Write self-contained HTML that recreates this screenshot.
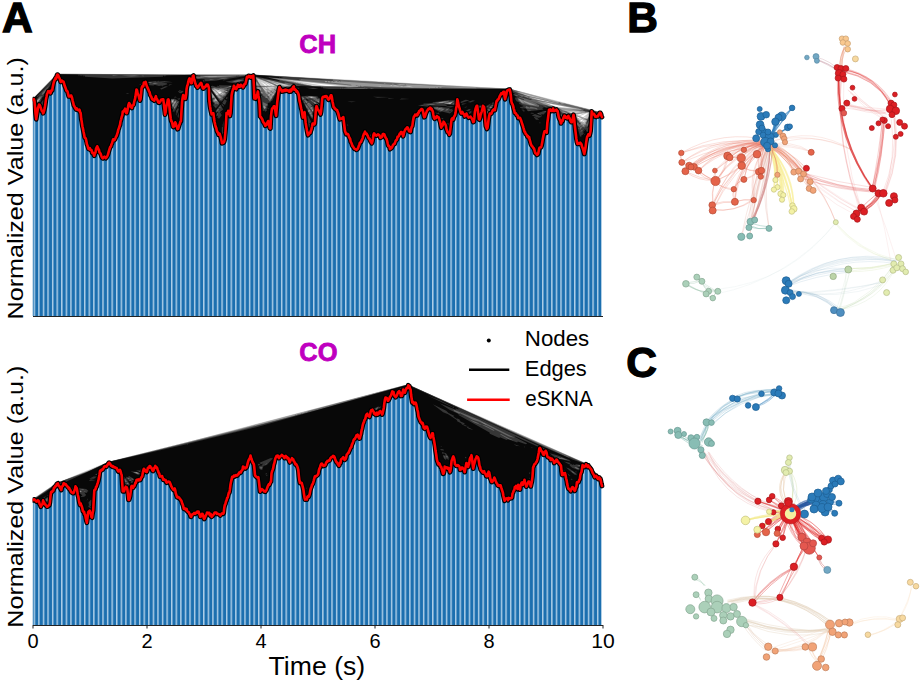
<!DOCTYPE html><html><head><meta charset="utf-8"><style>
html,body{margin:0;padding:0;background:#fff;overflow:hidden;}
svg{display:block;}
text{font-family:"Liberation Sans",sans-serif;}
</style></head><body>
<svg width="922" height="686" viewBox="0 0 922 686">
<defs>
<pattern id="bars" patternUnits="userSpaceOnUse" x="33.6" y="0" width="4.58" height="10">
<rect width="4.58" height="10" fill="#1c6faf"/>
<rect x="0" width="1.45" height="10" fill="#afcfe8"/>
</pattern>
</defs>
<rect width="922" height="686" fill="#fff"/>

<clipPath id="c1"><polygon points="32.5,316.0 32.8,99.7 33.4,99.2 33.9,99.1 34.5,101.2 35.1,108.2 35.6,114.3 36.2,119.3 36.8,115.3 37.4,111.8 37.9,107.8 38.5,106.7 39.1,104.5 39.6,105.0 40.2,106.0 40.8,108.0 41.3,109.4 41.9,111.2 42.5,111.3 43.1,113.3 43.6,112.5 44.2,110.4 44.8,107.6 45.3,104.6 45.9,99.8 46.5,96.9 47.0,94.0 47.6,92.8 48.2,91.2 48.8,91.9 49.3,91.7 49.9,91.1 50.5,93.3 51.0,91.3 51.6,90.2 52.2,90.4 52.7,87.3 53.3,84.2 53.9,81.7 54.5,80.2 55.0,79.7 55.6,77.9 56.2,78.7 56.7,76.2 57.3,74.6 57.9,74.8 58.4,75.7 59.0,77.3 59.6,78.4 60.1,79.9 60.7,81.9 61.3,81.4 61.9,80.7 62.4,81.0 63.0,81.6 63.6,81.8 64.1,83.5 64.7,85.8 65.3,87.2 65.8,88.6 66.4,90.7 67.0,90.7 67.6,91.9 68.1,94.0 68.7,96.3 69.3,96.0 69.8,96.4 70.4,95.9 71.0,95.3 71.5,96.1 72.1,97.9 72.7,100.8 73.3,103.0 73.8,105.5 74.4,106.2 75.0,107.6 75.5,108.3 76.1,109.4 76.7,108.4 77.2,109.5 77.8,109.9 78.4,109.7 79.0,110.4 79.5,109.7 80.1,112.1 80.7,113.2 81.2,118.8 81.8,122.1 82.4,126.2 82.9,128.3 83.5,131.5 84.1,134.3 84.6,137.2 85.2,138.1 85.8,138.4 86.4,141.2 86.9,144.2 87.5,145.5 88.1,147.7 88.6,149.0 89.2,149.1 89.8,148.2 90.3,149.8 90.9,149.8 91.5,150.0 92.1,152.6 92.6,152.4 93.2,153.1 93.8,154.9 94.3,155.7 94.9,153.0 95.5,152.6 96.0,148.9 96.6,147.6 97.2,146.3 97.8,147.4 98.3,149.4 98.9,149.5 99.5,152.4 100.0,152.8 100.6,153.7 101.2,155.5 101.7,156.8 102.3,157.9 102.9,158.3 103.5,157.4 104.0,157.0 104.6,156.7 105.2,157.5 105.7,158.2 106.3,157.6 106.9,156.8 107.4,155.8 108.0,154.4 108.6,152.2 109.1,150.4 109.7,148.5 110.3,146.8 110.9,146.5 111.4,144.4 112.0,143.5 112.6,141.0 113.1,139.3 113.7,139.3 114.3,140.1 114.8,139.6 115.4,138.2 116.0,136.6 116.6,135.9 117.1,134.2 117.7,132.4 118.3,129.5 118.8,128.5 119.4,126.4 120.0,124.8 120.5,121.5 121.1,119.5 121.7,116.9 122.3,115.3 122.8,111.5 123.4,111.9 124.0,110.4 124.5,110.5 125.1,108.7 125.7,109.8 126.2,113.1 126.8,113.1 127.4,110.9 128.0,107.4 128.5,104.6 129.1,103.0 129.7,103.8 130.2,105.6 130.8,107.0 131.4,107.3 131.9,107.9 132.5,105.3 133.1,105.3 133.6,104.9 134.2,101.7 134.8,99.9 135.4,97.1 135.9,93.4 136.5,89.5 137.1,90.4 137.6,93.3 138.2,94.6 138.8,96.2 139.3,98.4 139.9,100.6 140.5,99.1 141.1,93.6 141.6,88.2 142.2,86.3 142.8,86.0 143.3,86.3 143.9,82.5 144.5,83.3 145.0,83.1 145.6,81.9 146.2,84.1 146.8,86.2 147.3,87.2 147.9,88.4 148.5,89.7 149.0,91.2 149.6,92.1 150.2,95.0 150.7,95.8 151.3,96.7 151.9,98.7 152.5,99.5 153.0,99.8 153.6,99.6 154.2,100.7 154.7,99.3 155.3,97.8 155.9,96.2 156.4,98.5 157.0,99.2 157.6,100.4 158.1,102.1 158.7,102.7 159.3,102.8 159.9,101.7 160.4,101.4 161.0,99.8 161.6,99.7 162.1,99.4 162.7,99.4 163.3,99.4 163.8,103.3 164.4,108.7 165.0,114.6 165.6,112.4 166.1,107.7 166.7,104.9 167.3,102.7 167.8,99.8 168.4,99.3 169.0,101.1 169.5,107.8 170.1,113.5 170.7,118.2 171.3,121.3 171.8,121.5 172.4,123.9 173.0,126.8 173.5,127.0 174.1,126.2 174.7,123.5 175.2,122.3 175.8,123.4 176.4,126.0 177.0,127.0 177.5,129.2 178.1,128.9 178.7,126.8 179.2,125.2 179.8,123.7 180.4,121.7 180.9,121.3 181.5,110.5 182.1,101.4 182.6,98.0 183.2,95.0 183.8,95.7 184.4,97.3 184.9,98.9 185.5,98.9 186.1,94.8 186.6,88.9 187.2,85.8 187.8,84.5 188.3,81.5 188.9,79.5 189.5,78.3 190.1,78.8 190.6,80.9 191.2,83.2 191.8,83.0 192.3,79.2 192.9,76.0 193.5,75.5 194.0,79.1 194.6,80.3 195.2,83.1 195.8,84.3 196.3,86.1 196.9,86.4 197.5,87.6 198.0,87.1 198.6,86.0 199.2,85.4 199.7,84.4 200.3,83.7 200.9,82.9 201.5,83.5 202.0,85.7 202.6,87.7 203.2,88.6 203.7,88.4 204.3,87.1 204.9,87.1 205.4,86.8 206.0,85.6 206.6,84.7 207.1,85.6 207.7,84.7 208.3,85.8 208.9,88.0 209.4,101.2 210.0,106.2 210.6,109.7 211.1,112.0 211.7,114.3 212.3,113.6 212.8,113.2 213.4,113.3 214.0,118.3 214.6,122.0 215.1,124.3 215.7,126.7 216.3,128.1 216.8,130.5 217.4,132.0 218.0,132.6 218.5,134.8 219.1,133.6 219.7,133.8 220.3,135.8 220.8,137.4 221.4,140.0 222.0,143.3 222.5,142.7 223.1,142.9 223.7,142.5 224.2,141.5 224.8,138.9 225.4,132.2 226.0,123.0 226.5,113.1 227.1,113.3 227.7,113.9 228.2,110.9 228.8,111.0 229.4,114.1 229.9,116.0 230.5,113.3 231.1,103.4 231.6,95.2 232.2,92.1 232.8,90.0 233.4,88.0 233.9,85.8 234.5,86.6 235.1,88.7 235.6,88.9 236.2,89.2 236.8,87.9 237.3,86.8 237.9,84.8 238.5,85.1 239.1,86.8 239.6,86.7 240.2,86.5 240.8,84.8 241.3,85.5 241.9,85.6 242.5,86.4 243.0,87.3 243.6,86.3 244.2,84.6 244.8,83.8 245.3,84.0 245.9,81.9 246.5,78.9 247.0,76.9 247.6,77.5 248.2,76.7 248.7,75.9 249.3,76.9 249.9,77.1 250.5,76.2 251.0,77.6 251.6,77.3 252.2,76.2 252.7,75.9 253.3,75.5 253.9,86.3 254.4,98.4 255.0,98.4 255.6,98.7 256.1,98.1 256.7,95.2 257.3,93.7 257.9,91.4 258.4,95.5 259.0,98.7 259.6,104.4 260.1,116.4 260.7,116.9 261.3,117.6 261.8,118.6 262.4,119.3 263.0,121.6 263.6,122.6 264.1,122.7 264.7,124.3 265.3,125.8 265.8,125.3 266.4,125.1 267.0,123.4 267.5,122.1 268.1,121.0 268.7,122.9 269.3,126.1 269.8,128.2 270.4,128.5 271.0,115.8 271.5,111.8 272.1,108.5 272.7,108.4 273.2,107.8 273.8,106.2 274.4,106.3 275.0,107.8 275.5,112.1 276.1,115.8 276.7,108.6 277.2,102.4 277.8,97.7 278.4,92.7 278.9,89.5 279.5,87.1 280.1,88.8 280.6,89.1 281.2,89.9 281.8,91.4 282.4,90.7 282.9,91.3 283.5,90.3 284.1,91.0 284.6,90.2 285.2,89.6 285.8,90.8 286.3,89.8 286.9,90.3 287.5,90.4 288.1,90.4 288.6,91.3 289.2,91.6 289.8,91.5 290.3,89.8 290.9,91.4 291.5,90.4 292.0,88.7 292.6,88.4 293.2,87.0 293.8,86.4 294.3,89.7 294.9,89.2 295.5,89.6 296.0,90.2 296.6,91.7 297.2,91.4 297.7,92.4 298.3,93.6 298.9,95.7 299.5,100.6 300.0,102.6 300.6,105.5 301.2,108.5 301.7,110.4 302.3,114.5 302.9,117.6 303.4,116.1 304.0,113.6 304.6,112.1 305.1,117.1 305.7,123.0 306.3,126.6 306.9,130.2 307.4,132.7 308.0,135.2 308.6,134.5 309.1,132.9 309.7,132.6 310.3,132.8 310.8,131.0 311.4,129.4 312.0,126.7 312.6,123.6 313.1,124.6 313.7,123.6 314.3,124.4 314.8,123.6 315.4,116.3 316.0,108.0 316.5,106.0 317.1,107.3 317.7,109.5 318.3,110.0 318.8,110.9 319.4,111.8 320.0,113.1 320.5,114.4 321.1,111.7 321.7,105.0 322.2,98.4 322.8,97.0 323.4,96.8 324.0,97.0 324.5,96.3 325.1,96.8 325.7,96.1 326.2,96.1 326.8,96.6 327.4,97.7 327.9,99.0 328.5,99.8 329.1,98.9 329.7,98.5 330.2,97.0 330.8,95.4 331.4,95.3 331.9,97.4 332.5,101.5 333.1,104.1 333.6,107.1 334.2,107.4 334.8,108.6 335.3,108.6 335.9,109.5 336.5,109.8 337.1,110.2 337.6,111.8 338.2,113.1 338.8,115.6 339.3,117.7 339.9,119.3 340.5,118.5 341.0,118.5 341.6,118.7 342.2,118.3 342.8,117.8 343.3,117.0 343.9,122.0 344.5,127.0 345.0,130.9 345.6,132.4 346.2,134.2 346.7,133.7 347.3,134.0 347.9,134.0 348.5,135.2 349.0,136.8 349.6,138.0 350.2,139.0 350.7,141.7 351.3,142.6 351.9,144.2 352.4,145.9 353.0,146.3 353.6,147.4 354.2,148.4 354.7,148.8 355.3,149.1 355.9,149.4 356.4,149.8 357.0,149.4 357.6,149.0 358.1,147.9 358.7,146.1 359.3,144.7 359.8,142.9 360.4,142.3 361.0,142.1 361.6,140.3 362.1,139.6 362.7,137.8 363.3,135.4 363.8,134.2 364.4,133.0 365.0,131.7 365.5,133.8 366.1,133.3 366.7,133.8 367.3,135.2 367.8,135.8 368.4,137.6 369.0,138.5 369.5,138.5 370.1,140.3 370.7,141.7 371.2,142.2 371.8,143.3 372.4,141.6 373.0,138.2 373.5,134.5 374.1,133.3 374.7,134.2 375.2,135.1 375.8,135.2 376.4,135.6 376.9,135.0 377.5,134.8 378.1,134.3 378.7,134.9 379.2,135.0 379.8,136.2 380.4,137.8 380.9,137.5 381.5,137.3 382.1,136.7 382.6,134.5 383.2,133.9 383.8,134.5 384.3,134.3 384.9,135.9 385.5,137.4 386.1,138.5 386.6,139.0 387.2,141.2 387.8,144.0 388.3,145.8 388.9,145.8 389.5,147.0 390.0,149.2 390.6,147.4 391.2,148.3 391.8,147.7 392.3,146.7 392.9,145.2 393.5,144.6 394.0,143.7 394.6,143.9 395.2,142.1 395.7,140.8 396.3,139.9 396.9,139.7 397.5,136.9 398.0,136.9 398.6,136.3 399.2,135.1 399.7,133.6 400.3,133.8 400.9,132.1 401.4,132.0 402.0,132.3 402.6,134.2 403.2,136.3 403.7,134.2 404.3,131.7 404.9,130.5 405.4,129.3 406.0,128.9 406.6,128.2 407.1,127.4 407.7,127.5 408.3,129.0 408.8,130.7 409.4,131.5 410.0,130.9 410.6,131.9 411.1,128.8 411.7,126.8 412.3,126.1 412.8,122.3 413.4,118.7 414.0,116.4 414.5,116.0 415.1,114.7 415.7,115.4 416.3,115.5 416.8,114.3 417.4,115.2 418.0,113.0 418.5,113.2 419.1,111.2 419.7,110.6 420.2,110.7 420.8,109.7 421.4,109.0 422.0,109.0 422.5,109.6 423.1,111.5 423.7,115.3 424.2,117.2 424.8,116.9 425.4,115.1 425.9,113.5 426.5,112.1 427.1,110.6 427.7,110.0 428.2,109.1 428.8,108.7 429.4,108.9 429.9,107.9 430.5,107.8 431.1,109.4 431.6,108.8 432.2,110.5 432.8,111.3 433.3,114.4 433.9,117.5 434.5,118.8 435.1,117.4 435.6,117.6 436.2,118.0 436.8,116.0 437.3,116.9 437.9,116.8 438.5,117.1 439.0,118.2 439.6,120.5 440.2,122.2 440.8,125.4 441.3,127.7 441.9,125.5 442.5,125.6 443.0,124.0 443.6,121.7 444.2,122.3 444.7,123.5 445.3,124.3 445.9,125.8 446.5,129.4 447.0,130.4 447.6,132.3 448.2,132.5 448.7,133.0 449.3,134.7 449.9,133.5 450.4,129.1 451.0,123.8 451.6,119.2 452.2,118.4 452.7,118.7 453.3,119.5 453.9,116.9 454.4,116.1 455.0,115.2 455.6,112.6 456.1,108.5 456.7,105.7 457.3,99.3 457.8,100.9 458.4,104.0 459.0,106.8 459.6,108.4 460.1,110.5 460.7,112.5 461.3,113.5 461.8,113.4 462.4,111.9 463.0,113.5 463.5,113.7 464.1,114.2 464.7,116.5 465.3,114.5 465.8,114.6 466.4,113.5 467.0,114.6 467.5,116.3 468.1,116.9 468.7,117.6 469.2,117.2 469.8,117.3 470.4,116.5 471.0,117.4 471.5,117.9 472.1,119.0 472.7,120.3 473.2,122.1 473.8,121.7 474.4,117.4 474.9,111.8 475.5,109.0 476.1,107.2 476.7,105.7 477.2,105.7 477.8,110.3 478.4,115.0 478.9,119.0 479.5,119.6 480.1,117.7 480.6,114.8 481.2,113.1 481.8,111.3 482.3,109.4 482.9,105.9 483.5,106.3 484.1,107.0 484.6,111.1 485.2,119.3 485.8,126.1 486.3,127.4 486.9,128.9 487.5,127.8 488.0,124.3 488.6,119.4 489.2,116.1 489.8,113.5 490.3,114.1 490.9,113.8 491.5,113.4 492.0,111.8 492.6,110.7 493.2,109.8 493.7,110.3 494.3,109.2 494.9,110.2 495.5,106.6 496.0,104.0 496.6,101.1 497.2,100.8 497.7,99.5 498.3,99.4 498.9,98.3 499.4,97.0 500.0,95.6 500.6,94.8 501.2,93.3 501.7,94.1 502.3,93.8 502.9,92.6 503.4,91.7 504.0,91.7 504.6,96.8 505.1,99.3 505.7,96.8 506.3,94.5 506.8,91.3 507.4,90.3 508.0,90.4 508.6,89.8 509.1,89.6 509.7,89.5 510.3,92.1 510.8,95.2 511.4,101.5 512.0,103.6 512.5,104.1 513.1,105.9 513.7,108.6 514.3,110.4 514.8,112.9 515.4,113.2 516.0,113.5 516.5,114.8 517.1,115.3 517.7,115.7 518.2,118.0 518.8,117.6 519.4,118.0 520.0,117.9 520.5,118.9 521.1,120.3 521.7,122.3 522.2,124.0 522.8,125.5 523.4,127.6 523.9,129.2 524.5,131.6 525.1,132.1 525.7,133.9 526.2,134.2 526.8,135.0 527.4,136.5 527.9,136.0 528.5,137.6 529.1,137.1 529.6,139.5 530.2,141.4 530.8,143.8 531.3,145.1 531.9,145.9 532.5,146.5 533.1,147.6 533.6,148.0 534.2,149.0 534.8,151.4 535.3,153.2 535.9,153.5 536.5,154.0 537.0,154.9 537.6,154.4 538.2,153.8 538.8,150.7 539.3,148.2 539.9,147.4 540.5,147.2 541.0,147.3 541.6,145.6 542.2,142.6 542.7,139.4 543.3,136.3 543.9,133.4 544.5,131.3 545.0,131.2 545.6,131.1 546.2,132.1 546.7,132.7 547.3,123.3 547.9,118.9 548.4,114.8 549.0,109.7 549.6,109.8 550.2,109.4 550.7,110.7 551.3,110.3 551.9,111.0 552.4,110.6 553.0,108.6 553.6,110.1 554.1,111.0 554.7,110.8 555.3,110.4 555.8,110.4 556.4,109.5 557.0,111.0 557.6,111.1 558.1,113.7 558.7,117.1 559.3,118.6 559.8,119.5 560.4,120.8 561.0,123.4 561.5,122.2 562.1,120.4 562.7,120.8 563.3,118.1 563.8,117.2 564.4,115.7 565.0,115.9 565.5,117.7 566.1,117.7 566.7,118.1 567.2,118.3 567.8,116.5 568.4,115.8 569.0,118.0 569.5,117.9 570.1,119.7 570.7,121.3 571.2,122.2 571.8,122.2 572.4,120.5 572.9,117.7 573.5,114.8 574.1,117.7 574.7,124.4 575.2,129.2 575.8,134.0 576.4,138.9 576.9,142.0 577.5,143.9 578.1,143.3 578.6,143.0 579.2,143.8 579.8,143.3 580.3,142.7 580.9,143.6 581.5,144.4 582.1,146.9 582.6,147.9 583.2,149.9 583.8,152.2 584.3,154.0 584.9,150.7 585.5,147.8 586.0,143.6 586.6,139.6 587.2,136.6 587.8,135.9 588.3,134.3 588.9,134.6 589.5,135.5 590.0,133.7 590.6,130.8 591.2,121.2 591.7,111.4 592.3,112.8 592.9,114.1 593.5,114.4 594.0,113.8 594.6,114.8 595.2,116.6 595.7,116.4 596.3,116.9 596.9,116.3 597.4,115.9 598.0,116.3 598.6,114.7 599.2,114.3 599.7,112.9 600.3,112.8 600.9,113.9 601.4,115.7 601.7,117.1 601.7,316.0"/></clipPath>
<rect x="32.5" y="60" width="569.2" height="556.0" fill="url(#bars)" clip-path="url(#c1)"/>
<path fill="#c9c9c9" fill-rule="evenodd" d="M584.2 120.2 584.2 121.2 582.5 122.2ZM582.5 119.5 582.5 120.8 581.2 121.5 580.5 120.2ZM576.8 117.2 578.2 116.8 581.2 118.2 579.5 118.5ZM586.5 116.2 584.8 118.0 584.0 117.8ZM588.0 113.5 583.2 117.2 579.8 116.0 586.8 113.2ZM583.8 113.5 579.0 115.5 576.2 114.8ZM568.8 111.8 575.5 111.8 571.8 112.5ZM479.2 106.5 481.2 106.5 480.5 107.2ZM545.8 103.0 573.2 108.2 555.2 106.5ZM215.5 93.5 217.8 95.0 217.0 95.2ZM216.8 91.2 221.5 92.5 219.8 93.8ZM269.0 83.5 274.5 85.5 272.8 85.8ZM264.5 82.5 270.8 85.5 269.0 85.8ZM260.2 81.2 267.2 85.5 265.2 85.8ZM294.5 81.0 339.5 86.0 326.2 86.0ZM32.2 99.2 33.8 100.2 35.5 119.2 36.8 118.8 38.0 109.2 39.2 106.0 42.5 113.5 43.5 113.5 44.8 110.8 47.8 93.5 48.5 92.2 50.8 93.2 52.5 90.2 54.5 81.2 57.5 76.0 60.2 82.0 62.0 81.8 63.0 82.8 68.2 96.2 71.0 97.0 74.2 108.0 75.8 109.8 79.2 111.2 83.0 134.2 87.8 149.0 91.0 150.8 93.2 155.5 94.5 156.0 97.2 148.2 102.5 158.8 104.0 157.8 106.0 158.8 107.5 157.0 113.2 140.5 115.2 140.0 117.0 136.5 120.8 124.8 123.5 112.0 125.0 110.8 125.5 112.8 127.2 113.0 129.2 105.0 130.0 107.0 132.2 108.0 134.0 105.0 136.8 93.5 139.2 100.5 140.5 100.2 142.2 87.5 144.2 83.5 145.2 83.8 151.8 99.8 154.2 101.0 155.8 98.8 158.8 103.2 161.5 100.2 163.0 100.8 164.5 114.5 165.5 114.2 166.5 106.5 168.2 102.2 169.8 118.0 172.2 126.8 173.8 127.2 175.2 124.5 177.0 129.5 178.0 129.5 181.2 121.8 183.2 97.5 184.5 99.0 185.8 99.0 189.5 80.0 190.5 83.0 191.5 83.5 193.0 78.2 195.5 86.0 197.0 87.8 200.5 84.2 203.0 89.0 206.5 85.8 207.8 86.5 209.8 110.0 211.0 114.2 212.8 114.5 215.8 130.0 217.8 134.8 219.5 135.8 221.5 143.5 223.5 143.2 225.0 141.0 227.0 114.5 228.2 113.2 229.2 116.0 230.5 115.8 231.8 97.5 234.2 88.2 236.2 89.5 238.0 86.2 239.2 87.2 241.2 86.0 243.2 87.5 246.5 82.0 247.0 78.5 248.5 77.0 250.8 77.8 252.2 76.8 252.8 77.2 253.8 98.0 255.8 99.0 257.0 95.8 257.8 96.0 259.5 116.8 264.5 126.0 266.2 125.8 267.8 123.2 269.2 128.2 270.8 128.5 271.5 113.8 272.2 109.8 274.0 107.8 275.2 115.0 276.0 116.0 276.5 115.5 278.2 96.0 279.8 89.5 281.2 91.2 285.0 90.5 289.2 92.0 291.2 91.5 293.2 88.0 297.0 92.5 302.0 116.8 303.0 117.8 304.2 116.2 306.0 130.5 307.5 135.5 310.8 132.8 312.8 125.2 315.2 123.8 316.5 109.2 319.8 114.2 321.0 114.2 323.0 97.8 326.0 96.8 327.5 99.5 328.8 100.0 330.8 97.2 333.0 107.5 336.5 111.0 339.0 119.0 342.8 119.0 344.8 132.8 345.8 134.5 347.5 135.0 353.0 148.2 356.0 150.2 358.5 148.5 364.8 133.8 366.5 134.8 371.2 143.5 372.5 142.8 374.2 135.0 375.0 135.8 378.0 135.2 380.2 138.0 382.0 137.5 383.5 135.0 386.2 140.2 387.8 146.2 389.8 149.2 392.0 148.2 401.2 132.8 403.0 136.5 405.5 130.2 407.2 128.5 408.8 131.8 410.8 131.8 412.8 126.5 414.0 117.8 415.5 115.8 417.8 114.8 421.5 110.0 423.5 117.0 424.5 117.5 427.5 110.8 430.2 108.8 432.2 112.0 433.8 118.8 437.0 117.2 438.2 118.0 441.0 127.8 443.5 123.8 444.5 124.2 446.8 132.0 449.5 135.0 451.0 129.5 451.8 120.5 452.5 119.2 453.8 119.2 455.5 115.5 457.5 104.5 460.2 113.2 463.5 114.5 464.2 116.5 466.0 114.8 468.0 117.8 470.2 117.8 473.0 122.2 474.2 121.5 476.2 108.2 477.0 108.2 478.0 118.8 479.8 119.8 483.2 107.8 485.0 126.0 486.2 129.0 487.2 129.0 489.8 115.0 491.8 113.8 493.5 110.5 495.2 109.8 497.0 101.8 501.2 94.5 503.0 93.2 503.8 93.8 504.5 99.2 505.2 99.5 507.2 91.5 508.5 90.5 510.0 94.5 510.5 101.8 514.0 112.8 517.8 118.0 519.8 119.2 523.8 131.8 528.5 138.2 530.2 144.8 533.0 148.5 534.5 153.2 536.5 155.2 538.5 154.2 539.5 149.2 542.2 145.8 544.8 132.2 547.0 132.8 550.0 110.2 551.8 111.2 552.8 110.5 553.8 111.2 556.5 111.0 558.2 118.2 560.8 123.5 564.5 117.0 566.5 118.5 568.0 117.2 570.8 122.5 572.0 122.5 573.5 119.8 577.0 144.2 580.5 144.2 584.0 154.2 585.5 151.0 587.2 138.0 588.5 135.5 590.0 135.5 591.2 131.0 592.0 114.8 593.2 114.5 595.0 117.0 596.5 117.2 600.0 113.8 601.0 116.5 602.2 116.8 599.8 111.8 509.0 88.5 254.5 74.5 57.0 73.8Z"/>
<path fill="#999999" fill-rule="evenodd" d="M575.2 115.8 582.0 118.2 581.0 119.5 583.5 118.5 583.5 120.0 586.0 120.2 586.5 121.0 584.8 122.2 585.0 123.5 583.2 123.8 584.2 122.0 583.0 122.8 581.8 121.8 580.5 122.2 579.5 121.2 580.0 120.2 578.8 120.2 578.5 118.5ZM589.2 112.8 588.2 113.8 588.2 117.0 587.0 119.0 575.5 114.8 584.5 112.8ZM567.2 111.5 578.2 111.2 581.2 112.2 572.2 113.8ZM564.0 110.0 569.8 110.5 565.0 110.8ZM480.0 109.0 480.2 108.2 481.0 108.8ZM478.5 106.5 481.2 106.0 481.8 107.8 479.8 107.5 479.5 108.2ZM451.0 103.0 450.0 104.0 448.5 103.8ZM543.8 102.2 578.0 109.0 558.2 107.8ZM173.2 100.2 172.2 102.5 170.5 102.0ZM215.5 98.8 216.8 100.0 216.2 100.8 215.2 100.2ZM532.2 98.0 538.5 98.8 558.2 103.8 540.5 100.8ZM310.5 97.0 313.0 97.5 311.2 98.0ZM213.2 95.2 214.8 97.0 214.2 97.5ZM273.0 94.2 273.8 94.5 273.2 95.2 272.5 95.0ZM269.8 94.5 268.8 95.5 267.5 95.0ZM224.0 93.2 221.2 94.8 222.2 93.2ZM519.2 92.8 546.8 99.8 526.5 95.5ZM505.0 92.0 506.0 92.2 505.2 93.2ZM267.5 90.5 270.2 91.2 268.8 91.8ZM212.2 89.8 214.5 90.5 218.5 94.0 216.8 95.5ZM214.5 89.2 219.8 90.2 222.2 92.2 219.8 94.0ZM262.8 87.0 267.0 91.0 266.5 91.8 262.2 87.8ZM266.8 87.0 272.8 86.8 274.8 87.8 274.0 88.5 269.8 88.2 272.8 89.2 269.8 90.0ZM264.2 87.0 265.8 87.0 267.8 89.0 265.5 89.0ZM402.8 86.8 409.5 86.2 413.8 87.2ZM399.8 86.5 402.2 86.0 402.8 86.8ZM380.0 85.8 380.8 86.2 380.2 86.8 379.5 86.2ZM392.5 86.0 395.0 85.5 399.8 86.5ZM389.5 85.8 391.8 85.2 392.2 86.0ZM276.0 82.5 287.2 84.8 288.0 85.8 284.5 85.8ZM271.5 82.2 283.0 85.8 278.2 85.8ZM281.2 79.2 354.8 86.5 312.2 86.0 302.8 84.2 302.2 82.8 302.0 83.8 301.0 83.8 300.5 82.5 300.2 83.5 299.2 83.5 299.0 82.2 298.2 83.2 297.5 82.0 296.5 82.8 295.2 81.8 294.8 82.5 294.2 81.5ZM257.2 78.8 264.5 80.8 275.5 85.8 261.2 86.0 258.2 82.2ZM207.5 76.8 216.8 76.5 216.2 77.2 212.2 77.5ZM32.5 99.0 34.0 100.2 35.8 119.0 36.5 118.8 37.8 109.2 39.2 105.5 42.5 113.2 43.5 113.2 47.8 93.0 49.0 92.0 50.5 93.0 50.2 92.0 52.2 90.2 54.2 81.5 57.5 75.8 60.5 81.8 62.0 81.5 63.2 82.8 68.2 95.8 71.0 96.8 74.2 107.8 75.8 109.5 79.2 111.0 83.2 134.5 87.8 148.8 91.0 150.5 94.2 156.0 97.2 148.0 102.2 158.5 104.2 157.5 106.0 158.5 107.5 156.8 113.0 140.8 115.2 139.8 117.0 136.2 123.5 111.8 125.2 110.0 125.8 112.8 127.0 113.0 129.2 104.5 130.2 107.0 132.0 107.8 134.8 102.0 136.8 91.8 139.2 100.2 140.2 100.2 142.0 87.5 144.2 83.2 145.5 83.5 152.0 99.8 154.2 100.8 155.8 98.5 158.5 103.0 161.8 100.0 163.2 100.8 165.0 114.5 166.2 106.0 168.2 101.2 170.0 118.5 172.2 126.5 173.5 127.2 175.2 124.0 177.0 129.2 178.2 129.2 181.2 121.2 183.0 97.2 183.5 96.8 184.8 99.0 185.8 98.5 187.0 87.5 188.8 81.0 189.8 79.5 191.5 83.2 193.0 77.2 194.8 83.8 197.0 87.5 200.5 84.0 203.0 88.8 206.8 85.2 208.0 86.8 210.0 110.2 211.0 114.0 213.0 114.8 213.8 122.0 216.0 130.2 218.0 134.8 219.5 135.2 221.5 143.2 223.2 143.2 224.8 141.2 226.8 114.5 228.5 111.8 229.2 115.5 230.2 115.8 232.0 94.5 234.2 87.5 235.0 89.0 236.2 89.2 238.0 85.8 239.0 87.0 241.5 85.8 243.2 87.2 246.0 82.8 247.0 78.0 248.5 76.8 251.2 77.5 252.5 76.5 253.0 77.5 254.0 98.2 255.8 98.8 257.8 94.8 259.8 116.8 264.8 126.0 266.2 125.5 268.0 122.8 269.2 127.8 270.5 128.2 271.2 114.0 272.2 109.2 274.0 107.0 276.2 115.5 278.0 96.2 279.8 89.2 281.5 91.0 285.2 90.2 289.2 91.8 291.0 91.2 293.5 87.8 297.0 92.2 298.2 95.2 302.2 117.0 303.2 117.2 304.0 115.0 305.5 126.5 307.8 135.5 310.8 132.5 312.5 125.2 315.2 123.5 316.2 108.8 317.0 108.5 320.0 114.2 321.0 113.8 322.8 97.8 326.2 96.8 327.5 99.2 328.8 99.8 330.8 96.8 333.0 107.2 336.8 111.2 339.2 119.0 343.0 118.8 344.2 131.0 345.8 134.2 347.5 134.8 353.0 148.0 355.8 150.0 357.0 150.0 358.5 148.2 365.0 133.2 371.5 143.2 372.8 141.5 374.2 134.5 375.5 135.8 378.5 135.2 380.2 137.8 382.0 137.2 382.5 135.2 383.5 134.8 386.5 140.2 387.8 146.0 390.0 148.8 391.8 148.2 401.2 132.5 403.0 136.2 405.2 130.2 407.2 128.2 408.8 131.5 410.5 131.5 412.8 126.0 414.2 117.0 421.5 109.8 422.5 110.8 423.8 117.0 424.5 117.2 427.2 110.8 430.2 108.5 432.8 112.8 433.8 118.2 434.5 118.8 436.8 117.0 438.2 117.8 441.2 127.5 444.0 123.0 446.8 131.5 449.5 134.8 451.8 120.0 452.5 119.0 453.5 119.2 455.2 115.8 457.5 103.0 460.5 113.2 462.2 113.2 464.5 116.2 466.2 114.5 468.0 117.5 470.8 117.8 473.0 122.0 474.0 121.8 476.2 107.8 477.2 108.8 478.2 118.8 479.8 119.5 483.2 107.2 485.2 126.0 486.8 129.0 488.5 124.0 489.5 115.0 495.0 109.5 497.5 100.5 501.0 94.5 503.2 92.8 505.2 99.2 507.0 91.8 509.0 90.5 511.0 99.5 510.8 102.0 514.2 112.8 519.8 119.0 524.0 131.8 528.8 138.2 530.8 145.5 536.5 155.0 538.5 154.0 539.5 148.8 542.0 146.0 545.0 131.8 546.8 132.5 549.8 110.0 551.8 111.0 552.8 110.0 553.8 111.0 556.8 111.0 558.5 118.2 561.0 123.2 564.5 116.5 566.5 118.2 568.2 117.0 571.2 122.5 573.5 119.0 576.8 143.8 580.8 144.2 583.2 152.5 584.5 154.0 587.2 137.5 588.5 135.2 589.8 135.2 591.0 131.0 592.0 114.0 593.8 114.5 595.0 116.8 596.5 117.0 600.5 113.0 600.0 112.0 556.8 101.5 510.0 88.8 330.5 79.5 256.0 74.8 57.8 73.8Z"/>
<path fill="#666666" fill-rule="evenodd" d="M582.5 125.5 583.5 125.0 584.5 126.0 583.5 126.5ZM487.5 117.5 487.8 119.0 486.5 120.5 486.5 118.2ZM569.8 115.8 571.8 115.2 572.5 116.2 571.8 116.8ZM310.8 115.2 312.5 115.8 311.8 116.2ZM311.2 112.5 310.2 114.2 309.8 113.0ZM486.5 112.0 488.5 113.2 486.2 116.2 485.8 112.5ZM562.0 111.8 563.2 111.5 569.8 114.2 567.5 114.8ZM424.8 111.2 425.5 112.0 424.2 113.2ZM310.0 110.0 310.2 110.8 308.8 112.0 308.2 110.8ZM313.8 108.8 313.8 111.0 312.8 111.8 311.5 110.2ZM442.0 109.5 443.0 108.5 444.0 109.0ZM438.8 108.8 440.0 108.2 440.5 109.0ZM312.2 107.2 311.0 109.5 310.5 107.8ZM37.0 107.0 37.5 108.2 36.2 110.5 35.8 108.5ZM489.5 107.2 492.2 107.0 491.5 108.0ZM175.2 106.2 175.2 107.8 174.2 108.5ZM306.0 106.2 307.0 106.5 306.5 107.0ZM481.8 106.0 482.0 107.8 480.2 109.8 480.8 110.8 479.0 112.0 479.2 109.8 478.0 108.8 478.0 106.2ZM263.5 105.8 265.8 106.8 264.8 109.0 263.8 108.2ZM35.5 103.8 36.2 104.5 35.8 106.0ZM307.5 103.8 308.2 103.2 308.8 104.0ZM36.2 103.0 37.2 103.8 36.5 104.0ZM313.8 102.8 314.8 102.2 317.0 103.5 315.5 104.2ZM166.0 102.0 166.2 103.8 164.8 106.2 164.8 103.2ZM453.2 101.5 450.5 104.2 445.2 103.5ZM446.2 101.5 442.2 103.0 438.0 102.8 440.0 101.8ZM305.5 102.0 306.8 101.2 307.8 101.8 306.2 102.8ZM175.8 101.0 176.0 102.2 174.0 104.2 173.0 107.0 172.2 105.2 173.8 103.8 173.5 102.8ZM536.8 101.0 547.2 102.2 580.5 109.0 581.8 110.0 570.0 109.5 585.0 111.5 584.5 112.5 582.0 113.0 588.0 112.0 590.2 112.5 588.0 118.8 584.5 118.8 587.0 120.5 585.5 124.8 581.5 124.8 580.8 123.8 581.2 122.8 579.8 122.2 574.8 115.8 574.8 114.0 567.2 112.2 566.2 111.0 562.8 110.5 559.5 108.2 554.8 106.8 548.0 105.8ZM317.2 101.2 319.0 101.0 318.5 102.0ZM164.5 100.5 165.0 101.2 164.2 102.0 163.8 101.2ZM174.0 100.5 171.5 104.0 170.0 101.2 171.2 99.8ZM164.8 100.0 166.2 100.2 165.2 100.8ZM521.2 99.8 537.0 105.5 530.0 104.8 524.8 102.5ZM268.0 99.2 269.8 100.0 269.0 100.5ZM518.2 98.8 520.0 99.0 524.2 102.8 521.8 102.8ZM215.0 98.0 216.8 99.5 217.5 101.8 216.0 101.0 214.5 101.8 213.5 100.8 214.0 99.5 214.8 99.8ZM302.8 98.0 304.2 99.0 303.5 99.2ZM40.8 97.8 39.0 101.5 37.2 102.0 36.5 101.2 37.0 100.0ZM529.8 96.8 567.0 105.8 532.2 99.0 530.8 97.8 529.5 98.2ZM265.8 97.0 266.8 96.5 267.5 97.2 266.8 97.8ZM309.0 96.8 311.5 96.2 315.2 97.2 311.0 98.2ZM524.0 96.2 527.2 96.5 528.2 97.8ZM211.5 92.8 214.8 96.5 214.5 97.8 212.2 97.8ZM260.8 92.0 262.0 91.8 263.0 93.2 261.8 93.5ZM224.8 91.5 226.5 90.8 227.8 91.8 226.5 92.2ZM256.0 89.8 257.0 91.8 256.0 92.2 255.8 94.2 255.2 91.5ZM139.5 89.2 139.5 90.2 138.0 91.0 137.8 90.0ZM211.8 89.2 214.0 89.8 213.2 88.8 214.0 88.2 219.2 90.0 219.0 88.8 223.5 89.5 225.0 90.8 222.5 92.5 224.2 92.2 225.5 93.8 222.8 95.8 219.2 94.2 218.5 95.0 221.5 97.5 219.0 98.2ZM257.2 87.2 259.2 87.2 261.0 88.8 261.2 90.2 258.8 90.8ZM229.0 86.2 232.0 86.5 230.0 87.0ZM355.2 85.2 357.8 86.2 357.2 85.2ZM396.2 84.0 404.5 84.0 405.2 84.8 400.0 85.0ZM392.0 83.8 394.8 84.0 392.5 84.5ZM254.8 83.2 255.5 83.5 255.8 85.8 254.2 84.8ZM384.8 83.0 385.5 83.5 385.0 84.0 384.2 83.5ZM255.5 81.0 258.8 85.0 258.5 85.8 256.2 85.2ZM327.5 81.0 329.8 81.2 330.5 82.5 328.5 82.5ZM324.5 80.8 326.8 81.0 327.2 82.0 325.5 82.2ZM265.0 79.8 269.5 80.0 291.5 85.8 288.5 86.5 279.0 86.2ZM273.2 78.2 351.5 85.5 351.2 84.8 330.8 82.5 330.8 81.0 331.8 81.8 332.8 81.0 333.2 82.0 336.8 81.0 337.8 82.0 340.0 81.2 340.8 82.2 341.2 81.5 403.8 85.5 407.2 85.5 405.5 85.0 405.5 84.2 475.5 87.8 477.0 88.5 441.5 87.2 441.2 88.0 438.2 87.2 437.8 88.2 435.8 88.0 435.8 87.0 435.2 88.0 385.5 87.5 364.8 86.0 362.0 86.5 360.0 85.5 359.8 86.8 358.2 85.5 358.5 87.0 313.8 86.2ZM255.8 77.5 273.2 84.2 277.5 87.0 275.5 90.0 274.8 89.0 273.8 89.5 275.0 90.2 274.5 91.2 272.0 92.2 272.0 91.0 269.5 92.2 271.2 92.0 273.5 94.0 273.0 92.8 275.0 91.0 276.0 91.2 274.8 92.2 274.0 95.0 271.8 96.8 272.2 97.5 271.0 99.5 269.5 99.0 270.8 98.0 269.5 97.8 269.5 96.5 267.2 94.8 269.2 93.8 270.2 94.2 269.8 95.5 271.5 95.5 272.0 94.5 270.5 94.2 268.0 91.8 267.0 92.0 268.5 93.8 266.2 93.8 261.8 86.8 271.2 86.5 260.5 85.8ZM202.8 76.2 228.8 76.5 209.2 77.8ZM32.8 99.0 34.0 100.0 35.8 118.8 39.0 105.2 43.2 113.2 44.5 110.5 47.5 93.2 52.2 89.8 53.5 83.2 57.5 75.5 60.5 81.2 61.8 81.2 63.5 83.0 64.0 86.0 68.5 95.8 71.0 96.5 74.5 108.0 79.5 111.2 83.2 134.2 85.5 139.2 88.0 149.0 91.2 150.8 94.2 155.8 94.5 153.8 95.8 152.5 95.5 150.5 97.2 147.8 102.5 158.5 104.0 157.5 105.8 158.5 107.2 157.0 113.0 140.5 114.5 140.2 116.0 138.0 120.5 124.8 123.5 111.5 125.2 109.8 126.0 112.8 127.0 112.5 128.0 106.0 129.2 104.0 131.5 107.8 133.8 104.8 136.8 91.2 140.0 100.2 141.2 93.8 140.8 92.0 142.0 87.2 144.5 83.0 145.5 83.2 152.2 99.8 154.2 100.5 155.8 97.8 158.5 102.8 161.5 100.0 163.5 100.8 164.5 106.5 164.0 108.5 165.2 112.8 165.0 108.2 166.0 108.0 167.2 101.2 168.2 100.5 170.2 118.8 172.5 126.8 173.8 127.0 175.2 123.8 177.0 128.8 178.0 129.2 181.0 121.5 181.5 108.0 183.5 96.2 184.5 98.5 185.5 98.5 186.8 87.8 188.8 80.5 190.8 78.8 191.5 80.8 190.2 80.2 191.5 83.0 192.2 78.5 190.8 78.8 190.5 78.0 191.5 77.2 192.2 78.0 193.0 76.8 195.0 84.0 197.0 87.2 200.5 83.8 203.0 88.5 206.5 85.2 207.8 85.8 209.2 97.0 208.8 101.5 210.5 112.0 211.5 114.2 213.0 114.2 214.0 122.5 218.0 134.5 219.5 134.8 222.0 143.2 224.0 142.5 225.0 139.2 226.8 114.2 228.8 111.5 229.5 115.8 230.2 114.8 231.5 103.8 231.0 100.5 234.2 87.0 235.0 88.8 236.2 89.0 238.0 85.5 239.0 86.8 241.2 85.5 243.0 87.2 246.0 82.2 247.0 77.8 248.5 76.5 253.0 76.8 254.2 98.2 256.0 98.2 257.8 94.2 260.2 112.8 259.8 116.5 264.8 125.8 266.8 124.8 268.0 122.2 270.2 128.2 269.8 123.8 268.8 122.5 269.5 120.5 270.2 122.8 272.2 109.0 274.2 106.8 275.8 108.8 275.0 111.5 275.5 112.2 279.5 89.0 281.5 90.8 285.5 90.0 289.5 91.5 293.8 87.5 294.5 89.8 297.0 92.0 302.5 117.0 303.8 115.5 303.5 114.5 304.5 114.8 305.8 127.2 307.8 135.2 310.8 132.0 312.5 125.0 315.0 123.8 316.2 108.2 317.0 108.0 320.5 114.0 322.8 97.5 326.2 96.5 328.5 99.5 330.8 96.2 333.0 107.0 336.8 111.0 339.5 118.8 343.0 118.5 345.0 132.5 345.8 134.0 347.8 135.0 353.0 147.8 356.0 150.0 358.5 148.0 365.2 132.8 371.5 143.0 374.0 134.2 375.2 135.5 378.8 135.2 380.2 137.5 381.8 137.2 382.5 135.0 383.8 134.8 386.8 140.5 388.0 146.0 390.2 148.0 391.8 148.0 401.0 132.5 402.8 132.5 402.5 134.2 403.5 134.2 405.2 130.0 407.2 128.0 409.0 131.5 410.5 131.0 412.5 126.2 414.0 117.2 421.5 109.5 422.8 110.8 424.5 117.0 427.0 110.8 430.5 108.5 433.0 113.0 434.0 118.2 436.0 117.8 436.5 116.8 438.5 117.8 440.8 125.8 442.5 125.5 443.2 122.8 444.2 123.0 447.0 131.8 449.5 134.5 451.2 121.2 455.2 115.5 457.2 102.2 460.5 113.0 462.2 113.0 464.5 114.8 466.2 114.2 468.2 117.5 470.8 117.5 473.0 121.8 473.8 121.8 475.2 110.2 476.5 107.0 477.5 109.0 478.5 119.0 479.2 119.5 483.2 107.0 484.2 109.0 485.2 125.5 487.0 128.8 489.2 115.0 494.8 109.2 497.5 100.2 501.0 94.2 503.5 92.2 504.2 93.5 505.5 91.8 506.2 92.5 504.2 96.0 505.0 99.0 507.0 91.2 509.0 90.2 511.2 100.2 510.8 101.8 514.2 112.5 519.8 118.8 524.0 131.5 529.0 138.5 530.8 145.2 533.5 148.8 534.8 153.0 536.8 155.0 538.5 153.8 539.2 149.0 542.0 145.8 544.5 132.2 545.2 131.5 546.5 132.2 549.2 110.5 550.5 110.0 552.0 110.8 552.8 109.5 554.2 111.0 556.8 110.5 558.5 118.0 560.8 122.8 562.8 120.5 562.5 119.5 564.5 116.2 566.2 118.0 568.8 116.8 571.0 122.2 571.8 122.2 573.5 118.5 576.2 141.8 577.2 144.0 580.8 144.0 584.5 153.8 587.0 137.8 588.0 135.5 589.8 135.0 590.8 131.2 591.8 114.0 593.8 114.2 595.0 116.5 596.5 116.8 600.2 113.0 600.0 112.2 564.5 103.5 561.8 103.8 559.5 102.2 557.8 103.0 527.8 96.0 517.8 92.5 517.5 91.8 520.5 92.0 509.8 88.8 484.8 88.2 254.8 74.8 161.0 75.0 57.0 74.0Z"/>
<path fill="#363636" fill-rule="evenodd" d="M370.2 137.8 372.0 139.2 371.2 139.5ZM369.0 135.8 369.2 136.8 368.5 136.2ZM370.5 135.0 371.5 134.8 371.8 135.5ZM582.0 129.8 582.8 130.8 581.8 130.8 581.0 132.2 580.5 131.2ZM578.0 128.2 578.8 128.0 579.2 129.0ZM582.0 125.5 580.0 126.5 581.0 127.0ZM448.0 123.5 447.5 125.8 447.0 124.2ZM488.5 115.2 487.8 120.0 486.5 122.0 486.0 118.8ZM559.5 114.8 562.2 114.5 563.5 115.8 561.5 116.0 561.2 117.5 559.5 116.0ZM479.8 113.2 479.2 116.0 478.8 115.2ZM218.2 113.2 217.5 115.2 217.2 113.5ZM537.5 113.5 538.8 113.0 539.5 113.8ZM544.2 111.5 545.5 111.2 545.8 112.0ZM216.8 111.2 217.5 111.8 217.0 112.2 216.2 111.8ZM487.2 111.0 488.8 113.8 485.8 117.0 485.2 112.2ZM219.5 110.8 219.0 112.5 218.5 111.8ZM528.0 110.5 528.8 109.8 531.5 110.2ZM490.5 108.8 489.2 110.0 490.0 110.5 489.5 111.5 487.2 109.5ZM449.0 108.8 447.2 110.5 445.0 110.5 446.8 109.0ZM219.2 109.0 218.0 111.0 216.5 110.5 218.0 108.5ZM220.5 107.8 221.5 108.0 221.0 108.5ZM577.0 107.5 584.2 109.8 582.8 110.8 590.5 112.2 586.2 123.5 587.2 123.8 588.2 121.2 589.0 121.5 587.5 126.5 586.5 126.8 586.2 124.5 585.0 127.5 582.5 127.0 580.2 129.8 579.5 129.0 580.0 127.8 576.8 124.8 576.5 123.0 577.8 122.5 579.8 124.5 580.5 123.2 578.5 122.5 578.8 121.2 576.8 119.5 574.2 114.5 567.2 112.8 570.2 113.8 570.0 115.0 572.8 115.8 572.5 117.0 570.5 116.5 572.0 117.8 571.0 120.0 569.8 117.5 569.2 118.0 571.0 122.0 571.8 122.0 573.2 117.8 576.5 142.0 577.2 143.8 580.0 143.2 581.0 144.2 584.2 153.5 586.8 138.0 588.0 135.2 590.0 134.0 591.5 121.8 590.8 120.0 591.8 113.5 593.8 114.0 596.0 116.8 599.0 114.5 600.0 112.5ZM433.0 107.8 438.0 107.0 438.5 107.5 437.5 108.0 442.5 107.5 442.2 108.5 445.0 108.8 442.0 111.0 440.2 111.0 440.5 109.8 439.0 110.2ZM220.2 106.5 220.8 107.5 219.2 108.0 219.0 107.2ZM489.0 107.5 490.5 106.2 492.5 106.8 491.2 108.2ZM525.2 107.2 526.0 107.0 525.8 106.0 530.0 107.8 529.8 107.0 531.0 106.8 537.2 108.2 537.5 109.8 534.5 108.8 526.5 108.5ZM486.5 106.5 488.2 106.2 487.8 107.0ZM214.8 106.8 215.0 106.0 215.8 106.5ZM220.0 106.0 220.8 105.5 221.2 106.2ZM541.8 105.5 545.2 105.8 547.2 107.0ZM419.5 105.2 424.0 105.5 421.8 106.0ZM493.8 104.8 493.2 105.8 491.2 105.8 492.0 104.8ZM304.8 104.0 306.5 104.8 312.0 112.2 312.0 115.0 313.0 115.8 312.2 118.0 308.0 111.5 308.0 109.0 306.5 108.0ZM425.8 104.2 431.8 103.5 435.8 104.5 430.8 105.0ZM223.5 103.8 223.8 103.0 224.8 103.2ZM307.8 102.8 309.2 102.8 312.0 105.5 310.2 107.2 313.0 106.8 312.8 108.2 313.8 107.5 314.8 108.8 313.5 112.8 306.8 104.2ZM495.2 102.5 494.5 103.5 493.2 103.2ZM455.0 102.5 454.0 104.5 451.8 104.2ZM303.5 102.2 304.5 102.0 304.8 103.0 304.0 103.2ZM262.8 102.0 267.5 104.2 266.8 105.8 265.2 106.0 266.2 107.2 265.0 109.5 263.0 107.2ZM178.0 101.5 178.5 102.0 177.0 103.8 177.5 105.0 174.2 109.2 173.8 107.5 176.2 102.8ZM454.2 101.0 450.2 104.5 444.8 104.0 444.2 103.0 437.5 103.5 435.0 102.8 448.8 100.5 448.8 101.5 445.5 102.8ZM303.8 100.5 305.5 99.8 306.5 100.2 306.0 101.0 308.2 102.0 306.2 103.0ZM174.2 99.0 174.0 101.5 175.5 100.2 176.8 100.8 174.0 106.5 172.8 107.2 172.0 104.8 173.2 102.5 171.2 104.2 169.8 101.0 171.0 99.5ZM301.2 96.5 302.8 96.8 305.0 99.2 302.2 99.8ZM328.2 96.0 329.5 96.2 328.8 97.5 327.8 96.8ZM267.0 95.8 269.0 98.2 268.5 96.5ZM260.5 95.2 261.5 97.0 260.2 96.2ZM514.5 94.5 518.8 96.0 516.0 96.0ZM137.5 92.2 139.2 98.2 140.2 99.0 138.8 93.0ZM211.0 91.5 218.8 102.5 218.5 104.8 216.5 103.5 215.8 104.5 214.5 102.5 213.0 102.0 212.8 100.0 214.2 98.2 212.0 98.2 210.5 92.2ZM138.8 91.2 140.5 94.5 141.0 93.5ZM227.2 89.8 228.8 89.2 229.5 90.0 228.2 90.5ZM370.2 88.2 374.5 88.5 371.0 89.0ZM365.5 88.0 368.5 88.2 366.2 88.8ZM342.2 87.5 343.0 88.0 342.5 88.8ZM340.8 87.5 341.0 88.5 340.2 88.2ZM343.0 88.2 348.2 87.2 364.2 88.2 364.8 87.5 365.8 88.2 363.8 89.0ZM211.8 88.2 214.5 87.5 220.8 88.2 219.8 87.5 227.0 88.5 227.5 89.5 225.8 90.5 228.2 91.8 225.5 92.5 226.5 93.8 225.5 95.8 222.5 97.0 223.0 99.0 220.5 100.2 214.5 93.8 211.8 89.8ZM222.8 87.2 227.5 87.0 231.0 88.5ZM227.5 86.2 232.0 85.8 232.5 86.5 230.0 87.2ZM49.2 85.8 43.8 94.0 41.5 95.2 42.5 92.5ZM152.2 83.8 154.8 82.8 158.2 83.0 154.5 84.2ZM148.0 82.8 149.8 82.0 152.2 82.5 150.2 83.2ZM338.8 81.0 341.0 80.5 338.8 80.2ZM243.2 80.2 236.8 82.2 232.0 81.8 238.0 79.8ZM209.0 80.0 210.8 79.2 214.8 80.0ZM298.8 79.0 300.0 79.5 299.5 80.0ZM229.2 78.2 216.0 79.5 223.0 78.0ZM141.2 76.0 143.2 75.5 144.0 76.2ZM121.5 75.8 134.2 75.2 139.8 76.0 131.2 76.5ZM112.5 76.0 112.8 75.2 118.5 75.8ZM33.0 98.8 34.2 100.0 34.8 103.2 39.5 96.8 42.5 96.0 35.0 106.8 34.8 108.8 35.8 114.2 35.5 108.2 37.5 105.8 38.2 106.0 37.8 107.8 38.0 105.0 39.2 105.0 43.2 113.0 45.0 107.5 47.2 93.5 48.2 91.8 51.8 90.0 54.0 81.5 57.5 75.2 59.8 80.0 63.5 82.8 64.8 87.8 68.5 95.5 71.2 96.8 74.5 107.8 79.5 111.0 83.5 134.5 88.0 148.8 91.5 150.8 94.2 155.5 94.0 153.5 95.5 152.5 95.2 150.2 97.0 147.5 102.2 158.2 104.2 157.2 106.0 158.2 107.2 156.8 113.0 140.2 115.0 139.8 116.8 136.2 123.5 111.2 126.0 108.5 128.2 107.5 127.8 106.2 129.2 103.8 131.0 107.2 133.5 104.8 136.2 91.2 137.2 91.2 137.2 89.5 140.0 89.0 140.5 90.8 141.8 87.2 143.0 86.2 141.5 84.8 144.5 82.8 145.8 83.2 146.2 86.2 152.5 99.8 154.0 100.2 155.8 97.2 158.8 102.8 161.0 100.0 166.0 99.5 166.8 100.2 163.8 102.5 164.0 103.8 166.5 100.8 168.5 100.5 170.8 121.0 172.8 126.8 173.8 126.8 175.2 123.2 177.2 129.0 178.0 129.0 181.0 121.0 180.5 118.0 182.8 97.2 184.2 95.2 186.0 95.2 184.5 93.2 186.8 89.5 188.5 80.8 190.8 77.5 193.0 76.5 195.2 84.2 197.0 87.0 200.5 83.5 203.2 88.2 206.5 85.0 207.8 85.5 209.5 98.5 210.2 99.0 209.0 101.0 211.2 113.8 213.0 114.0 216.2 130.2 218.2 134.5 219.8 135.0 222.0 143.0 224.0 142.2 225.0 139.0 226.5 114.5 227.5 112.0 228.8 111.2 229.5 107.5 230.5 107.2 231.2 103.2 230.2 101.8 233.8 87.0 236.2 85.2 237.2 85.8 235.0 88.2 235.5 88.8 238.0 85.2 239.8 85.2 239.2 86.5 240.5 85.2 241.8 85.5 243.0 87.0 246.0 82.0 247.0 77.5 248.8 76.2 252.5 76.0 253.5 80.0 255.0 79.2 257.8 82.8 255.0 77.8 256.0 77.0 261.8 79.0 261.5 78.2 284.5 83.5 284.8 82.5 301.0 85.5 293.0 85.5 290.0 86.8 286.0 86.5 286.8 87.5 276.8 85.8 278.2 86.8 278.2 88.2 270.0 101.5 267.0 98.0 265.2 97.8 264.2 96.0 262.8 95.5 262.5 94.0 260.8 93.2 255.5 87.2 258.0 86.2 261.0 87.0 260.8 86.0 253.5 86.0 254.2 91.8 255.0 88.5 257.2 90.5 254.5 98.2 256.0 98.0 257.2 93.8 258.0 94.2 260.8 113.5 260.0 116.5 265.0 125.8 266.5 125.0 269.0 119.2 270.2 118.5 272.0 109.2 274.0 106.5 275.2 107.5 275.5 104.8 277.0 103.5 279.5 88.5 281.8 90.5 286.2 90.0 289.2 91.2 293.8 87.2 294.5 89.5 297.0 91.8 298.5 95.2 303.0 115.8 303.5 113.5 304.8 115.0 305.2 123.2 307.8 135.0 310.5 132.2 312.2 125.0 314.8 123.8 314.2 121.0 315.5 117.0 315.0 114.0 316.2 107.2 319.8 112.5 321.0 112.0 320.8 110.5 317.5 107.5 317.0 105.5 310.2 100.2 312.0 100.0 312.5 101.0 318.2 103.8 318.8 105.2 320.5 106.0 320.8 108.0 321.8 104.5 314.8 100.2 316.0 99.2 314.2 100.0 313.2 99.5 313.8 99.0 309.8 98.0 307.5 98.8 305.0 96.8 308.2 97.0 307.8 96.5 308.8 96.0 316.0 96.8 317.0 99.2 319.5 99.0 321.5 102.0 323.5 96.8 326.5 96.5 328.5 99.2 330.8 96.0 333.2 107.2 337.0 111.2 339.0 117.8 340.5 118.8 343.2 118.8 345.0 132.2 347.8 134.8 353.0 147.5 355.8 149.8 357.8 149.0 365.0 132.5 371.8 142.8 374.0 134.0 375.5 135.5 379.0 135.2 380.8 137.5 382.0 136.8 381.2 134.8 384.0 134.8 386.8 140.2 388.0 145.8 391.5 148.0 401.0 132.5 404.0 132.2 407.2 128.0 409.0 131.2 410.2 130.8 412.5 126.0 413.8 117.5 421.5 109.5 423.0 110.5 423.5 113.0 424.5 111.0 426.5 110.8 425.2 113.5 423.5 114.5 424.5 116.8 426.8 110.8 430.5 108.2 433.2 113.0 433.0 114.5 434.2 116.0 433.8 117.2 435.8 117.5 436.8 116.5 438.8 118.0 440.8 125.2 442.0 125.5 443.0 123.8 442.8 122.8 441.2 123.0 442.0 121.8 444.2 122.8 447.2 132.0 449.5 133.8 451.2 123.8 450.8 122.5 452.0 119.0 455.2 115.2 457.2 101.8 460.5 112.8 461.5 113.2 462.2 112.5 464.5 114.5 466.2 114.0 468.5 117.5 470.5 117.0 473.2 121.5 472.2 118.0 473.8 118.8 474.5 117.2 473.2 115.2 474.5 114.2 476.8 106.2 477.5 107.8 478.2 105.8 482.2 106.2 480.0 113.2 478.5 113.0 478.5 110.2 477.5 110.0 478.5 118.8 479.2 119.2 483.0 106.5 485.5 109.0 484.2 112.0 485.5 125.8 487.0 128.5 488.8 119.8 488.5 114.0 490.8 114.0 494.5 109.2 496.5 101.8 500.8 94.2 503.2 92.2 506.5 92.0 508.2 90.2 509.8 91.5 511.0 102.0 514.5 112.8 520.0 119.0 524.2 131.8 529.0 138.2 530.2 143.8 536.5 154.8 538.2 154.0 539.2 148.8 541.2 147.2 544.2 132.5 546.0 131.5 549.2 110.2 553.2 109.2 554.2 110.8 555.8 110.0 557.0 110.5 558.8 118.2 561.0 122.2 564.5 116.0 566.8 117.8 569.5 115.0 565.8 114.2 565.0 115.0 564.8 113.8 562.2 113.0 560.2 110.8 547.0 105.5 540.2 104.5 529.5 100.5 536.5 103.5 538.0 105.0 539.0 104.8 538.8 107.0 522.8 104.0 518.5 100.8 517.5 98.0 524.0 100.2 524.0 99.2 519.2 97.5 519.2 96.8 530.2 100.0 532.5 99.5 538.8 100.8 529.5 98.8 523.0 96.2 522.2 97.0 517.0 93.8 527.2 96.0 518.2 93.2 508.5 88.8 430.2 88.2 429.2 89.0 429.0 88.2 315.0 86.5 299.2 84.2 269.8 78.2 268.8 77.2 300.2 80.2 300.5 79.0 331.5 80.8 333.2 80.5 333.0 79.8 253.5 74.8 240.2 76.0 237.8 75.5 237.2 76.2 236.2 75.5 236.0 76.2 225.5 77.5 204.8 77.5 198.2 78.5 195.0 78.2 194.8 77.5 196.0 77.5 196.5 76.5 200.5 76.8 200.2 75.8 229.2 75.2 57.5 74.0Z"/>
<path fill="#080808" fill-rule="evenodd" d="M370.2 135.8 372.5 138.8 372.8 137.5ZM585.0 134.0 584.8 135.2 584.2 134.5ZM446.8 127.8 447.5 131.8 449.5 133.2 448.8 131.0 447.2 130.2ZM447.8 126.2 450.0 129.8 450.2 128.5ZM486.2 124.2 485.8 125.5 487.0 127.8 487.5 124.5ZM410.0 124.5 411.2 124.2 411.0 125.0ZM346.8 124.2 348.5 125.2 347.2 125.5ZM539.8 122.2 540.5 122.5 540.2 123.5 539.2 123.0ZM173.8 122.0 173.5 123.8 173.0 122.8ZM591.0 120.8 589.5 120.5 589.5 122.8 587.0 128.5 588.2 127.0 589.2 127.8 590.2 126.0ZM440.8 120.2 442.0 120.8 441.0 121.0ZM440.5 117.8 442.5 118.0 444.2 119.5 441.5 119.2ZM533.5 116.8 536.8 117.5 539.2 119.8 536.0 119.8ZM307.0 115.5 308.2 115.8 311.2 122.0 311.0 123.2 309.0 123.2 310.8 125.0 309.5 128.0 308.2 127.2 308.2 126.0 307.2 126.0 307.2 123.5 308.0 123.0 306.5 122.2 305.8 117.2ZM564.0 115.2 567.2 116.5 568.5 115.8ZM571.8 114.2 573.8 116.8 576.5 141.5 577.2 143.2 581.0 144.0 583.0 149.5 584.8 150.8 586.5 138.0 587.8 135.2 589.8 133.8 590.5 130.2 589.2 130.8 588.5 128.2 587.8 131.8 587.0 132.0 586.0 130.5 587.0 129.0 586.0 130.0 584.2 129.0 585.0 131.0 583.2 130.0 583.8 131.5 582.5 132.0 584.0 133.0 582.5 135.0 581.5 135.0 581.5 136.5 580.0 136.5 574.5 116.0 573.5 114.2ZM531.8 115.5 535.0 114.0 542.0 116.8 538.5 117.8ZM175.8 113.2 176.8 114.5 176.0 115.8ZM558.2 113.2 559.5 119.2 560.5 120.8 561.2 119.8 562.0 120.2 561.5 118.8 559.5 117.5 559.2 113.8ZM534.2 113.0 533.2 113.8 530.5 113.5 531.0 112.8ZM171.8 112.2 171.8 114.5 171.0 113.8ZM434.8 112.2 437.5 113.0 438.2 112.2 439.8 114.2 436.8 114.5ZM222.0 112.0 221.5 113.0 221.0 112.5ZM547.0 111.0 543.5 114.5 541.0 114.2 542.2 116.0 536.5 113.5 544.0 111.0ZM471.5 110.8 471.2 113.0 470.2 113.2 470.0 114.5 468.8 114.2 468.0 112.2ZM450.8 112.0 450.2 111.0 448.8 111.5ZM587.2 110.8 590.8 112.0 589.5 116.5 590.5 118.0 592.0 112.8 595.5 116.2 597.2 116.0 599.8 113.0 597.8 112.2 598.8 113.5 596.0 115.0 592.5 112.2 593.2 111.2ZM522.2 110.5 523.0 110.0 525.5 111.0 523.5 111.5ZM179.8 110.0 179.2 113.0 180.2 114.0 180.0 118.0 179.2 118.5 177.5 116.2ZM555.8 109.5 557.2 110.2 557.8 112.2 559.5 112.0 556.8 109.2ZM524.0 109.5 521.0 109.2 523.0 108.8ZM470.8 109.0 469.2 111.0 467.0 111.5 466.0 110.8 468.8 109.0ZM178.0 108.0 178.8 109.0 177.5 113.2 176.5 114.0 176.0 111.0ZM269.0 107.8 268.2 109.5 268.0 108.5ZM467.0 107.0 464.0 108.0 466.2 106.5ZM430.2 106.8 437.0 106.5 448.5 107.8 450.5 109.2 453.0 108.8 451.5 110.5 452.8 110.0 453.2 110.8 449.8 113.5 442.0 111.5 440.2 112.2ZM445.2 106.5 451.5 106.0 454.0 106.8 449.8 107.5ZM220.8 105.0 223.2 109.5 220.0 112.0 221.8 115.2 218.8 119.0 218.2 117.5 217.0 118.2 218.0 116.0 216.0 116.2 216.8 113.5 218.2 112.2 217.8 111.8 216.8 113.0 215.5 111.2 219.5 105.5ZM179.0 105.0 178.5 107.5 178.0 106.2ZM221.5 103.5 223.5 105.0 223.8 107.0 221.8 105.2ZM467.0 103.5 461.5 105.0 462.5 103.5ZM310.5 103.2 315.0 108.0 314.2 113.0 312.8 113.0 313.5 116.2 314.5 116.5 314.5 118.5 315.5 116.5 314.5 113.5 316.0 107.2ZM312.5 102.8 316.0 106.5 316.8 106.2ZM130.0 103.0 132.0 102.5 132.2 103.5 131.2 104.0ZM210.5 102.0 212.0 103.5 211.2 104.8ZM315.5 101.5 321.2 106.0 321.2 104.2ZM347.2 101.5 356.0 101.5 351.5 102.2ZM475.0 100.8 470.5 102.5 467.5 102.0 472.8 100.2ZM455.2 105.0 444.2 104.2 447.5 105.2 445.8 106.0 430.2 105.5 427.8 106.8 417.8 105.2 423.5 104.5 423.5 103.5 432.5 103.2 432.8 102.2 448.5 100.2 455.0 100.2 454.8 101.2 455.8 101.5ZM469.5 100.2 461.2 103.0 459.5 102.2 465.5 99.8ZM224.5 99.2 226.8 100.8 225.0 105.0 222.2 103.0ZM305.8 99.2 307.8 101.0 309.2 100.2 307.5 100.2 307.5 99.0ZM399.5 99.5 401.5 98.5 410.0 99.0ZM169.2 99.0 175.0 98.8 179.5 101.5 174.2 112.8 174.5 110.2 173.2 112.0 172.5 111.8 173.5 108.0 171.8 109.2 170.5 108.8 171.8 105.2 170.5 104.2 169.8 100.2 168.8 100.0ZM177.0 98.8 179.8 98.2 180.5 99.0 178.8 99.8ZM388.0 98.8 388.8 98.0 394.8 98.5ZM44.8 97.8 45.2 99.0 44.5 99.5 44.0 98.5ZM167.0 97.8 169.2 97.2 168.2 98.2ZM227.2 96.8 227.5 98.2 226.2 99.2 225.8 98.0ZM174.0 97.8 175.0 96.5 177.0 97.2ZM373.0 96.8 390.2 97.0 377.5 97.8ZM260.5 94.2 263.0 97.2 261.5 94.5ZM126.0 94.0 127.2 93.2 129.5 94.0ZM183.5 91.0 182.0 93.5 178.5 92.8 181.5 90.8ZM210.2 90.0 219.5 103.0 219.5 104.2 215.8 108.5 213.2 105.2 214.0 103.2 212.5 101.8ZM181.0 90.2 179.0 92.0 177.8 91.8 180.0 90.0ZM305.8 87.8 313.8 87.8 318.8 88.8 312.8 89.0ZM168.0 86.5 161.5 89.5 160.0 88.8 165.5 86.2ZM253.8 86.0 253.8 87.2 255.5 88.0 255.0 86.5ZM257.2 91.5 261.0 113.0 260.2 116.5 265.5 125.5 269.0 118.2 271.0 116.0 272.0 109.0 277.2 102.2 276.2 101.0 277.8 98.2 277.2 96.2 279.2 88.2 280.0 87.8 281.2 90.0 286.2 89.8 288.2 90.5 290.2 90.0 293.5 87.0 299.0 88.0 299.2 88.8 295.0 88.5 294.8 89.5 296.8 91.2 298.5 94.8 301.5 110.2 304.0 111.5 303.5 113.0 304.8 113.8 305.5 123.8 307.8 134.8 311.0 130.8 312.2 124.8 314.8 123.2 313.0 119.2 311.0 117.8 300.5 96.5 307.2 95.8 317.5 96.2 317.8 97.5 320.2 98.2 321.5 100.0 323.5 96.5 330.8 95.8 332.5 100.2 332.0 101.8 333.2 107.0 337.2 111.2 339.5 117.8 343.2 118.5 345.2 132.5 347.8 134.5 353.2 147.8 356.0 149.8 357.8 148.8 365.0 132.2 366.0 132.5 367.8 136.0 370.8 134.5 373.0 135.2 374.0 133.8 375.2 135.2 378.2 134.8 381.2 137.0 381.8 136.2 380.2 135.0 383.8 134.5 387.0 140.2 388.2 145.8 391.5 147.8 400.8 132.5 404.0 132.0 407.2 127.8 409.2 127.2 410.0 129.0 409.0 130.8 410.0 130.8 412.2 126.2 413.5 117.5 421.5 109.2 426.8 110.0 429.2 108.2 431.0 108.2 434.2 113.2 433.2 114.5 435.5 114.8 439.0 118.5 440.5 118.5 440.8 119.2 439.5 120.0 440.5 122.8 442.2 121.2 444.2 122.2 446.0 124.5 446.0 126.0 446.0 123.8 448.0 122.8 450.5 125.2 451.0 123.5 449.0 121.2 450.8 121.0 455.0 115.5 457.2 101.2 460.5 112.2 461.2 113.0 462.2 112.2 465.0 114.5 466.2 113.8 468.5 117.2 471.2 117.2 471.2 116.0 473.5 117.5 474.2 117.0 472.2 114.5 474.5 113.0 476.5 106.2 485.0 103.5 482.5 105.8 485.8 108.8 484.2 110.8 484.8 112.2 486.0 110.0 488.0 111.0 487.0 109.0 488.5 107.2 486.0 108.8 485.8 106.2 491.2 103.2 489.0 106.8 491.0 104.8 493.0 104.2 491.5 103.5 492.0 102.8 495.2 101.8 495.5 102.8 493.8 104.0 494.2 105.8 492.8 106.2 493.2 108.0 490.8 109.8 491.5 110.5 490.8 112.0 488.8 112.5 489.5 113.8 490.8 113.8 494.2 109.0 496.0 104.5 495.8 103.0 500.8 94.0 509.0 90.0 511.5 99.5 511.0 101.8 514.8 112.8 520.0 118.8 524.2 131.5 529.0 138.0 530.5 144.0 533.8 148.8 535.0 153.0 537.2 154.8 538.2 153.8 539.0 149.0 541.8 145.8 544.5 131.8 545.8 131.0 545.2 129.8 547.5 123.8 549.0 110.5 550.5 109.2 553.5 108.8 550.5 107.2 550.5 108.2 548.5 108.5 541.8 106.5 544.2 108.0 541.8 108.2 543.5 109.0 542.5 109.8 528.2 111.2 526.8 110.5 527.2 110.0 525.8 108.5 521.0 108.2 519.8 107.5 520.8 106.8 524.2 107.2 521.0 105.8 523.8 105.5 519.2 104.0 519.2 103.0 521.0 103.2 516.5 101.2 515.0 98.8 515.5 97.2 516.8 97.5 516.5 96.8 513.0 94.8 514.8 93.5 512.2 92.2 511.2 90.8 513.0 91.0 509.8 89.0 329.0 89.0 323.0 88.2 322.2 86.8 321.2 87.8 320.8 86.8 293.2 85.8 286.5 88.2 282.0 88.0 279.0 86.5 272.2 100.8 270.8 101.0 270.8 102.2 267.8 103.0 268.2 106.2 266.8 106.5 267.8 108.2 266.5 109.0 267.0 110.5 265.2 111.8 264.5 110.5 262.8 111.2 262.2 105.0 260.5 101.5 261.0 97.5 258.8 94.5 258.8 93.5 259.8 93.5 258.8 91.2 257.8 90.8ZM232.2 85.5 232.8 86.8 230.5 87.5 231.5 88.5 229.8 89.2 230.2 90.2 228.8 90.8 229.0 92.0 222.2 101.0 221.2 101.5 220.0 100.5 220.5 102.5 210.8 88.8 211.5 87.2 209.2 86.5 212.8 85.8 217.0 87.2 217.8 86.8 216.0 86.2 217.5 85.8 220.5 86.8 218.8 85.8 219.2 85.2ZM172.5 84.2 168.5 85.8 169.2 84.5ZM48.8 84.2 33.2 98.8 34.2 99.5 37.0 97.8 34.2 100.8 34.5 101.8 40.0 95.0 37.0 97.5 37.0 96.2ZM195.8 81.5 199.0 82.0 197.8 82.8ZM147.0 83.0 148.8 81.8 155.8 81.0 156.8 81.8 157.0 80.8 158.0 81.8 158.5 80.5 159.0 81.5 164.5 81.0 173.0 82.2 161.5 82.5 166.8 83.2 167.5 84.2 162.5 85.8 162.2 86.8 161.5 85.5 159.0 86.0 154.5 84.8 153.5 85.5 149.8 85.2 148.8 84.5 149.8 83.5ZM203.0 80.2 203.8 80.0 204.5 81.5 203.2 81.8ZM230.0 79.5 222.5 80.5 224.0 79.5ZM245.5 77.8 242.8 79.2 244.2 79.5 244.8 81.2 240.5 81.5 239.5 83.0 238.8 82.2 234.8 83.5 225.5 81.8ZM283.5 77.2 253.0 75.0 214.8 80.8 204.8 81.2 204.5 79.2 193.8 78.8 196.8 86.5 197.8 86.8 200.5 83.0 201.8 84.2 205.8 84.8 204.0 86.8 206.2 84.8 207.5 85.0 208.5 86.8 209.0 92.5 210.8 98.0 210.8 100.0 209.2 101.0 210.2 109.8 211.8 113.8 213.2 114.0 215.2 126.5 218.5 134.2 219.8 134.5 222.0 142.8 223.8 142.2 224.8 139.2 226.0 122.5 225.5 121.5 224.8 121.8 225.0 128.5 223.8 129.0 224.2 134.8 222.8 134.8 221.8 133.5 221.8 127.5 223.0 126.2 222.5 125.2 224.8 118.0 225.5 117.5 226.0 118.5 226.2 114.8 228.5 111.0 228.2 108.8 231.0 104.2 230.0 101.0 234.2 85.8 235.0 85.0 241.2 85.0 242.8 86.2 245.8 82.2 246.5 78.0 248.8 76.0 252.5 75.8 253.8 77.8 255.2 76.5 279.5 81.0 279.2 80.2 265.2 77.0 279.0 78.0 279.5 77.2 280.2 78.0ZM34.8 108.0 35.2 108.5 38.0 104.2 40.0 105.0 40.5 106.2 40.5 104.0 42.5 100.8 44.5 99.5 44.5 103.5 43.5 104.5 43.8 105.8 42.5 106.2 43.0 108.2 42.0 109.2 40.8 107.2 41.8 110.8 43.5 112.5 47.5 92.2 52.0 88.8 52.0 86.5 54.5 79.8 57.5 75.2 60.0 80.0 63.2 82.2 68.0 94.2 69.2 96.0 71.2 96.5 73.5 105.8 75.0 108.2 79.8 111.2 83.5 134.2 88.2 148.8 91.5 150.5 94.0 155.0 93.5 153.0 95.2 152.8 94.8 150.2 97.0 147.2 101.8 157.5 102.8 158.2 104.5 157.2 105.8 158.2 108.2 154.2 112.8 140.5 115.0 139.5 117.5 134.0 123.2 111.5 125.8 108.2 128.0 107.8 127.5 106.0 129.2 103.5 131.2 104.8 131.0 105.8 130.2 105.0 131.0 107.0 133.2 104.8 137.0 89.2 141.5 88.8 141.5 87.2 142.8 86.2 142.8 85.5 139.2 84.5 144.5 82.5 145.8 83.0 146.5 86.5 152.5 99.5 154.5 99.2 155.2 97.2 156.2 97.0 158.5 102.2 158.5 100.8 160.0 101.2 159.8 99.8 165.5 99.2 168.8 100.2 169.8 114.0 172.8 126.5 173.5 126.8 174.0 124.2 175.2 123.0 178.0 128.8 180.8 121.0 180.0 118.2 181.5 110.2 180.0 108.5 181.0 108.2 183.0 96.0 186.0 94.8 184.0 93.2 186.8 89.0 188.5 80.5 190.8 77.2 193.2 76.2 194.0 77.5 194.8 76.2 198.2 75.5 193.5 74.8 166.2 75.5 165.8 76.5 165.2 75.5 164.5 76.5 163.2 75.5 162.8 76.8 112.2 78.5 85.0 76.8 83.8 74.8 83.5 76.8 82.2 74.8 82.0 76.5 81.0 74.8 80.2 76.0 79.0 74.8 78.8 76.0 78.2 74.8 57.2 74.2 51.5 81.2 52.2 80.8 52.5 81.5 50.2 85.8 43.8 94.8 44.0 96.0 42.0 97.8 40.8 101.2 37.8 103.5Z"/>
<clipPath id="c1A"><rect x="32.6" y="0" width="580" height="686"/></clipPath>
<g clip-path="url(#c1A)" fill="none" stroke-linejoin="round" stroke-linecap="round">
<path d="M32.8 99.7 33.4 99.2 33.9 99.1 34.5 101.2 35.1 108.2 35.6 114.3 36.2 119.3 36.8 115.3 37.4 111.8 37.9 107.8 38.5 106.7 39.1 104.5 39.6 105.0 40.2 106.0 40.8 108.0 41.3 109.4 41.9 111.2 42.5 111.3 43.1 113.3 43.6 112.5 44.2 110.4 44.8 107.6 45.3 104.6 45.9 99.8 46.5 96.9 47.0 94.0 47.6 92.8 48.2 91.2 48.8 91.9 49.3 91.7 49.9 91.1 50.5 93.3 51.0 91.3 51.6 90.2 52.2 90.4 52.7 87.3 53.3 84.2 53.9 81.7 54.5 80.2 55.0 79.7 55.6 77.9 56.2 78.7 56.7 76.2 57.3 74.6 57.9 74.8 58.4 75.7 59.0 77.3 59.6 78.4 60.1 79.9 60.7 81.9 61.3 81.4 61.9 80.7 62.4 81.0 63.0 81.6 63.6 81.8 64.1 83.5 64.7 85.8 65.3 87.2 65.8 88.6 66.4 90.7 67.0 90.7 67.6 91.9 68.1 94.0 68.7 96.3 69.3 96.0 69.8 96.4 70.4 95.9 71.0 95.3 71.5 96.1 72.1 97.9 72.7 100.8 73.3 103.0 73.8 105.5 74.4 106.2 75.0 107.6 75.5 108.3 76.1 109.4 76.7 108.4 77.2 109.5 77.8 109.9 78.4 109.7 79.0 110.4 79.5 109.7 80.1 112.1 80.7 113.2 81.2 118.8 81.8 122.1 82.4 126.2 82.9 128.3 83.5 131.5 84.1 134.3 84.6 137.2 85.2 138.1 85.8 138.4 86.4 141.2 86.9 144.2 87.5 145.5 88.1 147.7 88.6 149.0 89.2 149.1 89.8 148.2 90.3 149.8 90.9 149.8 91.5 150.0 92.1 152.6 92.6 152.4 93.2 153.1 93.8 154.9 94.3 155.7 94.9 153.0 95.5 152.6 96.0 148.9 96.6 147.6 97.2 146.3 97.8 147.4 98.3 149.4 98.9 149.5 99.5 152.4 100.0 152.8 100.6 153.7 101.2 155.5 101.7 156.8 102.3 157.9 102.9 158.3 103.5 157.4 104.0 157.0 104.6 156.7 105.2 157.5 105.7 158.2 106.3 157.6 106.9 156.8 107.4 155.8 108.0 154.4 108.6 152.2 109.1 150.4 109.7 148.5 110.3 146.8 110.9 146.5 111.4 144.4 112.0 143.5 112.6 141.0 113.1 139.3 113.7 139.3 114.3 140.1 114.8 139.6 115.4 138.2 116.0 136.6 116.6 135.9 117.1 134.2 117.7 132.4 118.3 129.5 118.8 128.5 119.4 126.4 120.0 124.8 120.5 121.5 121.1 119.5 121.7 116.9 122.3 115.3 122.8 111.5 123.4 111.9 124.0 110.4 124.5 110.5 125.1 108.7 125.7 109.8 126.2 113.1 126.8 113.1 127.4 110.9 128.0 107.4 128.5 104.6 129.1 103.0 129.7 103.8 130.2 105.6 130.8 107.0 131.4 107.3 131.9 107.9 132.5 105.3 133.1 105.3 133.6 104.9 134.2 101.7 134.8 99.9 135.4 97.1 135.9 93.4 136.5 89.5 137.1 90.4 137.6 93.3 138.2 94.6 138.8 96.2 139.3 98.4 139.9 100.6 140.5 99.1 141.1 93.6 141.6 88.2 142.2 86.3 142.8 86.0 143.3 86.3 143.9 82.5 144.5 83.3 145.0 83.1 145.6 81.9 146.2 84.1 146.8 86.2 147.3 87.2 147.9 88.4 148.5 89.7 149.0 91.2 149.6 92.1 150.2 95.0 150.7 95.8 151.3 96.7 151.9 98.7 152.5 99.5 153.0 99.8 153.6 99.6 154.2 100.7 154.7 99.3 155.3 97.8 155.9 96.2 156.4 98.5 157.0 99.2 157.6 100.4 158.1 102.1 158.7 102.7 159.3 102.8 159.9 101.7 160.4 101.4 161.0 99.8 161.6 99.7 162.1 99.4 162.7 99.4 163.3 99.4 163.8 103.3 164.4 108.7 165.0 114.6 165.6 112.4 166.1 107.7 166.7 104.9 167.3 102.7 167.8 99.8 168.4 99.3 169.0 101.1 169.5 107.8 170.1 113.5 170.7 118.2 171.3 121.3 171.8 121.5 172.4 123.9 173.0 126.8 173.5 127.0 174.1 126.2 174.7 123.5 175.2 122.3 175.8 123.4 176.4 126.0 177.0 127.0 177.5 129.2 178.1 128.9 178.7 126.8 179.2 125.2 179.8 123.7 180.4 121.7 180.9 121.3 181.5 110.5 182.1 101.4 182.6 98.0 183.2 95.0 183.8 95.7 184.4 97.3 184.9 98.9 185.5 98.9 186.1 94.8 186.6 88.9 187.2 85.8 187.8 84.5 188.3 81.5 188.9 79.5 189.5 78.3 190.1 78.8 190.6 80.9 191.2 83.2 191.8 83.0 192.3 79.2 192.9 76.0 193.5 75.5 194.0 79.1 194.6 80.3 195.2 83.1 195.8 84.3 196.3 86.1 196.9 86.4 197.5 87.6 198.0 87.1 198.6 86.0 199.2 85.4 199.7 84.4 200.3 83.7 200.9 82.9 201.5 83.5 202.0 85.7 202.6 87.7 203.2 88.6 203.7 88.4 204.3 87.1 204.9 87.1 205.4 86.8 206.0 85.6 206.6 84.7 207.1 85.6 207.7 84.7 208.3 85.8 208.9 88.0 209.4 101.2 210.0 106.2 210.6 109.7 211.1 112.0 211.7 114.3 212.3 113.6 212.8 113.2 213.4 113.3 214.0 118.3 214.6 122.0 215.1 124.3 215.7 126.7 216.3 128.1 216.8 130.5 217.4 132.0 218.0 132.6 218.5 134.8 219.1 133.6 219.7 133.8 220.3 135.8 220.8 137.4 221.4 140.0 222.0 143.3 222.5 142.7 223.1 142.9 223.7 142.5 224.2 141.5 224.8 138.9 225.4 132.2 226.0 123.0 226.5 113.1 227.1 113.3 227.7 113.9 228.2 110.9 228.8 111.0 229.4 114.1 229.9 116.0 230.5 113.3 231.1 103.4 231.6 95.2 232.2 92.1 232.8 90.0 233.4 88.0 233.9 85.8 234.5 86.6 235.1 88.7 235.6 88.9 236.2 89.2 236.8 87.9 237.3 86.8 237.9 84.8 238.5 85.1 239.1 86.8 239.6 86.7 240.2 86.5 240.8 84.8 241.3 85.5 241.9 85.6 242.5 86.4 243.0 87.3 243.6 86.3 244.2 84.6 244.8 83.8 245.3 84.0 245.9 81.9 246.5 78.9 247.0 76.9 247.6 77.5 248.2 76.7 248.7 75.9 249.3 76.9 249.9 77.1 250.5 76.2 251.0 77.6 251.6 77.3 252.2 76.2 252.7 75.9 253.3 75.5 253.9 86.3 254.4 98.4 255.0 98.4 255.6 98.7 256.1 98.1 256.7 95.2 257.3 93.7 257.9 91.4 258.4 95.5 259.0 98.7 259.6 104.4 260.1 116.4 260.7 116.9 261.3 117.6 261.8 118.6 262.4 119.3 263.0 121.6 263.6 122.6 264.1 122.7 264.7 124.3 265.3 125.8 265.8 125.3 266.4 125.1 267.0 123.4 267.5 122.1 268.1 121.0 268.7 122.9 269.3 126.1 269.8 128.2 270.4 128.5 271.0 115.8 271.5 111.8 272.1 108.5 272.7 108.4 273.2 107.8 273.8 106.2 274.4 106.3 275.0 107.8 275.5 112.1 276.1 115.8 276.7 108.6 277.2 102.4 277.8 97.7 278.4 92.7 278.9 89.5 279.5 87.1 280.1 88.8 280.6 89.1 281.2 89.9 281.8 91.4 282.4 90.7 282.9 91.3 283.5 90.3 284.1 91.0 284.6 90.2 285.2 89.6 285.8 90.8 286.3 89.8 286.9 90.3 287.5 90.4 288.1 90.4 288.6 91.3 289.2 91.6 289.8 91.5 290.3 89.8 290.9 91.4 291.5 90.4 292.0 88.7 292.6 88.4 293.2 87.0 293.8 86.4 294.3 89.7 294.9 89.2 295.5 89.6 296.0 90.2 296.6 91.7 297.2 91.4 297.7 92.4 298.3 93.6 298.9 95.7 299.5 100.6 300.0 102.6 300.6 105.5 301.2 108.5 301.7 110.4 302.3 114.5 302.9 117.6 303.4 116.1 304.0 113.6 304.6 112.1 305.1 117.1 305.7 123.0 306.3 126.6 306.9 130.2 307.4 132.7 308.0 135.2 308.6 134.5 309.1 132.9 309.7 132.6 310.3 132.8 310.8 131.0 311.4 129.4 312.0 126.7 312.6 123.6 313.1 124.6 313.7 123.6 314.3 124.4 314.8 123.6 315.4 116.3 316.0 108.0 316.5 106.0 317.1 107.3 317.7 109.5 318.3 110.0 318.8 110.9 319.4 111.8 320.0 113.1 320.5 114.4 321.1 111.7 321.7 105.0 322.2 98.4 322.8 97.0 323.4 96.8 324.0 97.0 324.5 96.3 325.1 96.8 325.7 96.1 326.2 96.1 326.8 96.6 327.4 97.7 327.9 99.0 328.5 99.8 329.1 98.9 329.7 98.5 330.2 97.0 330.8 95.4 331.4 95.3 331.9 97.4 332.5 101.5 333.1 104.1 333.6 107.1 334.2 107.4 334.8 108.6 335.3 108.6 335.9 109.5 336.5 109.8 337.1 110.2 337.6 111.8 338.2 113.1 338.8 115.6 339.3 117.7 339.9 119.3 340.5 118.5 341.0 118.5 341.6 118.7 342.2 118.3 342.8 117.8 343.3 117.0 343.9 122.0 344.5 127.0 345.0 130.9 345.6 132.4 346.2 134.2 346.7 133.7 347.3 134.0 347.9 134.0 348.5 135.2 349.0 136.8 349.6 138.0 350.2 139.0 350.7 141.7 351.3 142.6 351.9 144.2 352.4 145.9 353.0 146.3 353.6 147.4 354.2 148.4 354.7 148.8 355.3 149.1 355.9 149.4 356.4 149.8 357.0 149.4 357.6 149.0 358.1 147.9 358.7 146.1 359.3 144.7 359.8 142.9 360.4 142.3 361.0 142.1 361.6 140.3 362.1 139.6 362.7 137.8 363.3 135.4 363.8 134.2 364.4 133.0 365.0 131.7 365.5 133.8 366.1 133.3 366.7 133.8 367.3 135.2 367.8 135.8 368.4 137.6 369.0 138.5 369.5 138.5 370.1 140.3 370.7 141.7 371.2 142.2 371.8 143.3 372.4 141.6 373.0 138.2 373.5 134.5 374.1 133.3 374.7 134.2 375.2 135.1 375.8 135.2 376.4 135.6 376.9 135.0 377.5 134.8 378.1 134.3 378.7 134.9 379.2 135.0 379.8 136.2 380.4 137.8 380.9 137.5 381.5 137.3 382.1 136.7 382.6 134.5 383.2 133.9 383.8 134.5 384.3 134.3 384.9 135.9 385.5 137.4 386.1 138.5 386.6 139.0 387.2 141.2 387.8 144.0 388.3 145.8 388.9 145.8 389.5 147.0 390.0 149.2 390.6 147.4 391.2 148.3 391.8 147.7 392.3 146.7 392.9 145.2 393.5 144.6 394.0 143.7 394.6 143.9 395.2 142.1 395.7 140.8 396.3 139.9 396.9 139.7 397.5 136.9 398.0 136.9 398.6 136.3 399.2 135.1 399.7 133.6 400.3 133.8 400.9 132.1 401.4 132.0 402.0 132.3 402.6 134.2 403.2 136.3 403.7 134.2 404.3 131.7 404.9 130.5 405.4 129.3 406.0 128.9 406.6 128.2 407.1 127.4 407.7 127.5 408.3 129.0 408.8 130.7 409.4 131.5 410.0 130.9 410.6 131.9 411.1 128.8 411.7 126.8 412.3 126.1 412.8 122.3 413.4 118.7 414.0 116.4 414.5 116.0 415.1 114.7 415.7 115.4 416.3 115.5 416.8 114.3 417.4 115.2 418.0 113.0 418.5 113.2 419.1 111.2 419.7 110.6 420.2 110.7 420.8 109.7 421.4 109.0 422.0 109.0 422.5 109.6 423.1 111.5 423.7 115.3 424.2 117.2 424.8 116.9 425.4 115.1 425.9 113.5 426.5 112.1 427.1 110.6 427.7 110.0 428.2 109.1 428.8 108.7 429.4 108.9 429.9 107.9 430.5 107.8 431.1 109.4 431.6 108.8 432.2 110.5 432.8 111.3 433.3 114.4 433.9 117.5 434.5 118.8 435.1 117.4 435.6 117.6 436.2 118.0 436.8 116.0 437.3 116.9 437.9 116.8 438.5 117.1 439.0 118.2 439.6 120.5 440.2 122.2 440.8 125.4 441.3 127.7 441.9 125.5 442.5 125.6 443.0 124.0 443.6 121.7 444.2 122.3 444.7 123.5 445.3 124.3 445.9 125.8 446.5 129.4 447.0 130.4 447.6 132.3 448.2 132.5 448.7 133.0 449.3 134.7 449.9 133.5 450.4 129.1 451.0 123.8 451.6 119.2 452.2 118.4 452.7 118.7 453.3 119.5 453.9 116.9 454.4 116.1 455.0 115.2 455.6 112.6 456.1 108.5 456.7 105.7 457.3 99.3 457.8 100.9 458.4 104.0 459.0 106.8 459.6 108.4 460.1 110.5 460.7 112.5 461.3 113.5 461.8 113.4 462.4 111.9 463.0 113.5 463.5 113.7 464.1 114.2 464.7 116.5 465.3 114.5 465.8 114.6 466.4 113.5 467.0 114.6 467.5 116.3 468.1 116.9 468.7 117.6 469.2 117.2 469.8 117.3 470.4 116.5 471.0 117.4 471.5 117.9 472.1 119.0 472.7 120.3 473.2 122.1 473.8 121.7 474.4 117.4 474.9 111.8 475.5 109.0 476.1 107.2 476.7 105.7 477.2 105.7 477.8 110.3 478.4 115.0 478.9 119.0 479.5 119.6 480.1 117.7 480.6 114.8 481.2 113.1 481.8 111.3 482.3 109.4 482.9 105.9 483.5 106.3 484.1 107.0 484.6 111.1 485.2 119.3 485.8 126.1 486.3 127.4 486.9 128.9 487.5 127.8 488.0 124.3 488.6 119.4 489.2 116.1 489.8 113.5 490.3 114.1 490.9 113.8 491.5 113.4 492.0 111.8 492.6 110.7 493.2 109.8 493.7 110.3 494.3 109.2 494.9 110.2 495.5 106.6 496.0 104.0 496.6 101.1 497.2 100.8 497.7 99.5 498.3 99.4 498.9 98.3 499.4 97.0 500.0 95.6 500.6 94.8 501.2 93.3 501.7 94.1 502.3 93.8 502.9 92.6 503.4 91.7 504.0 91.7 504.6 96.8 505.1 99.3 505.7 96.8 506.3 94.5 506.8 91.3 507.4 90.3 508.0 90.4 508.6 89.8 509.1 89.6 509.7 89.5 510.3 92.1 510.8 95.2 511.4 101.5 512.0 103.6 512.5 104.1 513.1 105.9 513.7 108.6 514.3 110.4 514.8 112.9 515.4 113.2 516.0 113.5 516.5 114.8 517.1 115.3 517.7 115.7 518.2 118.0 518.8 117.6 519.4 118.0 520.0 117.9 520.5 118.9 521.1 120.3 521.7 122.3 522.2 124.0 522.8 125.5 523.4 127.6 523.9 129.2 524.5 131.6 525.1 132.1 525.7 133.9 526.2 134.2 526.8 135.0 527.4 136.5 527.9 136.0 528.5 137.6 529.1 137.1 529.6 139.5 530.2 141.4 530.8 143.8 531.3 145.1 531.9 145.9 532.5 146.5 533.1 147.6 533.6 148.0 534.2 149.0 534.8 151.4 535.3 153.2 535.9 153.5 536.5 154.0 537.0 154.9 537.6 154.4 538.2 153.8 538.8 150.7 539.3 148.2 539.9 147.4 540.5 147.2 541.0 147.3 541.6 145.6 542.2 142.6 542.7 139.4 543.3 136.3 543.9 133.4 544.5 131.3 545.0 131.2 545.6 131.1 546.2 132.1 546.7 132.7 547.3 123.3 547.9 118.9 548.4 114.8 549.0 109.7 549.6 109.8 550.2 109.4 550.7 110.7 551.3 110.3 551.9 111.0 552.4 110.6 553.0 108.6 553.6 110.1 554.1 111.0 554.7 110.8 555.3 110.4 555.8 110.4 556.4 109.5 557.0 111.0 557.6 111.1 558.1 113.7 558.7 117.1 559.3 118.6 559.8 119.5 560.4 120.8 561.0 123.4 561.5 122.2 562.1 120.4 562.7 120.8 563.3 118.1 563.8 117.2 564.4 115.7 565.0 115.9 565.5 117.7 566.1 117.7 566.7 118.1 567.2 118.3 567.8 116.5 568.4 115.8 569.0 118.0 569.5 117.9 570.1 119.7 570.7 121.3 571.2 122.2 571.8 122.2 572.4 120.5 572.9 117.7 573.5 114.8 574.1 117.7 574.7 124.4 575.2 129.2 575.8 134.0 576.4 138.9 576.9 142.0 577.5 143.9 578.1 143.3 578.6 143.0 579.2 143.8 579.8 143.3 580.3 142.7 580.9 143.6 581.5 144.4 582.1 146.9 582.6 147.9 583.2 149.9 583.8 152.2 584.3 154.0 584.9 150.7 585.5 147.8 586.0 143.6 586.6 139.6 587.2 136.6 587.8 135.9 588.3 134.3 588.9 134.6 589.5 135.5 590.0 133.7 590.6 130.8 591.2 121.2 591.7 111.4 592.3 112.8 592.9 114.1 593.5 114.4 594.0 113.8 594.6 114.8 595.2 116.6 595.7 116.4 596.3 116.9 596.9 116.3 597.4 115.9 598.0 116.3 598.6 114.7 599.2 114.3 599.7 112.9 600.3 112.8 600.9 113.9 601.4 115.7 602.0 117.1" stroke="#000" stroke-width="4.8"/>
<path d="M32.8 99.7 33.4 99.2 33.9 99.1 34.5 101.2 35.1 108.2 35.6 114.3 36.2 119.3 36.8 115.3 37.4 111.8 37.9 107.8 38.5 106.7 39.1 104.5 39.6 105.0 40.2 106.0 40.8 108.0 41.3 109.4 41.9 111.2 42.5 111.3 43.1 113.3 43.6 112.5 44.2 110.4 44.8 107.6 45.3 104.6 45.9 99.8 46.5 96.9 47.0 94.0 47.6 92.8 48.2 91.2 48.8 91.9 49.3 91.7 49.9 91.1 50.5 93.3 51.0 91.3 51.6 90.2 52.2 90.4 52.7 87.3 53.3 84.2 53.9 81.7 54.5 80.2 55.0 79.7 55.6 77.9 56.2 78.7 56.7 76.2 57.3 74.6 57.9 74.8 58.4 75.7 59.0 77.3 59.6 78.4 60.1 79.9 60.7 81.9 61.3 81.4 61.9 80.7 62.4 81.0 63.0 81.6 63.6 81.8 64.1 83.5 64.7 85.8 65.3 87.2 65.8 88.6 66.4 90.7 67.0 90.7 67.6 91.9 68.1 94.0 68.7 96.3 69.3 96.0 69.8 96.4 70.4 95.9 71.0 95.3 71.5 96.1 72.1 97.9 72.7 100.8 73.3 103.0 73.8 105.5 74.4 106.2 75.0 107.6 75.5 108.3 76.1 109.4 76.7 108.4 77.2 109.5 77.8 109.9 78.4 109.7 79.0 110.4 79.5 109.7 80.1 112.1 80.7 113.2 81.2 118.8 81.8 122.1 82.4 126.2 82.9 128.3 83.5 131.5 84.1 134.3 84.6 137.2 85.2 138.1 85.8 138.4 86.4 141.2 86.9 144.2 87.5 145.5 88.1 147.7 88.6 149.0 89.2 149.1 89.8 148.2 90.3 149.8 90.9 149.8 91.5 150.0 92.1 152.6 92.6 152.4 93.2 153.1 93.8 154.9 94.3 155.7 94.9 153.0 95.5 152.6 96.0 148.9 96.6 147.6 97.2 146.3 97.8 147.4 98.3 149.4 98.9 149.5 99.5 152.4 100.0 152.8 100.6 153.7 101.2 155.5 101.7 156.8 102.3 157.9 102.9 158.3 103.5 157.4 104.0 157.0 104.6 156.7 105.2 157.5 105.7 158.2 106.3 157.6 106.9 156.8 107.4 155.8 108.0 154.4 108.6 152.2 109.1 150.4 109.7 148.5 110.3 146.8 110.9 146.5 111.4 144.4 112.0 143.5 112.6 141.0 113.1 139.3 113.7 139.3 114.3 140.1 114.8 139.6 115.4 138.2 116.0 136.6 116.6 135.9 117.1 134.2 117.7 132.4 118.3 129.5 118.8 128.5 119.4 126.4 120.0 124.8 120.5 121.5 121.1 119.5 121.7 116.9 122.3 115.3 122.8 111.5 123.4 111.9 124.0 110.4 124.5 110.5 125.1 108.7 125.7 109.8 126.2 113.1 126.8 113.1 127.4 110.9 128.0 107.4 128.5 104.6 129.1 103.0 129.7 103.8 130.2 105.6 130.8 107.0 131.4 107.3 131.9 107.9 132.5 105.3 133.1 105.3 133.6 104.9 134.2 101.7 134.8 99.9 135.4 97.1 135.9 93.4 136.5 89.5 137.1 90.4 137.6 93.3 138.2 94.6 138.8 96.2 139.3 98.4 139.9 100.6 140.5 99.1 141.1 93.6 141.6 88.2 142.2 86.3 142.8 86.0 143.3 86.3 143.9 82.5 144.5 83.3 145.0 83.1 145.6 81.9 146.2 84.1 146.8 86.2 147.3 87.2 147.9 88.4 148.5 89.7 149.0 91.2 149.6 92.1 150.2 95.0 150.7 95.8 151.3 96.7 151.9 98.7 152.5 99.5 153.0 99.8 153.6 99.6 154.2 100.7 154.7 99.3 155.3 97.8 155.9 96.2 156.4 98.5 157.0 99.2 157.6 100.4 158.1 102.1 158.7 102.7 159.3 102.8 159.9 101.7 160.4 101.4 161.0 99.8 161.6 99.7 162.1 99.4 162.7 99.4 163.3 99.4 163.8 103.3 164.4 108.7 165.0 114.6 165.6 112.4 166.1 107.7 166.7 104.9 167.3 102.7 167.8 99.8 168.4 99.3 169.0 101.1 169.5 107.8 170.1 113.5 170.7 118.2 171.3 121.3 171.8 121.5 172.4 123.9 173.0 126.8 173.5 127.0 174.1 126.2 174.7 123.5 175.2 122.3 175.8 123.4 176.4 126.0 177.0 127.0 177.5 129.2 178.1 128.9 178.7 126.8 179.2 125.2 179.8 123.7 180.4 121.7 180.9 121.3 181.5 110.5 182.1 101.4 182.6 98.0 183.2 95.0 183.8 95.7 184.4 97.3 184.9 98.9 185.5 98.9 186.1 94.8 186.6 88.9 187.2 85.8 187.8 84.5 188.3 81.5 188.9 79.5 189.5 78.3 190.1 78.8 190.6 80.9 191.2 83.2 191.8 83.0 192.3 79.2 192.9 76.0 193.5 75.5 194.0 79.1 194.6 80.3 195.2 83.1 195.8 84.3 196.3 86.1 196.9 86.4 197.5 87.6 198.0 87.1 198.6 86.0 199.2 85.4 199.7 84.4 200.3 83.7 200.9 82.9 201.5 83.5 202.0 85.7 202.6 87.7 203.2 88.6 203.7 88.4 204.3 87.1 204.9 87.1 205.4 86.8 206.0 85.6 206.6 84.7 207.1 85.6 207.7 84.7 208.3 85.8 208.9 88.0 209.4 101.2 210.0 106.2 210.6 109.7 211.1 112.0 211.7 114.3 212.3 113.6 212.8 113.2 213.4 113.3 214.0 118.3 214.6 122.0 215.1 124.3 215.7 126.7 216.3 128.1 216.8 130.5 217.4 132.0 218.0 132.6 218.5 134.8 219.1 133.6 219.7 133.8 220.3 135.8 220.8 137.4 221.4 140.0 222.0 143.3 222.5 142.7 223.1 142.9 223.7 142.5 224.2 141.5 224.8 138.9 225.4 132.2 226.0 123.0 226.5 113.1 227.1 113.3 227.7 113.9 228.2 110.9 228.8 111.0 229.4 114.1 229.9 116.0 230.5 113.3 231.1 103.4 231.6 95.2 232.2 92.1 232.8 90.0 233.4 88.0 233.9 85.8 234.5 86.6 235.1 88.7 235.6 88.9 236.2 89.2 236.8 87.9 237.3 86.8 237.9 84.8 238.5 85.1 239.1 86.8 239.6 86.7 240.2 86.5 240.8 84.8 241.3 85.5 241.9 85.6 242.5 86.4 243.0 87.3 243.6 86.3 244.2 84.6 244.8 83.8 245.3 84.0 245.9 81.9 246.5 78.9 247.0 76.9 247.6 77.5 248.2 76.7 248.7 75.9 249.3 76.9 249.9 77.1 250.5 76.2 251.0 77.6 251.6 77.3 252.2 76.2 252.7 75.9 253.3 75.5 253.9 86.3 254.4 98.4 255.0 98.4 255.6 98.7 256.1 98.1 256.7 95.2 257.3 93.7 257.9 91.4 258.4 95.5 259.0 98.7 259.6 104.4 260.1 116.4 260.7 116.9 261.3 117.6 261.8 118.6 262.4 119.3 263.0 121.6 263.6 122.6 264.1 122.7 264.7 124.3 265.3 125.8 265.8 125.3 266.4 125.1 267.0 123.4 267.5 122.1 268.1 121.0 268.7 122.9 269.3 126.1 269.8 128.2 270.4 128.5 271.0 115.8 271.5 111.8 272.1 108.5 272.7 108.4 273.2 107.8 273.8 106.2 274.4 106.3 275.0 107.8 275.5 112.1 276.1 115.8 276.7 108.6 277.2 102.4 277.8 97.7 278.4 92.7 278.9 89.5 279.5 87.1 280.1 88.8 280.6 89.1 281.2 89.9 281.8 91.4 282.4 90.7 282.9 91.3 283.5 90.3 284.1 91.0 284.6 90.2 285.2 89.6 285.8 90.8 286.3 89.8 286.9 90.3 287.5 90.4 288.1 90.4 288.6 91.3 289.2 91.6 289.8 91.5 290.3 89.8 290.9 91.4 291.5 90.4 292.0 88.7 292.6 88.4 293.2 87.0 293.8 86.4 294.3 89.7 294.9 89.2 295.5 89.6 296.0 90.2 296.6 91.7 297.2 91.4 297.7 92.4 298.3 93.6 298.9 95.7 299.5 100.6 300.0 102.6 300.6 105.5 301.2 108.5 301.7 110.4 302.3 114.5 302.9 117.6 303.4 116.1 304.0 113.6 304.6 112.1 305.1 117.1 305.7 123.0 306.3 126.6 306.9 130.2 307.4 132.7 308.0 135.2 308.6 134.5 309.1 132.9 309.7 132.6 310.3 132.8 310.8 131.0 311.4 129.4 312.0 126.7 312.6 123.6 313.1 124.6 313.7 123.6 314.3 124.4 314.8 123.6 315.4 116.3 316.0 108.0 316.5 106.0 317.1 107.3 317.7 109.5 318.3 110.0 318.8 110.9 319.4 111.8 320.0 113.1 320.5 114.4 321.1 111.7 321.7 105.0 322.2 98.4 322.8 97.0 323.4 96.8 324.0 97.0 324.5 96.3 325.1 96.8 325.7 96.1 326.2 96.1 326.8 96.6 327.4 97.7 327.9 99.0 328.5 99.8 329.1 98.9 329.7 98.5 330.2 97.0 330.8 95.4 331.4 95.3 331.9 97.4 332.5 101.5 333.1 104.1 333.6 107.1 334.2 107.4 334.8 108.6 335.3 108.6 335.9 109.5 336.5 109.8 337.1 110.2 337.6 111.8 338.2 113.1 338.8 115.6 339.3 117.7 339.9 119.3 340.5 118.5 341.0 118.5 341.6 118.7 342.2 118.3 342.8 117.8 343.3 117.0 343.9 122.0 344.5 127.0 345.0 130.9 345.6 132.4 346.2 134.2 346.7 133.7 347.3 134.0 347.9 134.0 348.5 135.2 349.0 136.8 349.6 138.0 350.2 139.0 350.7 141.7 351.3 142.6 351.9 144.2 352.4 145.9 353.0 146.3 353.6 147.4 354.2 148.4 354.7 148.8 355.3 149.1 355.9 149.4 356.4 149.8 357.0 149.4 357.6 149.0 358.1 147.9 358.7 146.1 359.3 144.7 359.8 142.9 360.4 142.3 361.0 142.1 361.6 140.3 362.1 139.6 362.7 137.8 363.3 135.4 363.8 134.2 364.4 133.0 365.0 131.7 365.5 133.8 366.1 133.3 366.7 133.8 367.3 135.2 367.8 135.8 368.4 137.6 369.0 138.5 369.5 138.5 370.1 140.3 370.7 141.7 371.2 142.2 371.8 143.3 372.4 141.6 373.0 138.2 373.5 134.5 374.1 133.3 374.7 134.2 375.2 135.1 375.8 135.2 376.4 135.6 376.9 135.0 377.5 134.8 378.1 134.3 378.7 134.9 379.2 135.0 379.8 136.2 380.4 137.8 380.9 137.5 381.5 137.3 382.1 136.7 382.6 134.5 383.2 133.9 383.8 134.5 384.3 134.3 384.9 135.9 385.5 137.4 386.1 138.5 386.6 139.0 387.2 141.2 387.8 144.0 388.3 145.8 388.9 145.8 389.5 147.0 390.0 149.2 390.6 147.4 391.2 148.3 391.8 147.7 392.3 146.7 392.9 145.2 393.5 144.6 394.0 143.7 394.6 143.9 395.2 142.1 395.7 140.8 396.3 139.9 396.9 139.7 397.5 136.9 398.0 136.9 398.6 136.3 399.2 135.1 399.7 133.6 400.3 133.8 400.9 132.1 401.4 132.0 402.0 132.3 402.6 134.2 403.2 136.3 403.7 134.2 404.3 131.7 404.9 130.5 405.4 129.3 406.0 128.9 406.6 128.2 407.1 127.4 407.7 127.5 408.3 129.0 408.8 130.7 409.4 131.5 410.0 130.9 410.6 131.9 411.1 128.8 411.7 126.8 412.3 126.1 412.8 122.3 413.4 118.7 414.0 116.4 414.5 116.0 415.1 114.7 415.7 115.4 416.3 115.5 416.8 114.3 417.4 115.2 418.0 113.0 418.5 113.2 419.1 111.2 419.7 110.6 420.2 110.7 420.8 109.7 421.4 109.0 422.0 109.0 422.5 109.6 423.1 111.5 423.7 115.3 424.2 117.2 424.8 116.9 425.4 115.1 425.9 113.5 426.5 112.1 427.1 110.6 427.7 110.0 428.2 109.1 428.8 108.7 429.4 108.9 429.9 107.9 430.5 107.8 431.1 109.4 431.6 108.8 432.2 110.5 432.8 111.3 433.3 114.4 433.9 117.5 434.5 118.8 435.1 117.4 435.6 117.6 436.2 118.0 436.8 116.0 437.3 116.9 437.9 116.8 438.5 117.1 439.0 118.2 439.6 120.5 440.2 122.2 440.8 125.4 441.3 127.7 441.9 125.5 442.5 125.6 443.0 124.0 443.6 121.7 444.2 122.3 444.7 123.5 445.3 124.3 445.9 125.8 446.5 129.4 447.0 130.4 447.6 132.3 448.2 132.5 448.7 133.0 449.3 134.7 449.9 133.5 450.4 129.1 451.0 123.8 451.6 119.2 452.2 118.4 452.7 118.7 453.3 119.5 453.9 116.9 454.4 116.1 455.0 115.2 455.6 112.6 456.1 108.5 456.7 105.7 457.3 99.3 457.8 100.9 458.4 104.0 459.0 106.8 459.6 108.4 460.1 110.5 460.7 112.5 461.3 113.5 461.8 113.4 462.4 111.9 463.0 113.5 463.5 113.7 464.1 114.2 464.7 116.5 465.3 114.5 465.8 114.6 466.4 113.5 467.0 114.6 467.5 116.3 468.1 116.9 468.7 117.6 469.2 117.2 469.8 117.3 470.4 116.5 471.0 117.4 471.5 117.9 472.1 119.0 472.7 120.3 473.2 122.1 473.8 121.7 474.4 117.4 474.9 111.8 475.5 109.0 476.1 107.2 476.7 105.7 477.2 105.7 477.8 110.3 478.4 115.0 478.9 119.0 479.5 119.6 480.1 117.7 480.6 114.8 481.2 113.1 481.8 111.3 482.3 109.4 482.9 105.9 483.5 106.3 484.1 107.0 484.6 111.1 485.2 119.3 485.8 126.1 486.3 127.4 486.9 128.9 487.5 127.8 488.0 124.3 488.6 119.4 489.2 116.1 489.8 113.5 490.3 114.1 490.9 113.8 491.5 113.4 492.0 111.8 492.6 110.7 493.2 109.8 493.7 110.3 494.3 109.2 494.9 110.2 495.5 106.6 496.0 104.0 496.6 101.1 497.2 100.8 497.7 99.5 498.3 99.4 498.9 98.3 499.4 97.0 500.0 95.6 500.6 94.8 501.2 93.3 501.7 94.1 502.3 93.8 502.9 92.6 503.4 91.7 504.0 91.7 504.6 96.8 505.1 99.3 505.7 96.8 506.3 94.5 506.8 91.3 507.4 90.3 508.0 90.4 508.6 89.8 509.1 89.6 509.7 89.5 510.3 92.1 510.8 95.2 511.4 101.5 512.0 103.6 512.5 104.1 513.1 105.9 513.7 108.6 514.3 110.4 514.8 112.9 515.4 113.2 516.0 113.5 516.5 114.8 517.1 115.3 517.7 115.7 518.2 118.0 518.8 117.6 519.4 118.0 520.0 117.9 520.5 118.9 521.1 120.3 521.7 122.3 522.2 124.0 522.8 125.5 523.4 127.6 523.9 129.2 524.5 131.6 525.1 132.1 525.7 133.9 526.2 134.2 526.8 135.0 527.4 136.5 527.9 136.0 528.5 137.6 529.1 137.1 529.6 139.5 530.2 141.4 530.8 143.8 531.3 145.1 531.9 145.9 532.5 146.5 533.1 147.6 533.6 148.0 534.2 149.0 534.8 151.4 535.3 153.2 535.9 153.5 536.5 154.0 537.0 154.9 537.6 154.4 538.2 153.8 538.8 150.7 539.3 148.2 539.9 147.4 540.5 147.2 541.0 147.3 541.6 145.6 542.2 142.6 542.7 139.4 543.3 136.3 543.9 133.4 544.5 131.3 545.0 131.2 545.6 131.1 546.2 132.1 546.7 132.7 547.3 123.3 547.9 118.9 548.4 114.8 549.0 109.7 549.6 109.8 550.2 109.4 550.7 110.7 551.3 110.3 551.9 111.0 552.4 110.6 553.0 108.6 553.6 110.1 554.1 111.0 554.7 110.8 555.3 110.4 555.8 110.4 556.4 109.5 557.0 111.0 557.6 111.1 558.1 113.7 558.7 117.1 559.3 118.6 559.8 119.5 560.4 120.8 561.0 123.4 561.5 122.2 562.1 120.4 562.7 120.8 563.3 118.1 563.8 117.2 564.4 115.7 565.0 115.9 565.5 117.7 566.1 117.7 566.7 118.1 567.2 118.3 567.8 116.5 568.4 115.8 569.0 118.0 569.5 117.9 570.1 119.7 570.7 121.3 571.2 122.2 571.8 122.2 572.4 120.5 572.9 117.7 573.5 114.8 574.1 117.7 574.7 124.4 575.2 129.2 575.8 134.0 576.4 138.9 576.9 142.0 577.5 143.9 578.1 143.3 578.6 143.0 579.2 143.8 579.8 143.3 580.3 142.7 580.9 143.6 581.5 144.4 582.1 146.9 582.6 147.9 583.2 149.9 583.8 152.2 584.3 154.0 584.9 150.7 585.5 147.8 586.0 143.6 586.6 139.6 587.2 136.6 587.8 135.9 588.3 134.3 588.9 134.6 589.5 135.5 590.0 133.7 590.6 130.8 591.2 121.2 591.7 111.4 592.3 112.8 592.9 114.1 593.5 114.4 594.0 113.8 594.6 114.8 595.2 116.6 595.7 116.4 596.3 116.9 596.9 116.3 597.4 115.9 598.0 116.3 598.6 114.7 599.2 114.3 599.7 112.9 600.3 112.8 600.9 113.9 601.4 115.7 602.0 117.1" stroke="#f00" stroke-width="2.6"/>
</g>
<line x1="33" y1="316.5" x2="603" y2="316.5" stroke="#222" stroke-width="1"/>
<clipPath id="c2"><polygon points="32.5,625.0 32.8,500.3 33.4,499.7 33.9,499.3 34.5,499.5 35.1,500.4 35.6,500.6 36.2,501.4 36.8,501.7 37.4,500.6 37.9,500.3 38.5,500.6 39.1,501.7 39.6,504.1 40.2,504.8 40.8,506.7 41.3,505.7 41.9,504.7 42.5,503.9 43.1,500.4 43.6,501.9 44.2,502.3 44.8,504.3 45.3,504.3 45.9,505.2 46.5,506.0 47.0,506.7 47.6,506.7 48.2,505.7 48.8,505.2 49.3,505.3 49.9,502.5 50.5,496.2 51.0,492.3 51.6,491.5 52.2,491.8 52.7,490.8 53.3,490.6 53.9,488.0 54.5,487.7 55.0,486.4 55.6,486.4 56.2,486.0 56.7,484.2 57.3,483.6 57.9,483.3 58.4,485.2 59.0,486.2 59.6,486.4 60.1,487.9 60.7,488.6 61.3,490.0 61.9,486.7 62.4,486.1 63.0,485.8 63.6,483.2 64.1,483.2 64.7,484.1 65.3,484.6 65.8,484.2 66.4,485.4 67.0,485.8 67.6,487.0 68.1,486.9 68.7,488.4 69.3,488.2 69.8,489.4 70.4,490.1 71.0,491.7 71.5,492.3 72.1,492.5 72.7,493.1 73.3,493.1 73.8,492.5 74.4,490.6 75.0,488.9 75.5,486.3 76.1,487.4 76.7,488.1 77.2,490.7 77.8,495.0 78.4,497.2 79.0,500.7 79.5,503.2 80.1,505.0 80.7,503.5 81.2,505.1 81.8,506.3 82.4,508.5 82.9,511.3 83.5,511.6 84.1,511.7 84.6,514.2 85.2,514.8 85.8,518.2 86.4,521.0 86.9,522.8 87.5,517.9 88.1,512.3 88.6,511.7 89.2,511.1 89.8,510.7 90.3,512.7 90.9,514.7 91.5,517.2 92.1,517.6 92.6,513.3 93.2,510.1 93.8,498.6 94.3,490.4 94.9,489.7 95.5,489.3 96.0,486.9 96.6,486.6 97.2,484.3 97.8,482.7 98.3,480.9 98.9,478.1 99.5,474.5 100.0,470.9 100.6,471.0 101.2,470.5 101.7,469.6 102.3,469.9 102.9,469.3 103.5,468.1 104.0,467.0 104.6,466.2 105.2,466.2 105.7,466.3 106.3,466.7 106.9,465.8 107.4,464.8 108.0,464.4 108.6,463.1 109.1,462.7 109.7,463.2 110.3,464.1 110.9,465.6 111.4,465.3 112.0,466.3 112.6,466.8 113.1,466.2 113.7,467.1 114.3,467.1 114.8,467.1 115.4,467.8 116.0,467.9 116.6,468.1 117.1,469.1 117.7,470.4 118.3,471.5 118.8,470.7 119.4,471.0 120.0,469.9 120.5,471.1 121.1,473.4 121.7,475.2 122.3,484.5 122.8,491.3 123.4,490.7 124.0,491.3 124.5,489.9 125.1,488.1 125.7,486.7 126.2,488.3 126.8,487.4 127.4,489.6 128.0,495.2 128.5,499.9 129.1,499.9 129.7,497.8 130.2,495.7 130.8,490.8 131.4,486.4 131.9,485.8 132.5,486.9 133.1,487.8 133.6,486.4 134.2,486.3 134.8,484.8 135.4,482.5 135.9,482.8 136.5,480.0 137.1,479.8 137.6,479.5 138.2,480.4 138.8,479.4 139.3,480.2 139.9,480.1 140.5,479.6 141.1,477.7 141.6,477.0 142.2,476.5 142.8,472.8 143.3,470.5 143.9,468.8 144.5,469.6 145.0,470.0 145.6,471.5 146.2,471.7 146.8,472.0 147.3,470.6 147.9,467.8 148.5,468.0 149.0,467.8 149.6,466.0 150.2,466.2 150.7,467.5 151.3,467.6 151.9,469.0 152.5,470.6 153.0,471.0 153.6,470.1 154.2,468.1 154.7,467.4 155.3,465.9 155.9,466.9 156.4,467.8 157.0,467.6 157.6,469.7 158.1,470.8 158.7,472.8 159.3,473.6 159.9,476.6 160.4,476.3 161.0,476.5 161.6,476.2 162.1,476.0 162.7,478.0 163.3,479.7 163.8,479.0 164.4,479.9 165.0,479.9 165.6,480.1 166.1,482.0 166.7,482.7 167.3,482.1 167.8,481.8 168.4,481.6 169.0,482.0 169.5,481.9 170.1,483.1 170.7,484.6 171.3,486.2 171.8,487.0 172.4,488.4 173.0,489.0 173.5,490.0 174.1,489.2 174.7,488.5 175.2,490.1 175.8,493.4 176.4,495.2 177.0,497.1 177.5,497.5 178.1,496.9 178.7,497.4 179.2,497.7 179.8,498.7 180.4,499.3 180.9,500.0 181.5,500.9 182.1,503.2 182.6,504.2 183.2,506.0 183.8,508.8 184.4,509.0 184.9,508.3 185.5,509.3 186.1,510.0 186.6,508.9 187.2,511.0 187.8,511.8 188.3,511.9 188.9,512.5 189.5,513.9 190.1,514.7 190.6,516.5 191.2,516.8 191.8,515.0 192.3,514.4 192.9,514.3 193.5,513.9 194.0,513.1 194.6,513.0 195.2,513.8 195.8,513.0 196.3,512.9 196.9,511.7 197.5,511.6 198.0,512.7 198.6,511.7 199.2,513.8 199.7,514.7 200.3,516.8 200.9,516.6 201.5,514.6 202.0,513.7 202.6,513.9 203.2,515.6 203.7,518.0 204.3,519.0 204.9,517.7 205.4,516.4 206.0,515.1 206.6,514.0 207.1,512.5 207.7,513.2 208.3,513.2 208.9,512.7 209.4,514.2 210.0,515.5 210.6,513.9 211.1,514.9 211.7,516.8 212.3,515.6 212.8,515.7 213.4,514.7 214.0,513.9 214.6,512.7 215.1,512.5 215.7,512.6 216.3,512.5 216.8,513.9 217.4,513.6 218.0,513.9 218.5,514.2 219.1,514.3 219.7,514.8 220.3,515.5 220.8,514.7 221.4,514.0 222.0,513.4 222.5,513.7 223.1,513.8 223.7,512.9 224.2,508.3 224.8,504.9 225.4,504.0 226.0,501.3 226.5,500.6 227.1,498.0 227.7,497.5 228.2,495.2 228.8,492.7 229.4,492.5 229.9,489.7 230.5,484.5 231.1,481.5 231.6,479.4 232.2,476.7 232.8,477.2 233.4,476.5 233.9,475.7 234.5,476.5 235.1,475.8 235.6,475.2 236.2,475.7 236.8,475.0 237.3,475.4 237.9,474.2 238.5,474.3 239.1,472.6 239.6,472.9 240.2,471.9 240.8,472.4 241.3,471.0 241.9,470.3 242.5,469.7 243.0,466.5 243.6,466.9 244.2,468.2 244.8,468.1 245.3,468.4 245.9,467.4 246.5,467.5 247.0,466.2 247.6,463.6 248.2,461.4 248.7,460.0 249.3,459.0 249.9,458.0 250.5,455.6 251.0,457.4 251.6,459.3 252.2,461.0 252.7,462.1 253.3,463.4 253.9,464.2 254.4,468.5 255.0,475.1 255.6,476.2 256.1,476.6 256.7,477.1 257.3,477.6 257.9,477.6 258.4,477.2 259.0,482.2 259.6,487.5 260.1,491.7 260.7,490.8 261.3,490.3 261.8,489.0 262.4,489.8 263.0,489.7 263.6,490.5 264.1,491.5 264.7,491.4 265.3,491.7 265.8,490.9 266.4,490.3 267.0,488.4 267.5,487.3 268.1,485.5 268.7,484.4 269.3,484.8 269.8,484.0 270.4,482.2 271.0,481.7 271.5,473.5 272.1,471.2 272.7,469.6 273.2,468.1 273.8,464.6 274.4,462.9 275.0,459.9 275.5,458.0 276.1,456.9 276.7,455.7 277.2,455.7 277.8,455.6 278.4,457.1 278.9,458.1 279.5,457.4 280.1,456.5 280.6,456.1 281.2,456.0 281.8,454.8 282.4,455.4 282.9,455.8 283.5,456.3 284.1,457.5 284.6,458.0 285.2,456.5 285.8,455.9 286.3,456.8 286.9,457.0 287.5,458.4 288.1,457.8 288.6,458.5 289.2,461.2 289.8,462.4 290.3,461.1 290.9,459.7 291.5,459.5 292.0,458.1 292.6,459.3 293.2,459.2 293.8,461.3 294.3,461.4 294.9,463.1 295.5,464.4 296.0,463.8 296.6,464.9 297.2,466.1 297.7,467.5 298.3,470.1 298.9,476.1 299.5,480.8 300.0,483.0 300.6,482.5 301.2,482.7 301.7,482.9 302.3,485.2 302.9,487.4 303.4,489.6 304.0,493.9 304.6,497.8 305.1,499.6 305.7,499.2 306.3,499.3 306.9,499.5 307.4,496.7 308.0,496.2 308.6,496.8 309.1,495.9 309.7,493.9 310.3,490.4 310.8,488.4 311.4,487.1 312.0,484.7 312.6,484.4 313.1,482.8 313.7,480.8 314.3,478.4 314.8,476.5 315.4,476.0 316.0,476.4 316.5,475.9 317.1,475.4 317.7,474.8 318.3,473.7 318.8,470.7 319.4,468.4 320.0,467.5 320.5,465.4 321.1,464.0 321.7,463.5 322.2,464.0 322.8,464.9 323.4,466.0 324.0,465.5 324.5,465.7 325.1,465.4 325.7,464.2 326.2,462.2 326.8,462.3 327.4,460.9 327.9,461.1 328.5,461.0 329.1,460.1 329.7,460.3 330.2,458.5 330.8,457.8 331.4,457.1 331.9,456.9 332.5,456.7 333.1,455.8 333.6,457.1 334.2,456.5 334.8,457.8 335.3,459.6 335.9,460.9 336.5,462.3 337.1,462.5 337.6,463.7 338.2,464.4 338.8,465.7 339.3,465.5 339.9,462.7 340.5,463.1 341.0,459.5 341.6,458.8 342.2,458.5 342.8,457.8 343.3,457.2 343.9,457.9 344.5,459.9 345.0,459.6 345.6,459.0 346.2,457.4 346.7,454.7 347.3,454.0 347.9,453.1 348.5,452.9 349.0,451.4 349.6,450.3 350.2,448.5 350.7,447.7 351.3,447.1 351.9,444.5 352.4,443.7 353.0,442.1 353.6,440.1 354.2,439.0 354.7,439.1 355.3,437.9 355.9,436.8 356.4,435.3 357.0,436.2 357.6,434.6 358.1,435.8 358.7,437.6 359.3,438.6 359.8,438.5 360.4,435.8 361.0,433.9 361.6,430.1 362.1,428.9 362.7,425.3 363.3,423.2 363.8,422.4 364.4,420.0 365.0,419.3 365.5,418.0 366.1,415.1 366.7,414.2 367.3,413.7 367.8,414.8 368.4,416.1 369.0,416.4 369.5,416.9 370.1,414.4 370.7,411.5 371.2,410.2 371.8,410.2 372.4,409.7 373.0,411.0 373.5,411.4 374.1,413.7 374.7,413.9 375.2,414.4 375.8,414.8 376.4,412.8 376.9,412.5 377.5,414.7 378.1,413.9 378.7,413.9 379.2,412.1 379.8,411.2 380.4,411.1 380.9,411.6 381.5,413.0 382.1,414.5 382.6,413.6 383.2,410.7 383.8,408.0 384.3,403.5 384.9,399.7 385.5,397.5 386.1,398.5 386.6,397.9 387.2,398.5 387.8,400.8 388.3,400.7 388.9,399.5 389.5,398.5 390.0,396.7 390.6,396.0 391.2,395.1 391.8,392.7 392.3,391.4 392.9,391.7 393.5,391.9 394.0,394.4 394.6,396.0 395.2,396.4 395.7,397.2 396.3,395.6 396.9,395.7 397.5,393.7 398.0,392.3 398.6,391.8 399.2,391.0 399.7,392.7 400.3,392.6 400.9,396.0 401.4,395.9 402.0,395.8 402.6,393.2 403.2,389.6 403.7,391.2 404.3,392.2 404.9,392.7 405.4,391.2 406.0,388.8 406.6,388.1 407.1,387.7 407.7,388.2 408.3,385.3 408.8,385.9 409.4,386.3 410.0,388.5 410.6,389.7 411.1,394.8 411.7,399.1 412.3,402.5 412.8,402.0 413.4,402.1 414.0,404.0 414.5,403.6 415.1,403.4 415.7,402.7 416.3,404.4 416.8,406.8 417.4,409.8 418.0,412.0 418.5,416.4 419.1,418.0 419.7,419.6 420.2,420.8 420.8,422.2 421.4,422.5 422.0,423.7 422.5,422.8 423.1,424.5 423.7,427.8 424.2,427.8 424.8,428.8 425.4,428.0 425.9,426.5 426.5,426.7 427.1,426.8 427.7,428.8 428.2,431.2 428.8,433.2 429.4,435.7 429.9,436.8 430.5,438.0 431.1,435.8 431.6,436.1 432.2,433.2 432.8,433.2 433.3,436.8 433.9,439.8 434.5,443.3 435.1,447.2 435.6,451.1 436.2,454.5 436.8,459.1 437.3,461.2 437.9,462.7 438.5,464.3 439.0,463.2 439.6,463.9 440.2,465.4 440.8,467.2 441.3,467.1 441.9,469.6 442.5,471.6 443.0,473.8 443.6,473.5 444.2,471.4 444.7,466.6 445.3,467.0 445.9,467.6 446.5,468.1 447.0,467.5 447.6,468.7 448.2,467.8 448.7,468.2 449.3,470.2 449.9,472.2 450.4,471.2 451.0,466.7 451.6,460.7 452.2,459.4 452.7,457.5 453.3,456.4 453.9,457.8 454.4,459.8 455.0,464.2 455.6,464.8 456.1,465.7 456.7,465.9 457.3,465.7 457.8,465.0 458.4,465.7 459.0,465.9 459.6,467.3 460.1,469.9 460.7,469.7 461.3,469.1 461.8,467.6 462.4,467.5 463.0,468.4 463.5,468.8 464.1,470.0 464.7,472.1 465.3,468.8 465.8,466.0 466.4,463.0 467.0,463.4 467.5,464.8 468.1,466.9 468.7,464.7 469.2,463.7 469.8,459.0 470.4,457.4 471.0,456.8 471.5,455.2 472.1,459.4 472.7,464.8 473.2,468.7 473.8,465.5 474.4,463.5 474.9,461.1 475.5,459.0 476.1,458.2 476.7,456.3 477.2,456.9 477.8,457.2 478.4,458.4 478.9,461.2 479.5,465.7 480.1,466.8 480.6,469.6 481.2,470.2 481.8,471.0 482.3,471.7 482.9,472.5 483.5,471.8 484.1,471.2 484.6,473.0 485.2,473.5 485.8,474.7 486.3,476.2 486.9,476.3 487.5,476.2 488.0,473.2 488.6,471.7 489.2,472.3 489.8,475.3 490.3,478.7 490.9,479.8 491.5,481.8 492.0,482.0 492.6,481.5 493.2,480.3 493.7,479.3 494.3,477.6 494.9,478.7 495.5,480.5 496.0,481.6 496.6,483.2 497.2,483.7 497.7,485.3 498.3,485.7 498.9,485.3 499.4,486.0 500.0,485.3 500.6,485.3 501.2,487.4 501.7,489.0 502.3,490.9 502.9,492.7 503.4,495.8 504.0,498.4 504.6,500.8 505.1,499.1 505.7,498.6 506.3,499.0 506.8,498.3 507.4,498.6 508.0,500.2 508.6,497.9 509.1,498.8 509.7,498.1 510.3,498.4 510.8,498.1 511.4,498.1 512.0,497.4 512.5,493.6 513.1,492.5 513.7,490.7 514.3,490.0 514.8,487.2 515.4,486.8 516.0,485.9 516.5,487.8 517.1,488.5 517.7,489.1 518.2,484.9 518.8,485.8 519.4,487.9 520.0,489.6 520.5,485.9 521.1,483.9 521.7,482.5 522.2,483.6 522.8,484.9 523.4,482.1 523.9,482.6 524.5,479.8 525.1,483.1 525.7,483.9 526.2,486.6 526.8,485.9 527.4,484.3 527.9,483.0 528.5,481.6 529.1,481.5 529.6,482.0 530.2,483.9 530.8,486.4 531.3,484.1 531.9,481.2 532.5,476.6 533.1,467.4 533.6,466.5 534.2,464.6 534.8,463.9 535.3,463.8 535.9,462.5 536.5,461.9 537.0,460.8 537.6,458.5 538.2,455.5 538.8,452.4 539.3,448.4 539.9,447.8 540.5,448.8 541.0,450.3 541.6,451.3 542.2,451.7 542.7,453.2 543.3,454.6 543.9,454.8 544.5,452.3 545.0,452.1 545.6,450.8 546.2,451.7 546.7,453.2 547.3,456.3 547.9,457.2 548.4,457.5 549.0,457.5 549.6,458.0 550.2,458.0 550.7,460.0 551.3,459.9 551.9,458.7 552.4,459.5 553.0,459.9 553.6,461.0 554.1,463.0 554.7,462.4 555.3,461.1 555.8,461.8 556.4,459.7 557.0,460.0 557.6,461.4 558.1,462.0 558.7,462.6 559.3,463.3 559.8,464.1 560.4,464.8 561.0,465.7 561.5,470.8 562.1,475.0 562.7,475.0 563.3,473.1 563.8,473.6 564.4,474.5 565.0,473.0 565.5,475.0 566.1,478.3 566.7,480.6 567.2,483.9 567.8,486.5 568.4,488.7 569.0,489.0 569.5,489.4 570.1,489.9 570.7,491.2 571.2,489.7 571.8,487.8 572.4,487.1 572.9,487.2 573.5,488.9 574.1,489.7 574.7,490.9 575.2,490.0 575.8,487.7 576.4,486.7 576.9,482.3 577.5,482.3 578.1,482.5 578.6,481.9 579.2,480.0 579.8,479.1 580.3,475.2 580.9,473.1 581.5,472.0 582.1,468.2 582.6,465.1 583.2,466.4 583.8,466.8 584.3,467.0 584.9,466.0 585.5,465.6 586.0,464.3 586.6,466.2 587.2,466.2 587.8,466.9 588.3,465.4 588.9,466.8 589.5,467.1 590.0,467.8 590.6,468.6 591.2,469.3 591.7,470.4 592.3,472.2 592.9,473.3 593.5,474.3 594.0,475.1 594.6,477.2 595.2,476.0 595.7,476.4 596.3,475.9 596.9,477.0 597.4,478.1 598.0,478.9 598.6,479.1 599.2,477.4 599.7,478.8 600.3,478.6 600.9,480.9 601.4,483.6 601.7,486.0 601.7,625.0"/></clipPath>
<rect x="32.5" y="60" width="569.2" height="865.0" fill="url(#bars)" clip-path="url(#c2)"/>
<path fill="#c9c9c9" fill-rule="evenodd" d="M602.2 484.8 599.8 477.0 589.5 465.8 586.0 463.2 407.8 384.2 185.8 442.5 109.0 461.5 56.0 483.2 33.8 498.2 32.5 500.0 34.0 500.0 36.0 502.0 38.0 501.2 40.2 506.8 41.8 506.0 43.2 502.5 46.2 507.0 47.5 507.2 49.8 505.2 51.5 492.8 57.2 484.5 61.0 490.0 63.5 484.5 65.5 485.0 72.2 493.5 74.0 493.0 75.8 488.8 78.8 503.5 80.8 505.8 82.2 511.5 83.8 512.8 86.0 522.2 87.0 523.0 88.5 512.8 89.5 512.2 91.0 517.5 92.5 517.5 93.8 510.2 94.8 491.5 99.0 481.2 100.5 471.8 105.0 466.8 106.5 466.8 109.0 463.8 111.8 467.0 116.0 468.8 118.0 471.8 119.8 471.5 121.2 477.2 122.2 491.2 124.2 491.5 125.2 489.0 126.5 488.8 127.8 499.5 128.5 500.2 129.8 499.5 131.5 487.8 133.0 488.0 134.8 486.2 137.2 480.2 140.8 480.0 142.8 476.5 144.0 470.5 146.8 472.2 149.8 467.0 151.8 470.5 153.2 471.2 155.2 467.5 159.5 476.5 161.5 477.0 162.5 479.5 164.8 480.8 166.0 482.8 168.5 482.5 172.2 489.5 174.5 490.5 176.2 497.2 177.8 497.8 180.8 501.2 183.0 508.8 186.5 510.5 190.0 516.5 191.2 517.0 192.5 515.0 197.2 512.5 200.2 517.0 202.0 514.8 203.5 518.8 204.5 519.2 207.5 513.8 212.0 516.8 215.2 513.2 220.2 516.0 224.2 513.2 224.8 507.0 230.8 489.8 230.5 487.2 232.5 478.0 241.2 472.2 243.0 470.2 243.2 468.0 245.2 468.8 247.0 467.5 250.2 458.8 253.5 466.0 254.2 475.2 258.0 479.0 259.2 491.5 260.0 492.2 262.2 490.2 263.8 492.0 265.8 492.0 271.5 481.8 272.2 472.8 276.5 457.0 277.2 456.5 279.0 458.2 281.5 456.0 284.2 458.2 285.8 457.2 287.8 458.5 289.5 462.5 291.8 459.8 292.5 460.0 297.2 468.5 299.2 483.0 301.2 484.0 304.2 499.5 307.0 499.8 307.5 497.8 309.8 495.8 315.0 477.5 318.8 474.0 321.2 465.0 323.2 466.2 325.0 466.0 327.2 462.0 333.2 457.2 335.8 462.5 339.2 466.0 341.2 460.2 343.0 458.5 344.2 460.2 346.0 459.0 346.8 456.0 349.0 453.0 353.8 441.2 356.5 436.8 357.5 436.2 358.8 438.8 360.2 438.5 363.5 424.2 366.8 415.5 369.8 417.0 372.0 410.8 375.0 415.0 376.5 414.0 377.8 415.0 380.2 411.8 382.2 414.8 383.8 411.0 385.5 399.2 386.5 398.8 387.2 401.0 388.5 401.0 392.8 392.5 395.2 397.5 398.8 392.2 400.2 395.8 402.2 396.0 403.0 392.2 405.0 393.0 406.2 389.2 408.2 387.0 410.2 392.0 411.5 402.5 415.5 404.8 418.8 419.8 422.2 424.5 423.8 428.5 425.0 429.0 426.2 427.5 429.5 437.8 430.5 438.2 431.5 436.5 432.5 436.5 436.5 461.5 441.0 468.5 442.5 474.0 444.2 473.2 445.2 468.0 448.2 469.0 449.2 472.2 450.5 472.0 453.0 458.5 454.5 464.8 456.0 466.2 458.0 466.0 460.2 470.2 462.2 468.5 464.8 472.0 466.5 465.0 468.2 467.0 469.8 464.0 470.8 458.0 471.5 458.2 472.5 468.2 473.5 468.8 475.5 459.8 477.0 457.8 480.8 471.0 482.5 472.8 483.5 472.5 486.5 476.8 487.8 476.5 488.2 474.0 489.0 474.2 489.5 478.8 491.2 482.2 492.5 482.2 494.5 479.8 497.0 485.5 500.2 486.5 503.8 500.5 504.8 501.0 506.2 499.2 508.2 500.2 508.8 499.0 511.0 498.8 512.5 497.5 512.8 494.5 515.8 487.5 517.8 489.2 518.2 487.2 519.2 489.5 520.2 489.5 521.2 484.8 523.0 484.8 523.8 482.8 525.8 486.8 527.0 486.5 528.8 482.5 530.2 486.5 531.2 486.2 532.5 481.5 533.5 468.2 534.2 465.8 537.8 461.0 540.0 449.8 543.2 455.0 544.2 454.8 545.5 452.2 547.5 457.8 549.5 458.5 550.5 460.2 551.8 459.8 554.2 463.2 556.5 461.0 560.0 465.5 561.5 474.8 562.8 475.2 563.5 474.2 564.8 475.0 567.5 488.5 570.2 491.5 572.5 488.0 574.0 491.0 575.8 490.0 577.2 483.2 579.2 482.0 582.8 467.2 585.8 466.0 589.0 467.5 594.2 477.2 595.8 476.8 597.5 479.2 599.2 478.8 600.2 479.8 601.2 485.8 602.0 486.0Z"/>
<path fill="#999999" fill-rule="evenodd" d="M600.2 478.5 589.2 465.8 585.0 463.0 407.2 384.5 230.5 431.2 108.8 461.8 92.2 469.2 56.2 483.2 33.8 498.5 33.5 499.5 36.0 501.8 38.0 501.0 40.5 506.5 43.2 502.2 46.2 506.8 47.5 507.0 49.5 505.2 51.2 492.8 57.5 484.0 61.0 489.5 63.2 484.5 65.5 484.8 70.8 492.2 72.8 493.5 74.0 492.8 75.8 488.0 78.8 503.0 81.2 506.5 82.5 511.5 84.0 512.8 86.2 522.5 87.0 522.8 88.2 512.8 89.8 512.0 91.0 517.2 92.5 517.2 94.5 491.8 98.8 481.5 100.2 472.0 104.8 466.8 106.8 466.2 109.0 463.5 111.5 466.8 116.2 468.8 117.8 471.2 119.8 471.2 121.5 478.0 122.5 491.2 124.0 491.2 125.5 488.2 126.8 488.8 128.5 500.0 130.2 497.2 131.5 487.2 132.8 487.8 134.5 486.2 137.0 480.2 140.8 479.8 142.5 476.8 143.8 470.2 146.8 472.0 148.0 468.5 149.8 466.8 152.0 470.5 153.2 471.0 155.2 467.2 156.8 468.8 159.8 476.5 161.8 476.8 162.8 479.5 165.0 480.8 166.0 482.5 168.8 482.5 172.2 489.2 174.5 490.0 175.8 495.8 180.8 501.0 183.2 508.8 186.5 510.2 190.2 516.2 191.2 516.8 192.5 514.8 197.5 512.2 200.2 516.8 202.2 514.5 204.2 519.0 207.2 513.5 208.5 513.5 209.8 515.5 210.5 515.0 211.8 516.5 215.0 513.2 220.0 515.8 224.0 513.2 224.5 507.2 230.5 490.0 232.2 478.2 241.0 472.2 242.8 470.2 243.2 467.8 245.2 468.5 246.8 467.5 250.2 458.5 253.5 465.2 254.5 475.5 258.2 479.2 259.5 491.8 260.2 492.0 262.2 490.0 263.8 491.8 265.5 492.0 271.2 481.8 271.5 475.5 276.0 457.8 277.2 456.2 279.0 458.0 281.8 455.8 284.0 457.8 285.5 457.0 287.5 458.2 289.5 462.2 291.8 459.5 292.5 459.8 297.5 468.8 298.8 480.8 299.5 483.0 301.5 484.2 304.0 498.0 305.0 500.0 306.8 499.8 307.2 497.8 309.5 496.0 314.8 477.5 318.5 474.2 321.0 465.0 321.8 464.5 323.2 466.0 325.0 465.8 327.0 462.0 333.2 457.0 335.8 462.2 339.2 465.8 341.0 460.2 343.0 458.2 344.2 460.0 345.8 459.0 356.5 436.2 357.2 435.8 358.5 438.2 360.0 438.5 362.5 427.0 366.8 415.2 369.5 416.8 372.0 410.5 375.0 414.8 376.5 413.2 377.8 414.8 380.2 411.5 382.2 414.5 385.5 398.8 386.5 398.5 388.2 401.0 391.8 395.2 392.5 392.2 395.5 397.2 398.8 392.0 400.0 393.0 400.5 395.8 401.8 396.0 403.0 391.8 404.8 392.8 408.2 386.5 410.2 391.2 411.8 402.2 412.8 402.2 413.8 404.0 415.5 404.0 419.0 420.0 420.2 422.5 422.2 424.0 424.0 428.5 425.0 428.8 426.0 427.2 426.8 427.8 429.8 437.8 430.5 438.0 432.5 435.2 436.5 460.8 437.8 464.2 439.2 464.8 441.0 468.0 442.5 473.8 444.0 473.5 445.0 467.8 448.2 468.8 449.2 472.0 450.2 472.0 453.0 458.2 454.8 464.8 456.0 466.0 458.2 466.0 460.2 470.0 462.0 468.2 463.2 469.0 464.8 471.8 466.2 464.5 468.2 466.5 469.8 463.5 470.8 457.8 471.8 457.8 472.0 464.5 473.2 468.5 475.2 459.8 477.0 457.5 480.8 470.8 482.5 472.5 484.0 472.5 486.2 476.5 487.8 476.2 488.5 473.2 490.8 481.5 492.5 482.0 494.2 479.2 497.2 485.5 500.2 486.2 504.5 500.8 505.2 499.2 507.2 499.0 508.0 499.8 508.5 498.8 512.0 498.0 515.0 488.0 515.8 487.2 517.5 489.0 518.5 486.5 519.8 489.5 521.2 484.2 522.0 483.8 522.8 484.5 524.0 482.2 526.0 486.5 526.8 486.5 529.0 482.0 531.0 486.2 532.5 481.2 533.2 468.5 534.2 465.5 537.5 461.2 540.0 449.2 543.2 454.8 545.5 452.0 547.5 457.5 549.5 458.2 550.8 460.0 551.8 459.5 554.0 462.8 556.2 460.5 560.0 465.2 561.8 474.8 562.8 475.0 563.2 474.0 564.8 474.8 567.8 488.8 570.2 491.2 572.5 487.8 574.5 491.0 575.5 490.0 577.0 483.2 579.0 482.0 583.0 466.8 584.2 467.0 586.0 465.8 588.2 466.5 594.5 476.8 596.0 476.5 598.0 479.2Z"/>
<path fill="#666666" fill-rule="evenodd" d="M40.5 501.0 41.2 501.2 40.8 502.0 40.0 501.8ZM79.2 491.0 80.8 490.8 81.0 491.5 80.2 492.0ZM128.8 488.8 130.0 491.0 129.5 492.5 128.2 490.5ZM124.2 486.0 124.8 487.0 124.0 488.0ZM127.8 482.8 128.0 484.0 127.2 483.8ZM123.0 481.5 123.2 482.8 122.5 482.2ZM134.0 472.2 136.8 472.2 138.2 473.8ZM474.2 458.8 474.8 459.8 473.2 461.5 473.0 459.5ZM480.0 421.5 486.8 424.5 485.2 424.5ZM400.5 390.5 402.5 391.2 401.2 394.0 400.5 393.2 401.0 391.8 399.8 391.5ZM599.5 477.2 588.5 465.2 587.0 465.5 585.2 463.2 492.2 422.8 407.8 384.5 307.8 411.2 307.2 412.2 305.8 412.5 306.5 411.8 302.5 413.5 301.2 413.0 300.5 414.0 297.8 414.0 296.8 415.0 295.0 414.8 295.0 415.5 131.8 456.8 109.0 461.8 87.0 471.8 58.5 482.2 33.5 499.2 36.0 501.5 38.0 500.8 40.8 506.0 43.2 502.0 45.8 506.0 47.8 506.8 50.0 503.0 51.2 492.5 57.5 483.8 60.5 488.2 63.8 483.8 65.2 484.5 72.5 493.2 74.0 492.5 75.8 487.8 79.0 503.2 81.5 506.8 82.5 511.2 84.2 513.0 87.0 522.5 88.2 512.5 89.8 511.8 91.0 516.8 92.2 517.2 93.5 510.0 94.5 491.2 98.8 481.2 100.2 471.5 105.0 466.5 106.8 466.0 109.0 463.5 111.8 466.8 116.0 468.5 117.8 471.0 120.0 471.2 121.8 478.5 122.5 490.8 124.0 491.0 125.5 488.0 126.8 488.5 128.2 499.8 129.5 499.2 130.5 495.5 131.2 487.2 132.0 486.5 133.0 487.2 134.5 486.0 136.8 480.2 140.8 479.5 142.5 476.5 143.8 470.0 146.8 471.8 147.8 468.5 150.0 466.8 153.0 470.8 155.2 467.0 157.0 469.0 159.8 476.2 161.8 476.8 163.0 479.5 165.2 480.8 166.2 482.5 169.0 482.5 172.0 488.8 173.2 490.0 174.5 489.8 176.5 497.2 178.5 498.0 180.8 500.8 183.5 509.0 186.8 510.2 190.8 516.5 194.2 513.5 198.2 512.2 200.2 516.5 201.8 514.2 202.8 515.0 204.2 518.8 207.2 513.2 212.8 516.0 215.0 513.0 220.0 515.5 224.0 513.0 224.5 506.8 230.5 489.8 230.0 488.5 232.2 478.0 242.5 470.5 243.5 467.2 244.5 468.5 246.8 467.2 248.0 462.5 250.5 458.2 254.0 466.8 254.5 475.2 258.2 478.5 259.8 491.8 261.8 490.0 264.0 491.8 265.5 491.8 271.2 481.5 270.5 480.0 276.0 457.5 277.8 456.2 279.0 457.8 281.8 455.5 284.0 457.5 285.5 456.8 287.5 458.0 289.5 462.0 292.0 459.2 295.8 464.5 298.2 472.2 299.5 482.8 301.5 483.8 303.2 490.8 304.0 497.8 305.0 499.8 307.0 499.5 307.2 497.5 309.2 496.0 314.8 477.2 318.0 475.0 321.0 464.8 321.8 464.2 323.2 465.8 324.8 465.8 326.0 463.0 333.0 456.8 337.0 463.8 339.2 465.5 341.2 459.8 343.2 458.0 344.5 459.8 345.5 459.2 356.2 436.5 357.5 435.5 358.8 438.2 360.0 438.2 362.5 429.2 362.2 427.2 366.8 415.0 369.2 416.8 371.8 410.5 375.0 414.5 376.5 413.0 377.8 414.5 380.0 411.5 382.0 414.5 384.0 408.5 385.5 398.5 386.5 398.2 387.5 400.8 388.2 400.8 391.5 395.5 392.5 392.0 395.5 397.0 398.8 391.8 399.8 392.0 400.8 395.8 401.8 395.8 402.8 391.5 404.8 392.5 406.0 389.0 408.2 386.2 410.5 391.8 412.0 402.2 412.8 402.0 413.8 403.8 415.0 403.5 416.2 406.2 419.0 419.8 420.2 422.2 422.5 424.0 424.0 428.2 424.8 428.8 426.0 427.0 426.8 427.5 430.0 437.8 431.8 436.0 431.8 434.2 432.5 434.8 436.2 459.5 438.0 464.2 439.2 464.5 441.2 468.2 442.8 473.8 443.8 473.5 445.0 467.5 448.2 468.5 449.5 472.0 450.5 471.2 451.2 463.0 453.0 458.0 454.8 462.0 454.8 464.5 456.2 466.0 458.5 466.0 460.2 469.8 461.8 468.0 464.2 469.8 465.5 468.8 466.0 464.5 469.0 464.8 469.5 460.5 471.0 457.2 473.0 457.0 474.0 458.2 471.8 459.0 472.2 464.8 473.5 465.5 475.0 459.8 476.8 457.2 478.2 459.8 480.5 470.2 482.5 472.2 483.8 472.0 486.8 476.5 488.5 472.8 491.0 481.5 492.2 482.0 494.2 479.0 497.2 485.5 500.2 486.0 504.5 500.5 505.5 499.0 511.5 498.2 515.0 487.8 516.0 487.0 517.5 488.5 517.2 487.0 518.8 486.0 519.8 489.0 520.8 484.8 524.2 481.2 526.0 486.5 528.8 482.0 529.8 482.2 531.0 486.0 533.0 476.5 533.0 469.0 534.2 465.2 537.5 461.0 540.0 449.0 543.2 454.5 543.2 453.0 545.5 451.8 547.8 457.5 550.8 458.8 550.8 459.5 551.8 459.2 554.2 462.5 556.2 460.2 560.0 465.0 562.0 474.8 563.2 473.5 565.0 474.5 567.2 486.8 570.2 491.0 572.2 487.8 574.5 490.5 575.5 489.8 576.8 483.5 578.8 482.2 580.0 479.2 582.8 466.5 584.0 467.0 586.0 465.2 588.2 466.2 594.2 476.0 596.2 476.5 597.8 479.0Z"/>
<path fill="#363636" fill-rule="evenodd" d="M92.0 504.2 92.2 508.0 91.0 506.5ZM41.5 500.5 41.5 501.8 40.0 502.2 39.8 501.5ZM47.5 497.8 48.5 501.0 45.2 502.0 45.5 499.8ZM83.8 491.2 85.5 491.0 85.0 491.8ZM79.0 491.0 80.8 490.5 82.2 492.0 80.0 492.2ZM80.0 489.0 84.2 489.5 83.0 490.2ZM128.8 488.5 129.8 489.0 130.2 491.0 129.8 493.0 128.0 490.5ZM127.8 487.0 128.5 487.2 128.0 488.2 127.2 488.0ZM61.0 485.0 62.5 484.2 62.0 485.2ZM126.2 483.2 127.0 484.0 126.5 485.2 125.8 484.2ZM61.5 483.0 60.2 484.0 58.8 483.8ZM127.5 482.5 128.5 483.0 128.5 484.5 127.0 483.8ZM129.2 480.5 130.0 479.5 131.5 480.0 130.2 481.0ZM124.0 479.0 125.2 479.0 127.2 482.0 125.0 482.0ZM131.2 478.5 132.2 478.2 133.5 479.5 132.0 479.8ZM127.5 478.2 128.5 477.5 129.8 478.5 128.2 479.2ZM491.0 477.0 491.2 476.2 492.0 476.8ZM97.8 473.2 97.0 474.5 95.5 474.5ZM574.8 472.8 575.0 473.8 574.2 473.5ZM133.0 472.2 137.0 472.0 139.5 473.8 138.2 474.5ZM571.2 471.5 572.5 471.2 574.2 472.8 573.5 473.2ZM137.5 470.8 141.0 471.2 140.0 471.8ZM147.0 470.0 146.0 470.2 146.0 471.5ZM574.2 467.2 575.8 467.0 579.2 468.5 577.2 469.2ZM259.8 467.5 261.2 467.0 262.5 467.8 261.0 469.0ZM588.2 465.2 593.0 474.2 595.0 476.2 596.5 476.2 598.2 478.8 597.5 477.2 599.0 477.8 599.2 477.0ZM577.0 465.2 579.5 465.0 580.8 466.5ZM265.2 464.0 266.0 464.5 264.8 464.8ZM266.5 463.2 267.2 463.8 266.0 464.0ZM472.0 459.0 472.5 460.2 472.8 459.0ZM555.0 456.2 560.8 458.0 561.8 457.5 568.2 460.2 559.0 458.8ZM444.0 455.8 445.2 457.0 444.8 458.0ZM445.8 455.8 447.0 455.8 448.0 457.0 447.0 457.8ZM500.0 434.2 501.0 434.0 513.5 440.5 509.2 439.5ZM481.2 424.5 486.0 425.8 494.5 430.2 493.5 430.8ZM480.2 424.0 481.5 424.2 480.8 424.8ZM469.0 419.2 477.2 422.5 481.0 425.0 474.2 422.5ZM453.2 409.5 478.8 419.8 515.2 438.0 509.0 436.5 479.5 421.8 473.0 419.8 460.2 413.2 459.0 413.8 454.2 411.2ZM378.2 407.0 377.2 409.2 375.8 410.0 375.8 408.5ZM394.5 392.0 396.8 392.5 395.8 394.2 394.0 393.0ZM407.0 386.8 405.0 388.0 399.5 389.0ZM586.2 464.0 562.2 453.8 569.0 457.0 568.5 457.5 408.8 384.8 323.8 408.2 236.2 431.2 109.2 461.8 86.8 472.2 58.2 482.5 33.8 499.2 36.2 501.5 38.2 500.8 40.8 505.5 42.2 504.0 41.2 502.2 43.0 501.5 45.8 505.8 47.5 506.8 49.2 505.0 50.0 502.5 49.5 500.5 51.2 492.2 57.5 483.5 58.8 486.0 61.2 487.2 63.8 483.5 68.5 487.8 72.2 493.0 73.8 492.5 75.0 487.8 76.0 487.8 79.0 503.0 81.8 507.0 82.8 511.5 84.0 512.2 86.0 516.2 85.8 518.5 86.2 517.0 87.5 518.0 86.2 514.0 87.8 513.5 89.2 511.2 92.0 517.2 93.2 510.2 94.2 491.8 98.5 481.5 100.2 471.2 104.8 466.5 109.2 463.5 112.0 466.8 116.2 468.5 117.5 470.8 120.0 471.0 122.0 479.8 123.8 482.0 123.8 483.0 122.0 483.8 122.8 488.2 123.8 484.8 125.2 487.0 122.8 490.8 124.0 490.8 125.2 487.5 127.0 488.5 127.5 491.8 128.5 492.2 127.8 495.2 128.8 496.5 128.8 499.8 130.0 497.2 130.8 489.2 129.5 487.8 130.5 487.0 130.8 488.5 132.0 486.2 134.2 486.0 135.5 481.5 137.0 480.0 140.5 479.8 142.2 476.8 143.5 470.0 145.5 470.0 144.8 468.5 147.2 468.8 149.8 466.5 153.0 470.5 153.5 469.5 152.5 468.2 153.8 468.5 155.0 466.8 157.0 468.8 160.0 476.2 161.8 476.5 162.2 478.2 165.8 481.0 166.0 482.2 168.8 482.2 172.0 488.5 173.2 489.8 174.5 489.5 176.5 497.0 178.0 497.5 181.2 501.5 183.8 507.5 183.5 508.8 186.2 509.5 189.8 515.0 191.8 515.0 198.0 512.0 199.8 515.0 202.2 514.2 204.2 516.2 204.0 518.0 207.0 513.2 208.8 513.2 209.5 514.5 212.8 515.8 215.0 513.0 216.0 513.0 220.2 515.5 224.0 512.8 223.2 511.2 224.5 508.8 224.2 507.0 230.2 490.2 230.0 487.8 232.2 477.8 240.5 472.2 242.8 470.0 242.2 468.5 243.2 467.2 244.2 468.2 246.5 467.2 247.8 462.8 250.5 458.0 254.2 467.0 255.2 473.5 254.8 475.5 258.5 479.0 259.8 491.5 262.2 489.8 263.8 491.5 265.2 491.8 271.0 481.8 270.2 479.8 275.8 457.8 276.8 456.2 278.5 456.2 279.0 457.2 281.8 455.5 283.5 456.8 285.5 456.5 290.5 459.8 291.8 458.8 296.0 464.8 298.8 474.0 299.0 480.8 299.8 482.8 301.8 484.2 304.8 499.2 306.5 499.5 307.2 497.2 309.2 495.8 314.5 477.5 318.0 474.8 320.8 465.0 322.0 464.2 323.2 465.5 324.8 465.5 325.8 463.0 333.0 456.5 334.2 457.5 336.0 462.2 339.0 465.5 338.8 463.5 340.2 462.8 340.5 460.5 343.0 458.0 344.8 457.5 344.5 459.5 346.0 457.8 345.2 456.5 349.8 450.8 356.2 436.2 357.5 435.2 358.8 438.0 359.8 438.2 362.2 429.2 362.0 427.5 366.5 415.2 367.5 414.5 369.0 416.5 370.0 414.2 369.5 413.8 368.5 415.0 368.0 413.8 369.8 413.2 372.0 410.2 375.2 414.5 377.5 412.5 377.8 414.2 380.0 411.2 381.5 411.8 382.0 414.2 385.2 398.8 386.0 398.0 388.0 398.8 387.5 400.2 388.2 400.5 392.5 392.0 394.0 393.2 393.8 394.5 395.2 396.5 398.2 392.0 400.8 390.2 403.2 390.5 404.5 392.0 404.2 391.0 405.0 391.0 403.5 390.0 405.5 389.5 407.8 386.2 409.2 387.2 410.5 391.2 412.0 401.2 415.8 404.2 418.2 414.8 418.0 416.8 420.2 422.0 422.5 423.8 424.5 428.5 425.8 427.0 427.2 428.0 430.2 437.8 430.2 436.2 431.8 435.5 430.5 433.0 432.5 434.2 436.5 460.0 438.0 464.0 439.2 464.2 441.5 468.5 442.8 473.5 443.8 473.2 444.2 471.2 443.2 466.5 444.0 467.5 448.2 468.2 450.2 471.2 449.2 467.5 450.2 467.2 450.5 468.5 451.2 466.8 450.5 464.0 453.0 457.8 455.2 462.8 454.8 464.2 456.0 465.8 458.0 465.5 460.5 469.5 461.2 468.8 460.8 467.5 465.2 469.0 466.0 464.0 468.8 464.8 469.5 463.2 468.2 461.2 471.8 456.2 475.2 459.2 476.8 457.0 478.5 460.0 479.5 464.2 479.0 465.8 480.5 470.0 482.2 472.0 484.2 472.2 486.5 476.2 487.5 476.0 486.5 473.2 487.8 473.8 488.2 472.5 489.0 473.0 491.2 481.8 492.0 482.0 494.5 479.0 497.5 485.5 500.0 485.8 500.8 486.8 503.8 498.8 506.2 499.0 512.0 497.5 511.8 495.8 515.0 487.5 517.0 485.5 520.5 486.2 521.2 483.5 523.5 482.5 524.2 480.8 525.2 481.0 525.2 483.8 526.5 484.2 526.2 486.2 528.0 482.8 530.0 481.2 531.0 481.8 530.2 483.0 531.2 484.0 532.8 476.0 531.0 474.2 532.5 472.8 534.0 465.5 537.2 461.2 539.8 448.8 542.2 452.0 545.8 451.8 548.0 457.5 554.8 461.2 554.8 459.8 557.2 461.0 561.5 468.8 563.0 469.8 561.2 471.0 565.0 474.2 568.0 488.5 570.5 490.8 572.2 487.5 574.0 489.8 575.2 490.0 576.8 483.2 578.8 482.0 580.0 479.0 582.2 467.0 585.2 466.0Z"/>
<path fill="#080808" fill-rule="evenodd" d="M91.0 510.5 92.0 510.2 92.5 511.5 91.8 511.8ZM89.5 505.2 90.5 507.5 90.8 506.5ZM87.8 498.2 87.5 500.0 86.5 500.5ZM78.0 488.0 86.2 489.0 88.5 491.0 86.5 492.2 87.5 492.5 87.0 493.0 84.2 492.5 86.2 495.0 84.2 496.8 81.0 497.0 80.5 498.0 79.8 497.0 82.5 495.5 78.8 492.2 79.0 490.0 77.5 489.2ZM306.2 487.5 306.8 488.2 306.0 488.8ZM62.5 485.8 59.2 486.0 61.8 486.5ZM57.0 483.8 45.5 492.2 34.0 499.2 36.2 501.0 39.8 500.2 39.2 501.8 41.0 500.2 40.2 499.5 41.0 498.8 42.2 498.8 46.2 495.5 42.2 501.0 47.5 506.5 49.8 502.5 48.8 501.8 47.5 503.8 45.2 502.5 43.5 499.8 47.8 497.0 49.2 497.5 49.5 499.8 50.5 496.0 46.8 496.0 50.5 494.0ZM66.5 480.2 58.0 482.8 57.8 483.5ZM88.8 481.0 90.8 479.2 95.2 480.2ZM570.5 479.0 572.0 478.8 572.5 479.5 571.8 480.0ZM97.0 476.5 94.0 478.8 89.2 478.8 93.5 476.5ZM126.2 476.8 129.2 477.5 128.2 476.2 129.2 476.0 134.8 479.5 135.0 480.8 132.0 480.2 133.8 481.8 133.5 482.8 132.2 482.5 132.2 483.8 130.5 482.2 131.2 481.0 128.8 481.2 128.5 480.0 126.2 478.8ZM267.0 474.5 267.5 475.2 266.8 476.2 266.2 475.2ZM266.5 473.0 267.0 473.5 265.8 474.8 265.5 473.8ZM98.5 472.8 97.2 474.8 94.2 475.2ZM529.8 472.2 530.8 472.8 530.0 474.0 529.0 473.2ZM485.0 471.8 486.2 471.5 486.0 472.2ZM130.5 471.2 138.2 472.0 140.2 473.8 139.2 474.8 137.2 474.5ZM574.8 471.0 577.2 472.0 576.2 472.2ZM561.5 470.5 562.8 471.2 562.8 470.5ZM136.0 470.5 140.5 470.2 141.8 471.2 140.0 472.0ZM140.0 469.2 142.8 469.5 141.5 470.0ZM590.5 468.2 593.0 474.0 596.0 476.0 596.2 475.2ZM566.0 467.5 568.8 468.2 576.2 473.2 576.8 475.2 574.2 474.5ZM462.8 465.0 463.0 464.2 463.8 464.8ZM257.8 464.0 259.2 463.8 260.2 464.8 258.5 465.8ZM563.8 461.5 569.8 462.8 571.2 465.0 571.2 463.8 572.8 465.0 573.2 464.2 574.5 465.0 576.5 464.2 580.5 465.0 581.5 466.2 580.8 467.2 576.5 466.8 580.0 468.2 579.8 470.0 578.8 470.2 572.2 467.8 569.8 465.8 569.5 463.8 568.8 464.2ZM273.0 458.2 266.8 465.0 263.5 466.0 262.2 470.0 260.2 469.5 258.8 467.8 259.2 466.0 261.5 465.5 262.5 466.5 261.8 465.0 263.5 463.5 260.8 464.2 259.5 462.8 270.8 458.0ZM465.5 456.8 466.5 457.8 466.0 458.5 464.8 457.5ZM550.0 455.8 551.0 455.5 552.8 457.2 551.0 457.0ZM549.8 453.2 557.2 455.2 568.8 459.8 571.0 461.5 555.2 458.0ZM442.0 452.0 446.0 453.2 448.8 457.2 448.5 460.2 446.5 458.2 446.0 460.0 444.2 458.8 442.8 455.8 443.8 454.8 445.2 456.0 445.2 454.2 444.0 453.2 442.5 454.0ZM440.2 449.0 443.2 449.2 444.2 450.5 441.0 450.2ZM531.0 447.8 532.0 447.2 532.5 448.0ZM524.2 446.2 525.0 447.8 523.8 446.8ZM440.5 446.0 441.8 446.5 441.2 447.0ZM513.5 444.0 520.0 446.2 516.2 445.8ZM466.8 427.2 468.2 426.0 468.2 427.2 473.5 430.0 468.8 428.8ZM381.2 410.0 382.8 409.5 382.5 410.2ZM379.5 408.5 379.8 409.8 378.8 410.5ZM381.0 406.2 379.8 408.8 379.2 408.0 375.8 410.8 373.2 409.8 374.0 408.5 378.2 406.5 379.8 407.0ZM432.8 404.2 446.2 410.8 448.5 413.0 454.0 415.8 454.2 416.5 452.8 416.2 457.5 419.2 457.2 418.2 460.5 420.2 459.5 420.2 460.5 421.5 464.5 423.2 464.5 424.2 462.2 423.8 467.0 426.0 466.2 426.5 462.0 424.5 461.2 423.2 457.5 421.5 456.8 420.0 448.2 414.2 443.2 412.2ZM439.5 403.2 456.5 410.0 455.2 408.8 456.0 408.5 500.0 429.0 458.2 409.2 457.8 408.8 458.8 408.5 550.8 451.2 542.0 448.5 515.2 436.5 514.5 436.8 526.5 443.0 527.0 443.8 525.8 444.2 517.8 441.5 517.2 442.5 507.8 439.2 506.5 440.0 499.5 437.0 500.0 437.8 499.2 438.0 489.8 433.8 489.5 432.5 458.0 414.8 459.0 414.5 464.5 416.8 449.5 409.8ZM427.0 395.2 440.8 400.8 452.8 407.0 453.8 406.5 454.0 408.0ZM586.2 464.2 573.0 459.8 540.8 445.8 407.5 384.8 257.2 427.0 188.0 443.8 187.2 445.0 186.8 444.2 109.8 461.8 58.5 485.2 64.0 483.5 68.8 487.8 72.2 492.8 73.8 492.2 75.0 488.8 73.5 488.5 74.0 489.2 73.0 489.8 73.0 491.0 71.0 489.2 74.2 486.8 76.2 487.8 79.2 503.0 82.0 507.2 82.8 511.2 84.2 512.2 87.2 518.0 86.0 514.5 86.2 512.0 87.8 512.8 90.5 511.0 92.5 513.2 93.2 509.8 91.2 507.8 91.8 510.0 90.8 510.0 90.0 508.0 88.2 506.8 89.0 505.0 88.5 502.5 90.8 499.8 92.2 500.0 92.2 501.8 93.2 502.5 93.8 498.2 91.8 496.5 93.8 494.0 98.5 481.2 100.0 471.5 108.8 463.2 111.8 466.5 116.2 468.5 117.5 470.5 120.0 470.8 124.2 482.2 123.8 483.5 122.0 484.2 122.2 485.0 123.8 484.0 125.5 485.0 123.0 477.5 124.2 477.0 127.0 479.8 130.2 485.0 129.2 486.5 127.8 484.8 127.2 486.5 126.0 485.5 125.2 486.0 126.8 487.8 127.5 486.8 129.0 487.0 127.2 489.0 127.5 490.2 129.5 486.5 133.8 486.2 134.5 484.8 134.0 483.5 136.8 480.0 140.2 479.8 142.2 476.2 141.8 475.0 144.5 468.0 148.5 467.8 146.8 466.5 154.5 466.2 157.0 468.5 160.2 476.5 161.8 476.5 162.5 478.5 165.8 480.8 166.2 482.2 169.0 482.2 172.2 488.8 174.8 489.5 176.8 497.0 178.5 497.8 181.8 502.0 183.8 508.8 186.8 509.5 187.0 511.2 189.8 514.8 191.5 515.0 196.8 512.0 198.5 512.0 199.8 514.8 202.0 514.0 205.0 516.8 207.0 513.0 212.2 515.8 214.8 513.0 220.2 515.2 223.8 513.0 223.0 511.0 224.5 508.5 224.2 506.5 230.2 490.0 229.8 488.2 232.2 477.5 242.5 470.2 242.0 468.5 243.2 467.0 245.0 468.0 247.0 466.2 247.8 462.5 250.5 457.8 254.5 467.0 254.8 470.8 256.2 472.5 254.8 475.0 258.2 478.0 259.2 480.5 258.8 482.8 260.0 484.8 259.2 487.5 261.2 487.8 260.0 491.2 262.0 489.5 264.0 491.5 265.2 491.5 270.8 481.8 270.0 479.5 276.0 456.8 281.8 455.2 283.2 456.5 285.2 456.2 289.0 459.0 291.8 458.5 296.0 464.5 299.0 473.8 299.2 481.0 302.0 484.5 305.0 499.2 306.5 499.2 307.0 497.2 309.0 495.8 314.2 477.5 317.8 474.8 320.8 464.8 322.0 464.0 324.5 465.2 325.5 464.2 325.0 463.2 333.2 456.2 336.0 462.0 339.0 465.0 338.5 463.0 339.8 462.8 339.5 461.2 344.2 457.8 348.2 453.2 356.2 436.0 361.0 434.0 359.2 432.8 362.2 429.2 361.8 427.5 366.5 415.0 372.2 410.0 373.2 410.2 373.2 411.5 375.0 412.0 374.2 413.0 374.8 413.8 377.8 412.0 378.0 413.5 380.2 411.0 382.8 411.5 383.8 407.8 382.5 408.0 382.2 407.2 383.8 406.5 385.0 398.8 386.0 397.8 387.5 398.2 388.5 397.0 389.5 397.2 391.2 395.5 391.0 394.0 392.5 391.8 393.8 392.2 405.8 389.0 406.2 387.5 399.8 389.8 396.5 389.8 407.5 386.0 409.5 387.5 411.8 393.8 410.5 394.8 412.8 398.2 411.5 398.5 411.5 399.8 415.8 403.8 418.5 415.0 418.0 416.5 419.8 421.0 422.8 424.0 424.2 427.8 425.2 427.8 425.2 426.5 427.2 427.8 429.8 436.5 429.8 434.0 431.5 435.5 430.2 432.2 432.8 434.5 437.0 461.2 441.2 467.5 443.0 473.2 443.5 472.0 442.8 470.8 444.2 470.8 442.2 467.5 442.8 466.2 449.0 468.5 449.2 466.8 451.0 466.8 450.0 463.8 453.2 457.2 456.2 462.8 455.0 464.2 456.5 465.8 458.2 465.5 459.8 467.5 460.8 467.0 465.0 469.0 464.0 466.2 465.8 466.2 465.2 464.2 466.2 463.5 468.8 464.5 469.2 463.0 468.0 461.0 471.2 456.2 472.8 456.2 475.5 458.5 476.0 457.5 474.5 456.2 475.2 456.0 478.5 459.8 479.8 464.2 479.2 466.0 481.0 470.5 482.5 471.8 483.8 471.5 486.5 476.0 487.2 475.8 485.8 473.5 486.2 472.2 487.8 473.2 488.0 472.0 490.5 474.0 489.5 474.8 490.0 476.8 490.8 476.0 492.8 476.8 490.0 478.5 491.5 481.5 492.5 481.2 493.5 479.0 491.8 480.8 491.2 478.8 493.0 477.8 494.5 478.5 497.5 485.2 500.8 486.2 503.8 498.5 506.2 498.8 511.8 497.5 511.5 495.5 514.2 488.5 517.0 485.2 520.5 486.0 520.0 484.8 525.0 480.2 526.0 481.2 525.0 482.5 525.8 483.8 526.5 481.8 527.5 481.8 526.5 485.8 529.5 480.8 532.0 481.2 529.2 478.2 530.2 477.2 532.0 477.8 532.8 476.8 530.8 474.8 534.0 465.2 537.2 461.0 538.8 450.8 540.0 448.5 544.0 449.8 546.0 451.8 546.8 454.0 549.5 456.0 547.5 456.0 548.0 457.2 553.0 459.8 554.8 459.2 556.5 460.0 561.2 467.2 570.5 476.0 569.0 475.8 565.8 472.0 564.5 472.2 568.2 488.8 570.2 490.2 572.5 487.2 575.0 489.8 574.8 488.2 576.2 486.5 575.5 484.5 578.8 481.8 582.2 466.5 583.0 465.8 585.0 466.0Z"/>
<clipPath id="c2A"><rect x="32.6" y="0" width="580" height="686"/></clipPath>
<g clip-path="url(#c2A)" fill="none" stroke-linejoin="round" stroke-linecap="round">
<path d="M32.8 500.3 33.4 499.7 33.9 499.3 34.5 499.5 35.1 500.4 35.6 500.6 36.2 501.4 36.8 501.7 37.4 500.6 37.9 500.3 38.5 500.6 39.1 501.7 39.6 504.1 40.2 504.8 40.8 506.7 41.3 505.7 41.9 504.7 42.5 503.9 43.1 500.4 43.6 501.9 44.2 502.3 44.8 504.3 45.3 504.3 45.9 505.2 46.5 506.0 47.0 506.7 47.6 506.7 48.2 505.7 48.8 505.2 49.3 505.3 49.9 502.5 50.5 496.2 51.0 492.3 51.6 491.5 52.2 491.8 52.7 490.8 53.3 490.6 53.9 488.0 54.5 487.7 55.0 486.4 55.6 486.4 56.2 486.0 56.7 484.2 57.3 483.6 57.9 483.3 58.4 485.2 59.0 486.2 59.6 486.4 60.1 487.9 60.7 488.6 61.3 490.0 61.9 486.7 62.4 486.1 63.0 485.8 63.6 483.2 64.1 483.2 64.7 484.1 65.3 484.6 65.8 484.2 66.4 485.4 67.0 485.8 67.6 487.0 68.1 486.9 68.7 488.4 69.3 488.2 69.8 489.4 70.4 490.1 71.0 491.7 71.5 492.3 72.1 492.5 72.7 493.1 73.3 493.1 73.8 492.5 74.4 490.6 75.0 488.9 75.5 486.3 76.1 487.4 76.7 488.1 77.2 490.7 77.8 495.0 78.4 497.2 79.0 500.7 79.5 503.2 80.1 505.0 80.7 503.5 81.2 505.1 81.8 506.3 82.4 508.5 82.9 511.3 83.5 511.6 84.1 511.7 84.6 514.2 85.2 514.8 85.8 518.2 86.4 521.0 86.9 522.8 87.5 517.9 88.1 512.3 88.6 511.7 89.2 511.1 89.8 510.7 90.3 512.7 90.9 514.7 91.5 517.2 92.1 517.6 92.6 513.3 93.2 510.1 93.8 498.6 94.3 490.4 94.9 489.7 95.5 489.3 96.0 486.9 96.6 486.6 97.2 484.3 97.8 482.7 98.3 480.9 98.9 478.1 99.5 474.5 100.0 470.9 100.6 471.0 101.2 470.5 101.7 469.6 102.3 469.9 102.9 469.3 103.5 468.1 104.0 467.0 104.6 466.2 105.2 466.2 105.7 466.3 106.3 466.7 106.9 465.8 107.4 464.8 108.0 464.4 108.6 463.1 109.1 462.7 109.7 463.2 110.3 464.1 110.9 465.6 111.4 465.3 112.0 466.3 112.6 466.8 113.1 466.2 113.7 467.1 114.3 467.1 114.8 467.1 115.4 467.8 116.0 467.9 116.6 468.1 117.1 469.1 117.7 470.4 118.3 471.5 118.8 470.7 119.4 471.0 120.0 469.9 120.5 471.1 121.1 473.4 121.7 475.2 122.3 484.5 122.8 491.3 123.4 490.7 124.0 491.3 124.5 489.9 125.1 488.1 125.7 486.7 126.2 488.3 126.8 487.4 127.4 489.6 128.0 495.2 128.5 499.9 129.1 499.9 129.7 497.8 130.2 495.7 130.8 490.8 131.4 486.4 131.9 485.8 132.5 486.9 133.1 487.8 133.6 486.4 134.2 486.3 134.8 484.8 135.4 482.5 135.9 482.8 136.5 480.0 137.1 479.8 137.6 479.5 138.2 480.4 138.8 479.4 139.3 480.2 139.9 480.1 140.5 479.6 141.1 477.7 141.6 477.0 142.2 476.5 142.8 472.8 143.3 470.5 143.9 468.8 144.5 469.6 145.0 470.0 145.6 471.5 146.2 471.7 146.8 472.0 147.3 470.6 147.9 467.8 148.5 468.0 149.0 467.8 149.6 466.0 150.2 466.2 150.7 467.5 151.3 467.6 151.9 469.0 152.5 470.6 153.0 471.0 153.6 470.1 154.2 468.1 154.7 467.4 155.3 465.9 155.9 466.9 156.4 467.8 157.0 467.6 157.6 469.7 158.1 470.8 158.7 472.8 159.3 473.6 159.9 476.6 160.4 476.3 161.0 476.5 161.6 476.2 162.1 476.0 162.7 478.0 163.3 479.7 163.8 479.0 164.4 479.9 165.0 479.9 165.6 480.1 166.1 482.0 166.7 482.7 167.3 482.1 167.8 481.8 168.4 481.6 169.0 482.0 169.5 481.9 170.1 483.1 170.7 484.6 171.3 486.2 171.8 487.0 172.4 488.4 173.0 489.0 173.5 490.0 174.1 489.2 174.7 488.5 175.2 490.1 175.8 493.4 176.4 495.2 177.0 497.1 177.5 497.5 178.1 496.9 178.7 497.4 179.2 497.7 179.8 498.7 180.4 499.3 180.9 500.0 181.5 500.9 182.1 503.2 182.6 504.2 183.2 506.0 183.8 508.8 184.4 509.0 184.9 508.3 185.5 509.3 186.1 510.0 186.6 508.9 187.2 511.0 187.8 511.8 188.3 511.9 188.9 512.5 189.5 513.9 190.1 514.7 190.6 516.5 191.2 516.8 191.8 515.0 192.3 514.4 192.9 514.3 193.5 513.9 194.0 513.1 194.6 513.0 195.2 513.8 195.8 513.0 196.3 512.9 196.9 511.7 197.5 511.6 198.0 512.7 198.6 511.7 199.2 513.8 199.7 514.7 200.3 516.8 200.9 516.6 201.5 514.6 202.0 513.7 202.6 513.9 203.2 515.6 203.7 518.0 204.3 519.0 204.9 517.7 205.4 516.4 206.0 515.1 206.6 514.0 207.1 512.5 207.7 513.2 208.3 513.2 208.9 512.7 209.4 514.2 210.0 515.5 210.6 513.9 211.1 514.9 211.7 516.8 212.3 515.6 212.8 515.7 213.4 514.7 214.0 513.9 214.6 512.7 215.1 512.5 215.7 512.6 216.3 512.5 216.8 513.9 217.4 513.6 218.0 513.9 218.5 514.2 219.1 514.3 219.7 514.8 220.3 515.5 220.8 514.7 221.4 514.0 222.0 513.4 222.5 513.7 223.1 513.8 223.7 512.9 224.2 508.3 224.8 504.9 225.4 504.0 226.0 501.3 226.5 500.6 227.1 498.0 227.7 497.5 228.2 495.2 228.8 492.7 229.4 492.5 229.9 489.7 230.5 484.5 231.1 481.5 231.6 479.4 232.2 476.7 232.8 477.2 233.4 476.5 233.9 475.7 234.5 476.5 235.1 475.8 235.6 475.2 236.2 475.7 236.8 475.0 237.3 475.4 237.9 474.2 238.5 474.3 239.1 472.6 239.6 472.9 240.2 471.9 240.8 472.4 241.3 471.0 241.9 470.3 242.5 469.7 243.0 466.5 243.6 466.9 244.2 468.2 244.8 468.1 245.3 468.4 245.9 467.4 246.5 467.5 247.0 466.2 247.6 463.6 248.2 461.4 248.7 460.0 249.3 459.0 249.9 458.0 250.5 455.6 251.0 457.4 251.6 459.3 252.2 461.0 252.7 462.1 253.3 463.4 253.9 464.2 254.4 468.5 255.0 475.1 255.6 476.2 256.1 476.6 256.7 477.1 257.3 477.6 257.9 477.6 258.4 477.2 259.0 482.2 259.6 487.5 260.1 491.7 260.7 490.8 261.3 490.3 261.8 489.0 262.4 489.8 263.0 489.7 263.6 490.5 264.1 491.5 264.7 491.4 265.3 491.7 265.8 490.9 266.4 490.3 267.0 488.4 267.5 487.3 268.1 485.5 268.7 484.4 269.3 484.8 269.8 484.0 270.4 482.2 271.0 481.7 271.5 473.5 272.1 471.2 272.7 469.6 273.2 468.1 273.8 464.6 274.4 462.9 275.0 459.9 275.5 458.0 276.1 456.9 276.7 455.7 277.2 455.7 277.8 455.6 278.4 457.1 278.9 458.1 279.5 457.4 280.1 456.5 280.6 456.1 281.2 456.0 281.8 454.8 282.4 455.4 282.9 455.8 283.5 456.3 284.1 457.5 284.6 458.0 285.2 456.5 285.8 455.9 286.3 456.8 286.9 457.0 287.5 458.4 288.1 457.8 288.6 458.5 289.2 461.2 289.8 462.4 290.3 461.1 290.9 459.7 291.5 459.5 292.0 458.1 292.6 459.3 293.2 459.2 293.8 461.3 294.3 461.4 294.9 463.1 295.5 464.4 296.0 463.8 296.6 464.9 297.2 466.1 297.7 467.5 298.3 470.1 298.9 476.1 299.5 480.8 300.0 483.0 300.6 482.5 301.2 482.7 301.7 482.9 302.3 485.2 302.9 487.4 303.4 489.6 304.0 493.9 304.6 497.8 305.1 499.6 305.7 499.2 306.3 499.3 306.9 499.5 307.4 496.7 308.0 496.2 308.6 496.8 309.1 495.9 309.7 493.9 310.3 490.4 310.8 488.4 311.4 487.1 312.0 484.7 312.6 484.4 313.1 482.8 313.7 480.8 314.3 478.4 314.8 476.5 315.4 476.0 316.0 476.4 316.5 475.9 317.1 475.4 317.7 474.8 318.3 473.7 318.8 470.7 319.4 468.4 320.0 467.5 320.5 465.4 321.1 464.0 321.7 463.5 322.2 464.0 322.8 464.9 323.4 466.0 324.0 465.5 324.5 465.7 325.1 465.4 325.7 464.2 326.2 462.2 326.8 462.3 327.4 460.9 327.9 461.1 328.5 461.0 329.1 460.1 329.7 460.3 330.2 458.5 330.8 457.8 331.4 457.1 331.9 456.9 332.5 456.7 333.1 455.8 333.6 457.1 334.2 456.5 334.8 457.8 335.3 459.6 335.9 460.9 336.5 462.3 337.1 462.5 337.6 463.7 338.2 464.4 338.8 465.7 339.3 465.5 339.9 462.7 340.5 463.1 341.0 459.5 341.6 458.8 342.2 458.5 342.8 457.8 343.3 457.2 343.9 457.9 344.5 459.9 345.0 459.6 345.6 459.0 346.2 457.4 346.7 454.7 347.3 454.0 347.9 453.1 348.5 452.9 349.0 451.4 349.6 450.3 350.2 448.5 350.7 447.7 351.3 447.1 351.9 444.5 352.4 443.7 353.0 442.1 353.6 440.1 354.2 439.0 354.7 439.1 355.3 437.9 355.9 436.8 356.4 435.3 357.0 436.2 357.6 434.6 358.1 435.8 358.7 437.6 359.3 438.6 359.8 438.5 360.4 435.8 361.0 433.9 361.6 430.1 362.1 428.9 362.7 425.3 363.3 423.2 363.8 422.4 364.4 420.0 365.0 419.3 365.5 418.0 366.1 415.1 366.7 414.2 367.3 413.7 367.8 414.8 368.4 416.1 369.0 416.4 369.5 416.9 370.1 414.4 370.7 411.5 371.2 410.2 371.8 410.2 372.4 409.7 373.0 411.0 373.5 411.4 374.1 413.7 374.7 413.9 375.2 414.4 375.8 414.8 376.4 412.8 376.9 412.5 377.5 414.7 378.1 413.9 378.7 413.9 379.2 412.1 379.8 411.2 380.4 411.1 380.9 411.6 381.5 413.0 382.1 414.5 382.6 413.6 383.2 410.7 383.8 408.0 384.3 403.5 384.9 399.7 385.5 397.5 386.1 398.5 386.6 397.9 387.2 398.5 387.8 400.8 388.3 400.7 388.9 399.5 389.5 398.5 390.0 396.7 390.6 396.0 391.2 395.1 391.8 392.7 392.3 391.4 392.9 391.7 393.5 391.9 394.0 394.4 394.6 396.0 395.2 396.4 395.7 397.2 396.3 395.6 396.9 395.7 397.5 393.7 398.0 392.3 398.6 391.8 399.2 391.0 399.7 392.7 400.3 392.6 400.9 396.0 401.4 395.9 402.0 395.8 402.6 393.2 403.2 389.6 403.7 391.2 404.3 392.2 404.9 392.7 405.4 391.2 406.0 388.8 406.6 388.1 407.1 387.7 407.7 388.2 408.3 385.3 408.8 385.9 409.4 386.3 410.0 388.5 410.6 389.7 411.1 394.8 411.7 399.1 412.3 402.5 412.8 402.0 413.4 402.1 414.0 404.0 414.5 403.6 415.1 403.4 415.7 402.7 416.3 404.4 416.8 406.8 417.4 409.8 418.0 412.0 418.5 416.4 419.1 418.0 419.7 419.6 420.2 420.8 420.8 422.2 421.4 422.5 422.0 423.7 422.5 422.8 423.1 424.5 423.7 427.8 424.2 427.8 424.8 428.8 425.4 428.0 425.9 426.5 426.5 426.7 427.1 426.8 427.7 428.8 428.2 431.2 428.8 433.2 429.4 435.7 429.9 436.8 430.5 438.0 431.1 435.8 431.6 436.1 432.2 433.2 432.8 433.2 433.3 436.8 433.9 439.8 434.5 443.3 435.1 447.2 435.6 451.1 436.2 454.5 436.8 459.1 437.3 461.2 437.9 462.7 438.5 464.3 439.0 463.2 439.6 463.9 440.2 465.4 440.8 467.2 441.3 467.1 441.9 469.6 442.5 471.6 443.0 473.8 443.6 473.5 444.2 471.4 444.7 466.6 445.3 467.0 445.9 467.6 446.5 468.1 447.0 467.5 447.6 468.7 448.2 467.8 448.7 468.2 449.3 470.2 449.9 472.2 450.4 471.2 451.0 466.7 451.6 460.7 452.2 459.4 452.7 457.5 453.3 456.4 453.9 457.8 454.4 459.8 455.0 464.2 455.6 464.8 456.1 465.7 456.7 465.9 457.3 465.7 457.8 465.0 458.4 465.7 459.0 465.9 459.6 467.3 460.1 469.9 460.7 469.7 461.3 469.1 461.8 467.6 462.4 467.5 463.0 468.4 463.5 468.8 464.1 470.0 464.7 472.1 465.3 468.8 465.8 466.0 466.4 463.0 467.0 463.4 467.5 464.8 468.1 466.9 468.7 464.7 469.2 463.7 469.8 459.0 470.4 457.4 471.0 456.8 471.5 455.2 472.1 459.4 472.7 464.8 473.2 468.7 473.8 465.5 474.4 463.5 474.9 461.1 475.5 459.0 476.1 458.2 476.7 456.3 477.2 456.9 477.8 457.2 478.4 458.4 478.9 461.2 479.5 465.7 480.1 466.8 480.6 469.6 481.2 470.2 481.8 471.0 482.3 471.7 482.9 472.5 483.5 471.8 484.1 471.2 484.6 473.0 485.2 473.5 485.8 474.7 486.3 476.2 486.9 476.3 487.5 476.2 488.0 473.2 488.6 471.7 489.2 472.3 489.8 475.3 490.3 478.7 490.9 479.8 491.5 481.8 492.0 482.0 492.6 481.5 493.2 480.3 493.7 479.3 494.3 477.6 494.9 478.7 495.5 480.5 496.0 481.6 496.6 483.2 497.2 483.7 497.7 485.3 498.3 485.7 498.9 485.3 499.4 486.0 500.0 485.3 500.6 485.3 501.2 487.4 501.7 489.0 502.3 490.9 502.9 492.7 503.4 495.8 504.0 498.4 504.6 500.8 505.1 499.1 505.7 498.6 506.3 499.0 506.8 498.3 507.4 498.6 508.0 500.2 508.6 497.9 509.1 498.8 509.7 498.1 510.3 498.4 510.8 498.1 511.4 498.1 512.0 497.4 512.5 493.6 513.1 492.5 513.7 490.7 514.3 490.0 514.8 487.2 515.4 486.8 516.0 485.9 516.5 487.8 517.1 488.5 517.7 489.1 518.2 484.9 518.8 485.8 519.4 487.9 520.0 489.6 520.5 485.9 521.1 483.9 521.7 482.5 522.2 483.6 522.8 484.9 523.4 482.1 523.9 482.6 524.5 479.8 525.1 483.1 525.7 483.9 526.2 486.6 526.8 485.9 527.4 484.3 527.9 483.0 528.5 481.6 529.1 481.5 529.6 482.0 530.2 483.9 530.8 486.4 531.3 484.1 531.9 481.2 532.5 476.6 533.1 467.4 533.6 466.5 534.2 464.6 534.8 463.9 535.3 463.8 535.9 462.5 536.5 461.9 537.0 460.8 537.6 458.5 538.2 455.5 538.8 452.4 539.3 448.4 539.9 447.8 540.5 448.8 541.0 450.3 541.6 451.3 542.2 451.7 542.7 453.2 543.3 454.6 543.9 454.8 544.5 452.3 545.0 452.1 545.6 450.8 546.2 451.7 546.7 453.2 547.3 456.3 547.9 457.2 548.4 457.5 549.0 457.5 549.6 458.0 550.2 458.0 550.7 460.0 551.3 459.9 551.9 458.7 552.4 459.5 553.0 459.9 553.6 461.0 554.1 463.0 554.7 462.4 555.3 461.1 555.8 461.8 556.4 459.7 557.0 460.0 557.6 461.4 558.1 462.0 558.7 462.6 559.3 463.3 559.8 464.1 560.4 464.8 561.0 465.7 561.5 470.8 562.1 475.0 562.7 475.0 563.3 473.1 563.8 473.6 564.4 474.5 565.0 473.0 565.5 475.0 566.1 478.3 566.7 480.6 567.2 483.9 567.8 486.5 568.4 488.7 569.0 489.0 569.5 489.4 570.1 489.9 570.7 491.2 571.2 489.7 571.8 487.8 572.4 487.1 572.9 487.2 573.5 488.9 574.1 489.7 574.7 490.9 575.2 490.0 575.8 487.7 576.4 486.7 576.9 482.3 577.5 482.3 578.1 482.5 578.6 481.9 579.2 480.0 579.8 479.1 580.3 475.2 580.9 473.1 581.5 472.0 582.1 468.2 582.6 465.1 583.2 466.4 583.8 466.8 584.3 467.0 584.9 466.0 585.5 465.6 586.0 464.3 586.6 466.2 587.2 466.2 587.8 466.9 588.3 465.4 588.9 466.8 589.5 467.1 590.0 467.8 590.6 468.6 591.2 469.3 591.7 470.4 592.3 472.2 592.9 473.3 593.5 474.3 594.0 475.1 594.6 477.2 595.2 476.0 595.7 476.4 596.3 475.9 596.9 477.0 597.4 478.1 598.0 478.9 598.6 479.1 599.2 477.4 599.7 478.8 600.3 478.6 600.9 480.9 601.4 483.6 602.0 486.0" stroke="#000" stroke-width="4.8"/>
<path d="M32.8 500.3 33.4 499.7 33.9 499.3 34.5 499.5 35.1 500.4 35.6 500.6 36.2 501.4 36.8 501.7 37.4 500.6 37.9 500.3 38.5 500.6 39.1 501.7 39.6 504.1 40.2 504.8 40.8 506.7 41.3 505.7 41.9 504.7 42.5 503.9 43.1 500.4 43.6 501.9 44.2 502.3 44.8 504.3 45.3 504.3 45.9 505.2 46.5 506.0 47.0 506.7 47.6 506.7 48.2 505.7 48.8 505.2 49.3 505.3 49.9 502.5 50.5 496.2 51.0 492.3 51.6 491.5 52.2 491.8 52.7 490.8 53.3 490.6 53.9 488.0 54.5 487.7 55.0 486.4 55.6 486.4 56.2 486.0 56.7 484.2 57.3 483.6 57.9 483.3 58.4 485.2 59.0 486.2 59.6 486.4 60.1 487.9 60.7 488.6 61.3 490.0 61.9 486.7 62.4 486.1 63.0 485.8 63.6 483.2 64.1 483.2 64.7 484.1 65.3 484.6 65.8 484.2 66.4 485.4 67.0 485.8 67.6 487.0 68.1 486.9 68.7 488.4 69.3 488.2 69.8 489.4 70.4 490.1 71.0 491.7 71.5 492.3 72.1 492.5 72.7 493.1 73.3 493.1 73.8 492.5 74.4 490.6 75.0 488.9 75.5 486.3 76.1 487.4 76.7 488.1 77.2 490.7 77.8 495.0 78.4 497.2 79.0 500.7 79.5 503.2 80.1 505.0 80.7 503.5 81.2 505.1 81.8 506.3 82.4 508.5 82.9 511.3 83.5 511.6 84.1 511.7 84.6 514.2 85.2 514.8 85.8 518.2 86.4 521.0 86.9 522.8 87.5 517.9 88.1 512.3 88.6 511.7 89.2 511.1 89.8 510.7 90.3 512.7 90.9 514.7 91.5 517.2 92.1 517.6 92.6 513.3 93.2 510.1 93.8 498.6 94.3 490.4 94.9 489.7 95.5 489.3 96.0 486.9 96.6 486.6 97.2 484.3 97.8 482.7 98.3 480.9 98.9 478.1 99.5 474.5 100.0 470.9 100.6 471.0 101.2 470.5 101.7 469.6 102.3 469.9 102.9 469.3 103.5 468.1 104.0 467.0 104.6 466.2 105.2 466.2 105.7 466.3 106.3 466.7 106.9 465.8 107.4 464.8 108.0 464.4 108.6 463.1 109.1 462.7 109.7 463.2 110.3 464.1 110.9 465.6 111.4 465.3 112.0 466.3 112.6 466.8 113.1 466.2 113.7 467.1 114.3 467.1 114.8 467.1 115.4 467.8 116.0 467.9 116.6 468.1 117.1 469.1 117.7 470.4 118.3 471.5 118.8 470.7 119.4 471.0 120.0 469.9 120.5 471.1 121.1 473.4 121.7 475.2 122.3 484.5 122.8 491.3 123.4 490.7 124.0 491.3 124.5 489.9 125.1 488.1 125.7 486.7 126.2 488.3 126.8 487.4 127.4 489.6 128.0 495.2 128.5 499.9 129.1 499.9 129.7 497.8 130.2 495.7 130.8 490.8 131.4 486.4 131.9 485.8 132.5 486.9 133.1 487.8 133.6 486.4 134.2 486.3 134.8 484.8 135.4 482.5 135.9 482.8 136.5 480.0 137.1 479.8 137.6 479.5 138.2 480.4 138.8 479.4 139.3 480.2 139.9 480.1 140.5 479.6 141.1 477.7 141.6 477.0 142.2 476.5 142.8 472.8 143.3 470.5 143.9 468.8 144.5 469.6 145.0 470.0 145.6 471.5 146.2 471.7 146.8 472.0 147.3 470.6 147.9 467.8 148.5 468.0 149.0 467.8 149.6 466.0 150.2 466.2 150.7 467.5 151.3 467.6 151.9 469.0 152.5 470.6 153.0 471.0 153.6 470.1 154.2 468.1 154.7 467.4 155.3 465.9 155.9 466.9 156.4 467.8 157.0 467.6 157.6 469.7 158.1 470.8 158.7 472.8 159.3 473.6 159.9 476.6 160.4 476.3 161.0 476.5 161.6 476.2 162.1 476.0 162.7 478.0 163.3 479.7 163.8 479.0 164.4 479.9 165.0 479.9 165.6 480.1 166.1 482.0 166.7 482.7 167.3 482.1 167.8 481.8 168.4 481.6 169.0 482.0 169.5 481.9 170.1 483.1 170.7 484.6 171.3 486.2 171.8 487.0 172.4 488.4 173.0 489.0 173.5 490.0 174.1 489.2 174.7 488.5 175.2 490.1 175.8 493.4 176.4 495.2 177.0 497.1 177.5 497.5 178.1 496.9 178.7 497.4 179.2 497.7 179.8 498.7 180.4 499.3 180.9 500.0 181.5 500.9 182.1 503.2 182.6 504.2 183.2 506.0 183.8 508.8 184.4 509.0 184.9 508.3 185.5 509.3 186.1 510.0 186.6 508.9 187.2 511.0 187.8 511.8 188.3 511.9 188.9 512.5 189.5 513.9 190.1 514.7 190.6 516.5 191.2 516.8 191.8 515.0 192.3 514.4 192.9 514.3 193.5 513.9 194.0 513.1 194.6 513.0 195.2 513.8 195.8 513.0 196.3 512.9 196.9 511.7 197.5 511.6 198.0 512.7 198.6 511.7 199.2 513.8 199.7 514.7 200.3 516.8 200.9 516.6 201.5 514.6 202.0 513.7 202.6 513.9 203.2 515.6 203.7 518.0 204.3 519.0 204.9 517.7 205.4 516.4 206.0 515.1 206.6 514.0 207.1 512.5 207.7 513.2 208.3 513.2 208.9 512.7 209.4 514.2 210.0 515.5 210.6 513.9 211.1 514.9 211.7 516.8 212.3 515.6 212.8 515.7 213.4 514.7 214.0 513.9 214.6 512.7 215.1 512.5 215.7 512.6 216.3 512.5 216.8 513.9 217.4 513.6 218.0 513.9 218.5 514.2 219.1 514.3 219.7 514.8 220.3 515.5 220.8 514.7 221.4 514.0 222.0 513.4 222.5 513.7 223.1 513.8 223.7 512.9 224.2 508.3 224.8 504.9 225.4 504.0 226.0 501.3 226.5 500.6 227.1 498.0 227.7 497.5 228.2 495.2 228.8 492.7 229.4 492.5 229.9 489.7 230.5 484.5 231.1 481.5 231.6 479.4 232.2 476.7 232.8 477.2 233.4 476.5 233.9 475.7 234.5 476.5 235.1 475.8 235.6 475.2 236.2 475.7 236.8 475.0 237.3 475.4 237.9 474.2 238.5 474.3 239.1 472.6 239.6 472.9 240.2 471.9 240.8 472.4 241.3 471.0 241.9 470.3 242.5 469.7 243.0 466.5 243.6 466.9 244.2 468.2 244.8 468.1 245.3 468.4 245.9 467.4 246.5 467.5 247.0 466.2 247.6 463.6 248.2 461.4 248.7 460.0 249.3 459.0 249.9 458.0 250.5 455.6 251.0 457.4 251.6 459.3 252.2 461.0 252.7 462.1 253.3 463.4 253.9 464.2 254.4 468.5 255.0 475.1 255.6 476.2 256.1 476.6 256.7 477.1 257.3 477.6 257.9 477.6 258.4 477.2 259.0 482.2 259.6 487.5 260.1 491.7 260.7 490.8 261.3 490.3 261.8 489.0 262.4 489.8 263.0 489.7 263.6 490.5 264.1 491.5 264.7 491.4 265.3 491.7 265.8 490.9 266.4 490.3 267.0 488.4 267.5 487.3 268.1 485.5 268.7 484.4 269.3 484.8 269.8 484.0 270.4 482.2 271.0 481.7 271.5 473.5 272.1 471.2 272.7 469.6 273.2 468.1 273.8 464.6 274.4 462.9 275.0 459.9 275.5 458.0 276.1 456.9 276.7 455.7 277.2 455.7 277.8 455.6 278.4 457.1 278.9 458.1 279.5 457.4 280.1 456.5 280.6 456.1 281.2 456.0 281.8 454.8 282.4 455.4 282.9 455.8 283.5 456.3 284.1 457.5 284.6 458.0 285.2 456.5 285.8 455.9 286.3 456.8 286.9 457.0 287.5 458.4 288.1 457.8 288.6 458.5 289.2 461.2 289.8 462.4 290.3 461.1 290.9 459.7 291.5 459.5 292.0 458.1 292.6 459.3 293.2 459.2 293.8 461.3 294.3 461.4 294.9 463.1 295.5 464.4 296.0 463.8 296.6 464.9 297.2 466.1 297.7 467.5 298.3 470.1 298.9 476.1 299.5 480.8 300.0 483.0 300.6 482.5 301.2 482.7 301.7 482.9 302.3 485.2 302.9 487.4 303.4 489.6 304.0 493.9 304.6 497.8 305.1 499.6 305.7 499.2 306.3 499.3 306.9 499.5 307.4 496.7 308.0 496.2 308.6 496.8 309.1 495.9 309.7 493.9 310.3 490.4 310.8 488.4 311.4 487.1 312.0 484.7 312.6 484.4 313.1 482.8 313.7 480.8 314.3 478.4 314.8 476.5 315.4 476.0 316.0 476.4 316.5 475.9 317.1 475.4 317.7 474.8 318.3 473.7 318.8 470.7 319.4 468.4 320.0 467.5 320.5 465.4 321.1 464.0 321.7 463.5 322.2 464.0 322.8 464.9 323.4 466.0 324.0 465.5 324.5 465.7 325.1 465.4 325.7 464.2 326.2 462.2 326.8 462.3 327.4 460.9 327.9 461.1 328.5 461.0 329.1 460.1 329.7 460.3 330.2 458.5 330.8 457.8 331.4 457.1 331.9 456.9 332.5 456.7 333.1 455.8 333.6 457.1 334.2 456.5 334.8 457.8 335.3 459.6 335.9 460.9 336.5 462.3 337.1 462.5 337.6 463.7 338.2 464.4 338.8 465.7 339.3 465.5 339.9 462.7 340.5 463.1 341.0 459.5 341.6 458.8 342.2 458.5 342.8 457.8 343.3 457.2 343.9 457.9 344.5 459.9 345.0 459.6 345.6 459.0 346.2 457.4 346.7 454.7 347.3 454.0 347.9 453.1 348.5 452.9 349.0 451.4 349.6 450.3 350.2 448.5 350.7 447.7 351.3 447.1 351.9 444.5 352.4 443.7 353.0 442.1 353.6 440.1 354.2 439.0 354.7 439.1 355.3 437.9 355.9 436.8 356.4 435.3 357.0 436.2 357.6 434.6 358.1 435.8 358.7 437.6 359.3 438.6 359.8 438.5 360.4 435.8 361.0 433.9 361.6 430.1 362.1 428.9 362.7 425.3 363.3 423.2 363.8 422.4 364.4 420.0 365.0 419.3 365.5 418.0 366.1 415.1 366.7 414.2 367.3 413.7 367.8 414.8 368.4 416.1 369.0 416.4 369.5 416.9 370.1 414.4 370.7 411.5 371.2 410.2 371.8 410.2 372.4 409.7 373.0 411.0 373.5 411.4 374.1 413.7 374.7 413.9 375.2 414.4 375.8 414.8 376.4 412.8 376.9 412.5 377.5 414.7 378.1 413.9 378.7 413.9 379.2 412.1 379.8 411.2 380.4 411.1 380.9 411.6 381.5 413.0 382.1 414.5 382.6 413.6 383.2 410.7 383.8 408.0 384.3 403.5 384.9 399.7 385.5 397.5 386.1 398.5 386.6 397.9 387.2 398.5 387.8 400.8 388.3 400.7 388.9 399.5 389.5 398.5 390.0 396.7 390.6 396.0 391.2 395.1 391.8 392.7 392.3 391.4 392.9 391.7 393.5 391.9 394.0 394.4 394.6 396.0 395.2 396.4 395.7 397.2 396.3 395.6 396.9 395.7 397.5 393.7 398.0 392.3 398.6 391.8 399.2 391.0 399.7 392.7 400.3 392.6 400.9 396.0 401.4 395.9 402.0 395.8 402.6 393.2 403.2 389.6 403.7 391.2 404.3 392.2 404.9 392.7 405.4 391.2 406.0 388.8 406.6 388.1 407.1 387.7 407.7 388.2 408.3 385.3 408.8 385.9 409.4 386.3 410.0 388.5 410.6 389.7 411.1 394.8 411.7 399.1 412.3 402.5 412.8 402.0 413.4 402.1 414.0 404.0 414.5 403.6 415.1 403.4 415.7 402.7 416.3 404.4 416.8 406.8 417.4 409.8 418.0 412.0 418.5 416.4 419.1 418.0 419.7 419.6 420.2 420.8 420.8 422.2 421.4 422.5 422.0 423.7 422.5 422.8 423.1 424.5 423.7 427.8 424.2 427.8 424.8 428.8 425.4 428.0 425.9 426.5 426.5 426.7 427.1 426.8 427.7 428.8 428.2 431.2 428.8 433.2 429.4 435.7 429.9 436.8 430.5 438.0 431.1 435.8 431.6 436.1 432.2 433.2 432.8 433.2 433.3 436.8 433.9 439.8 434.5 443.3 435.1 447.2 435.6 451.1 436.2 454.5 436.8 459.1 437.3 461.2 437.9 462.7 438.5 464.3 439.0 463.2 439.6 463.9 440.2 465.4 440.8 467.2 441.3 467.1 441.9 469.6 442.5 471.6 443.0 473.8 443.6 473.5 444.2 471.4 444.7 466.6 445.3 467.0 445.9 467.6 446.5 468.1 447.0 467.5 447.6 468.7 448.2 467.8 448.7 468.2 449.3 470.2 449.9 472.2 450.4 471.2 451.0 466.7 451.6 460.7 452.2 459.4 452.7 457.5 453.3 456.4 453.9 457.8 454.4 459.8 455.0 464.2 455.6 464.8 456.1 465.7 456.7 465.9 457.3 465.7 457.8 465.0 458.4 465.7 459.0 465.9 459.6 467.3 460.1 469.9 460.7 469.7 461.3 469.1 461.8 467.6 462.4 467.5 463.0 468.4 463.5 468.8 464.1 470.0 464.7 472.1 465.3 468.8 465.8 466.0 466.4 463.0 467.0 463.4 467.5 464.8 468.1 466.9 468.7 464.7 469.2 463.7 469.8 459.0 470.4 457.4 471.0 456.8 471.5 455.2 472.1 459.4 472.7 464.8 473.2 468.7 473.8 465.5 474.4 463.5 474.9 461.1 475.5 459.0 476.1 458.2 476.7 456.3 477.2 456.9 477.8 457.2 478.4 458.4 478.9 461.2 479.5 465.7 480.1 466.8 480.6 469.6 481.2 470.2 481.8 471.0 482.3 471.7 482.9 472.5 483.5 471.8 484.1 471.2 484.6 473.0 485.2 473.5 485.8 474.7 486.3 476.2 486.9 476.3 487.5 476.2 488.0 473.2 488.6 471.7 489.2 472.3 489.8 475.3 490.3 478.7 490.9 479.8 491.5 481.8 492.0 482.0 492.6 481.5 493.2 480.3 493.7 479.3 494.3 477.6 494.9 478.7 495.5 480.5 496.0 481.6 496.6 483.2 497.2 483.7 497.7 485.3 498.3 485.7 498.9 485.3 499.4 486.0 500.0 485.3 500.6 485.3 501.2 487.4 501.7 489.0 502.3 490.9 502.9 492.7 503.4 495.8 504.0 498.4 504.6 500.8 505.1 499.1 505.7 498.6 506.3 499.0 506.8 498.3 507.4 498.6 508.0 500.2 508.6 497.9 509.1 498.8 509.7 498.1 510.3 498.4 510.8 498.1 511.4 498.1 512.0 497.4 512.5 493.6 513.1 492.5 513.7 490.7 514.3 490.0 514.8 487.2 515.4 486.8 516.0 485.9 516.5 487.8 517.1 488.5 517.7 489.1 518.2 484.9 518.8 485.8 519.4 487.9 520.0 489.6 520.5 485.9 521.1 483.9 521.7 482.5 522.2 483.6 522.8 484.9 523.4 482.1 523.9 482.6 524.5 479.8 525.1 483.1 525.7 483.9 526.2 486.6 526.8 485.9 527.4 484.3 527.9 483.0 528.5 481.6 529.1 481.5 529.6 482.0 530.2 483.9 530.8 486.4 531.3 484.1 531.9 481.2 532.5 476.6 533.1 467.4 533.6 466.5 534.2 464.6 534.8 463.9 535.3 463.8 535.9 462.5 536.5 461.9 537.0 460.8 537.6 458.5 538.2 455.5 538.8 452.4 539.3 448.4 539.9 447.8 540.5 448.8 541.0 450.3 541.6 451.3 542.2 451.7 542.7 453.2 543.3 454.6 543.9 454.8 544.5 452.3 545.0 452.1 545.6 450.8 546.2 451.7 546.7 453.2 547.3 456.3 547.9 457.2 548.4 457.5 549.0 457.5 549.6 458.0 550.2 458.0 550.7 460.0 551.3 459.9 551.9 458.7 552.4 459.5 553.0 459.9 553.6 461.0 554.1 463.0 554.7 462.4 555.3 461.1 555.8 461.8 556.4 459.7 557.0 460.0 557.6 461.4 558.1 462.0 558.7 462.6 559.3 463.3 559.8 464.1 560.4 464.8 561.0 465.7 561.5 470.8 562.1 475.0 562.7 475.0 563.3 473.1 563.8 473.6 564.4 474.5 565.0 473.0 565.5 475.0 566.1 478.3 566.7 480.6 567.2 483.9 567.8 486.5 568.4 488.7 569.0 489.0 569.5 489.4 570.1 489.9 570.7 491.2 571.2 489.7 571.8 487.8 572.4 487.1 572.9 487.2 573.5 488.9 574.1 489.7 574.7 490.9 575.2 490.0 575.8 487.7 576.4 486.7 576.9 482.3 577.5 482.3 578.1 482.5 578.6 481.9 579.2 480.0 579.8 479.1 580.3 475.2 580.9 473.1 581.5 472.0 582.1 468.2 582.6 465.1 583.2 466.4 583.8 466.8 584.3 467.0 584.9 466.0 585.5 465.6 586.0 464.3 586.6 466.2 587.2 466.2 587.8 466.9 588.3 465.4 588.9 466.8 589.5 467.1 590.0 467.8 590.6 468.6 591.2 469.3 591.7 470.4 592.3 472.2 592.9 473.3 593.5 474.3 594.0 475.1 594.6 477.2 595.2 476.0 595.7 476.4 596.3 475.9 596.9 477.0 597.4 478.1 598.0 478.9 598.6 479.1 599.2 477.4 599.7 478.8 600.3 478.6 600.9 480.9 601.4 483.6 602.0 486.0" stroke="#f00" stroke-width="2.6"/>
</g>
<line x1="33" y1="625.5" x2="603" y2="625.5" stroke="#222" stroke-width="1"/>
<line x1="33" y1="625" x2="33" y2="628.5" stroke="#222" stroke-width="1"/>
<text x="33" y="647.8" font-size="20" text-anchor="middle" fill="#000">0</text>
<line x1="147" y1="625" x2="147" y2="628.5" stroke="#222" stroke-width="1"/>
<text x="147" y="647.8" font-size="20" text-anchor="middle" fill="#000">2</text>
<line x1="261" y1="625" x2="261" y2="628.5" stroke="#222" stroke-width="1"/>
<text x="261" y="647.8" font-size="20" text-anchor="middle" fill="#000">4</text>
<line x1="375" y1="625" x2="375" y2="628.5" stroke="#222" stroke-width="1"/>
<text x="375" y="647.8" font-size="20" text-anchor="middle" fill="#000">6</text>
<line x1="489" y1="625" x2="489" y2="628.5" stroke="#222" stroke-width="1"/>
<text x="489" y="647.8" font-size="20" text-anchor="middle" fill="#000">8</text>
<line x1="603" y1="625" x2="603" y2="628.5" stroke="#222" stroke-width="1"/>
<text x="603" y="647.8" font-size="20" text-anchor="middle" textLength="23.5" lengthAdjust="spacingAndGlyphs" fill="#000">10</text>
<text x="268.6" y="675.4" font-size="25" textLength="96.6" lengthAdjust="spacingAndGlyphs" fill="#000">Time (s)</text>
<text transform="translate(22.5,319.4) rotate(-90)" font-size="22.2" textLength="262.3" lengthAdjust="spacingAndGlyphs" fill="#000">Normalized Value (a.u.)</text>
<text transform="translate(22.5,627.7) rotate(-90)" font-size="22.2" textLength="262" lengthAdjust="spacingAndGlyphs" fill="#000">Normalized Value (a.u.)</text>
<text x="2" y="32" font-size="42.5" font-weight="bold" fill="#000" stroke="#000" stroke-width="1.3">A</text>
<text x="627.2" y="32.3" font-size="42.5" font-weight="bold" fill="#000" stroke="#000" stroke-width="1.3">B</text>
<text x="626.3" y="377.1" font-size="42.5" font-weight="bold" fill="#000" stroke="#000" stroke-width="1.3">C</text>
<text x="299.3" y="52.6" font-size="25.5" font-weight="bold" fill="#bf00bf" stroke="#bf00bf" stroke-width="0.8">CH</text>
<text x="299.3" y="361" font-size="25.5" font-weight="bold" fill="#bf00bf" stroke="#bf00bf" stroke-width="0.8">CO</text>
<circle cx="488.8" cy="340.5" r="2" fill="#000"/>
<line x1="469" y1="369.8" x2="509.3" y2="369.8" stroke="#000" stroke-width="2.5"/>
<line x1="467.1" y1="399.8" x2="509.7" y2="399.8" stroke="#f00" stroke-width="2.5"/>
<text x="524.8" y="345.7" font-size="21.5" textLength="64.4" lengthAdjust="spacingAndGlyphs" fill="#000">Nodes</text>
<text x="524.8" y="376.4" font-size="21.5" textLength="62" lengthAdjust="spacingAndGlyphs" fill="#000">Edges</text>
<text x="525.2" y="406.4" font-size="21.5" textLength="67.5" lengthAdjust="spacingAndGlyphs" fill="#000">eSKNA</text>
<path d="M770.1 144.6Q724.7 138.0 681.3 152.9" stroke="#e8705a" stroke-opacity="0.3" stroke-width="0.7" fill="none"/>
<path d="M768.0 142.7Q723.2 135.6 681.3 152.9" stroke="#e8705a" stroke-opacity="0.3" stroke-width="0.7" fill="none"/>
<path d="M769.7 140.6Q723.0 128.7 681.3 152.9" stroke="#e8705a" stroke-opacity="0.3" stroke-width="0.7" fill="none"/>
<path d="M770.0 142.6Q723.8 143.3 681.8 162.4" stroke="#e8705a" stroke-opacity="0.3" stroke-width="0.7" fill="none"/>
<path d="M765.0 142.7Q719.0 134.1 681.8 162.4" stroke="#e8705a" stroke-opacity="0.3" stroke-width="0.7" fill="none"/>
<path d="M766.4 145.7Q720.5 135.8 681.8 162.4" stroke="#e8705a" stroke-opacity="0.3" stroke-width="0.7" fill="none"/>
<path d="M765.2 140.2Q717.7 136.2 685.4 171.2" stroke="#e8705a" stroke-opacity="0.3" stroke-width="0.7" fill="none"/>
<path d="M770.6 142.3Q722.6 140.8 685.4 171.2" stroke="#e8705a" stroke-opacity="0.3" stroke-width="0.7" fill="none"/>
<path d="M767.5 140.2Q722.3 144.6 685.4 171.2" stroke="#e8705a" stroke-opacity="0.3" stroke-width="0.7" fill="none"/>
<path d="M767.6 143.0Q725.3 143.7 689.2 165.7" stroke="#e8705a" stroke-opacity="0.3" stroke-width="0.7" fill="none"/>
<path d="M766.4 141.3Q724.4 142.9 689.2 165.7" stroke="#e8705a" stroke-opacity="0.3" stroke-width="0.7" fill="none"/>
<path d="M766.7 140.1Q723.5 139.5 689.2 165.7" stroke="#e8705a" stroke-opacity="0.3" stroke-width="0.7" fill="none"/>
<path d="M768.3 143.9Q725.8 138.0 694.1 166.8" stroke="#e8705a" stroke-opacity="0.3" stroke-width="0.7" fill="none"/>
<path d="M771.0 145.2Q729.7 146.0 694.1 166.8" stroke="#e8705a" stroke-opacity="0.3" stroke-width="0.7" fill="none"/>
<path d="M767.0 144.3Q727.9 146.9 694.1 166.8" stroke="#e8705a" stroke-opacity="0.3" stroke-width="0.7" fill="none"/>
<path d="M770.6 142.5Q728.6 141.1 698.5 170.6" stroke="#e8705a" stroke-opacity="0.3" stroke-width="0.7" fill="none"/>
<path d="M769.0 141.8Q727.1 139.8 698.5 170.6" stroke="#e8705a" stroke-opacity="0.3" stroke-width="0.7" fill="none"/>
<path d="M770.3 145.1Q729.4 143.9 698.5 170.6" stroke="#e8705a" stroke-opacity="0.3" stroke-width="0.7" fill="none"/>
<path d="M768.5 140.2Q736.2 145.7 714.9 170.6" stroke="#e8705a" stroke-opacity="0.3" stroke-width="0.7" fill="none"/>
<path d="M769.8 142.5Q738.4 148.9 714.9 170.6" stroke="#e8705a" stroke-opacity="0.3" stroke-width="0.7" fill="none"/>
<path d="M768.3 144.2Q738.2 150.6 714.9 170.6" stroke="#e8705a" stroke-opacity="0.3" stroke-width="0.7" fill="none"/>
<path d="M767.2 142.6Q733.4 151.1 715.5 181.0" stroke="#e8705a" stroke-opacity="0.3" stroke-width="0.7" fill="none"/>
<path d="M769.7 143.1Q735.7 152.2 715.5 181.0" stroke="#e8705a" stroke-opacity="0.3" stroke-width="0.7" fill="none"/>
<path d="M767.9 140.2Q735.1 152.0 715.5 181.0" stroke="#e8705a" stroke-opacity="0.3" stroke-width="0.7" fill="none"/>
<path d="M769.2 145.9Q747.3 146.4 727.5 155.9" stroke="#e8705a" stroke-opacity="0.3" stroke-width="0.7" fill="none"/>
<path d="M767.4 141.0Q744.5 140.7 727.5 155.9" stroke="#e8705a" stroke-opacity="0.3" stroke-width="0.7" fill="none"/>
<path d="M770.9 144.6Q747.2 142.4 727.5 155.9" stroke="#e8705a" stroke-opacity="0.3" stroke-width="0.7" fill="none"/>
<path d="M770.2 141.4Q746.9 141.9 729.7 157.5" stroke="#e8705a" stroke-opacity="0.3" stroke-width="0.7" fill="none"/>
<path d="M770.7 143.5Q747.7 143.0 729.7 157.5" stroke="#e8705a" stroke-opacity="0.3" stroke-width="0.7" fill="none"/>
<path d="M766.6 143.3Q745.7 144.0 729.7 157.5" stroke="#e8705a" stroke-opacity="0.3" stroke-width="0.7" fill="none"/>
<path d="M765.0 144.7Q753.2 141.9 743.9 149.8" stroke="#e8705a" stroke-opacity="0.3" stroke-width="0.7" fill="none"/>
<path d="M770.3 144.4Q755.9 141.0 743.9 149.8" stroke="#e8705a" stroke-opacity="0.3" stroke-width="0.7" fill="none"/>
<path d="M768.1 143.4Q754.5 141.0 743.9 149.8" stroke="#e8705a" stroke-opacity="0.3" stroke-width="0.7" fill="none"/>
<path d="M765.3 145.2Q751.1 147.6 741.2 158.0" stroke="#e8705a" stroke-opacity="0.3" stroke-width="0.7" fill="none"/>
<path d="M766.2 143.0Q750.8 145.7 741.2 158.0" stroke="#e8705a" stroke-opacity="0.3" stroke-width="0.7" fill="none"/>
<path d="M767.1 142.1Q751.3 145.4 741.2 158.0" stroke="#e8705a" stroke-opacity="0.3" stroke-width="0.7" fill="none"/>
<path d="M768.7 143.7Q751.1 149.7 741.7 165.7" stroke="#e8705a" stroke-opacity="0.3" stroke-width="0.7" fill="none"/>
<path d="M765.2 141.4Q749.2 149.5 741.7 165.7" stroke="#e8705a" stroke-opacity="0.3" stroke-width="0.7" fill="none"/>
<path d="M768.5 145.2Q752.5 152.0 741.7 165.7" stroke="#e8705a" stroke-opacity="0.3" stroke-width="0.7" fill="none"/>
<path d="M769.8 144.9Q761.3 146.6 757.0 154.2" stroke="#e8705a" stroke-opacity="0.3" stroke-width="0.7" fill="none"/>
<path d="M770.1 144.0Q762.1 147.3 757.0 154.2" stroke="#e8705a" stroke-opacity="0.3" stroke-width="0.7" fill="none"/>
<path d="M765.1 140.1Q759.5 146.2 757.0 154.2" stroke="#e8705a" stroke-opacity="0.3" stroke-width="0.7" fill="none"/>
<path d="M766.5 140.7Q755.7 154.5 758.7 171.7" stroke="#e8705a" stroke-opacity="0.3" stroke-width="0.7" fill="none"/>
<path d="M767.1 140.4Q756.6 154.4 758.7 171.7" stroke="#e8705a" stroke-opacity="0.3" stroke-width="0.7" fill="none"/>
<path d="M768.2 141.0Q759.6 155.2 758.7 171.7" stroke="#e8705a" stroke-opacity="0.3" stroke-width="0.7" fill="none"/>
<path d="M769.3 142.7Q761.3 155.5 761.4 170.6" stroke="#e8705a" stroke-opacity="0.3" stroke-width="0.7" fill="none"/>
<path d="M767.8 140.1Q760.0 154.4 761.4 170.6" stroke="#e8705a" stroke-opacity="0.3" stroke-width="0.7" fill="none"/>
<path d="M767.5 141.1Q759.7 154.9 761.4 170.6" stroke="#e8705a" stroke-opacity="0.3" stroke-width="0.7" fill="none"/>
<path d="M770.4 143.1Q761.7 158.7 760.8 176.6" stroke="#e8705a" stroke-opacity="0.3" stroke-width="0.7" fill="none"/>
<path d="M768.6 144.9Q760.5 159.7 760.8 176.6" stroke="#e8705a" stroke-opacity="0.3" stroke-width="0.7" fill="none"/>
<path d="M765.1 140.9Q759.3 158.3 760.8 176.6" stroke="#e8705a" stroke-opacity="0.3" stroke-width="0.7" fill="none"/>
<path d="M766.0 144.2Q747.4 157.1 743.9 179.4" stroke="#e8705a" stroke-opacity="0.3" stroke-width="0.7" fill="none"/>
<path d="M768.3 141.3Q748.1 155.3 743.9 179.4" stroke="#e8705a" stroke-opacity="0.3" stroke-width="0.7" fill="none"/>
<path d="M769.8 143.1Q747.5 154.6 743.9 179.4" stroke="#e8705a" stroke-opacity="0.3" stroke-width="0.7" fill="none"/>
<path d="M768.9 142.4Q745.0 161.0 733.8 189.2" stroke="#e8705a" stroke-opacity="0.3" stroke-width="0.7" fill="none"/>
<path d="M766.9 143.8Q741.6 160.1 733.8 189.2" stroke="#e8705a" stroke-opacity="0.3" stroke-width="0.7" fill="none"/>
<path d="M766.8 145.8Q745.5 163.9 733.8 189.2" stroke="#e8705a" stroke-opacity="0.3" stroke-width="0.7" fill="none"/>
<path d="M766.8 145.2Q747.1 169.5 753.7 200.1" stroke="#e8705a" stroke-opacity="0.3" stroke-width="0.7" fill="none"/>
<path d="M770.6 144.5Q753.8 169.7 753.7 200.1" stroke="#e8705a" stroke-opacity="0.3" stroke-width="0.7" fill="none"/>
<path d="M766.5 140.1Q750.1 167.9 753.7 200.1" stroke="#e8705a" stroke-opacity="0.3" stroke-width="0.7" fill="none"/>
<path d="M765.2 144.9Q736.4 166.1 734.9 201.8" stroke="#e8705a" stroke-opacity="0.3" stroke-width="0.7" fill="none"/>
<path d="M768.4 141.0Q736.2 162.9 734.9 201.8" stroke="#e8705a" stroke-opacity="0.3" stroke-width="0.7" fill="none"/>
<path d="M770.8 144.2Q739.1 164.4 734.9 201.8" stroke="#e8705a" stroke-opacity="0.3" stroke-width="0.7" fill="none"/>
<path d="M767.3 142.1Q728.3 163.6 712.2 205.1" stroke="#e8705a" stroke-opacity="0.3" stroke-width="0.7" fill="none"/>
<path d="M769.0 142.6Q732.3 166.3 712.2 205.1" stroke="#e8705a" stroke-opacity="0.3" stroke-width="0.7" fill="none"/>
<path d="M765.6 144.0Q730.9 167.5 712.2 205.1" stroke="#e8705a" stroke-opacity="0.3" stroke-width="0.7" fill="none"/>
<path d="M768.0 142.0Q730.2 168.1 712.7 210.5" stroke="#e8705a" stroke-opacity="0.3" stroke-width="0.7" fill="none"/>
<path d="M770.4 140.1Q724.7 161.5 712.7 210.5" stroke="#e8705a" stroke-opacity="0.3" stroke-width="0.7" fill="none"/>
<path d="M767.0 145.9Q731.3 171.0 712.7 210.5" stroke="#e8705a" stroke-opacity="0.3" stroke-width="0.7" fill="none"/>
<path d="M767.0 141.3Q723.2 137.0 691.0 167.0" stroke="#e8705a" stroke-opacity="0.3" stroke-width="0.7" fill="none"/>
<path d="M770.0 145.6Q726.1 139.9 691.0 167.0" stroke="#e8705a" stroke-opacity="0.3" stroke-width="0.7" fill="none"/>
<path d="M770.3 144.1Q727.1 143.3 691.0 167.0" stroke="#e8705a" stroke-opacity="0.3" stroke-width="0.7" fill="none"/>
<path d="M772.7 145.3Q776.4 162.5 775.4 180.0" stroke="#f8ee98" stroke-opacity="0.6" stroke-width="1.4" fill="none"/>
<path d="M772.0 149.4Q780.0 164.0 775.4 180.0" stroke="#f8ee98" stroke-opacity="0.6" stroke-width="1.4" fill="none"/>
<path d="M768.8 148.6Q777.5 167.0 777.4 187.2" stroke="#f8ee98" stroke-opacity="0.6" stroke-width="1.4" fill="none"/>
<path d="M770.5 146.0Q779.0 165.7 777.4 187.2" stroke="#f8ee98" stroke-opacity="0.6" stroke-width="1.4" fill="none"/>
<path d="M769.4 149.3Q777.7 168.8 773.9 189.6" stroke="#f8ee98" stroke-opacity="0.6" stroke-width="1.4" fill="none"/>
<path d="M772.7 148.3Q775.8 168.9 773.9 189.6" stroke="#f8ee98" stroke-opacity="0.6" stroke-width="1.4" fill="none"/>
<path d="M768.6 145.2Q781.9 167.7 780.7 193.8" stroke="#f8ee98" stroke-opacity="0.6" stroke-width="1.4" fill="none"/>
<path d="M769.8 146.9Q785.4 168.0 780.7 193.8" stroke="#f8ee98" stroke-opacity="0.6" stroke-width="1.4" fill="none"/>
<path d="M772.4 148.2Q785.3 169.9 783.3 195.1" stroke="#f8ee98" stroke-opacity="0.6" stroke-width="1.4" fill="none"/>
<path d="M768.4 145.1Q782.4 168.2 783.3 195.1" stroke="#f8ee98" stroke-opacity="0.6" stroke-width="1.4" fill="none"/>
<path d="M767.8 148.1Q783.6 171.5 782.0 199.7" stroke="#f8ee98" stroke-opacity="0.6" stroke-width="1.4" fill="none"/>
<path d="M771.0 146.1Q779.8 172.2 782.0 199.7" stroke="#f8ee98" stroke-opacity="0.6" stroke-width="1.4" fill="none"/>
<path d="M771.8 149.4Q786.5 175.9 792.5 205.6" stroke="#f8ee98" stroke-opacity="0.6" stroke-width="1.4" fill="none"/>
<path d="M771.6 149.7Q786.2 176.1 792.5 205.6" stroke="#f8ee98" stroke-opacity="0.6" stroke-width="1.4" fill="none"/>
<path d="M772.9 150.8Q792.8 176.4 793.8 208.9" stroke="#f8ee98" stroke-opacity="0.6" stroke-width="1.4" fill="none"/>
<path d="M771.5 149.3Q794.2 174.8 793.8 208.9" stroke="#f8ee98" stroke-opacity="0.6" stroke-width="1.4" fill="none"/>
<path d="M770.2 147.9Q790.3 176.6 791.8 211.5" stroke="#f8ee98" stroke-opacity="0.6" stroke-width="1.4" fill="none"/>
<path d="M770.0 150.0Q785.3 179.2 791.8 211.5" stroke="#f8ee98" stroke-opacity="0.6" stroke-width="1.4" fill="none"/>
<path d="M770.2 150.1Q767.4 186.9 751.6 220.3" stroke="#c87070" stroke-opacity="0.5" stroke-width="1.2" fill="none"/>
<path d="M769.7 148.5Q769.6 185.8 753.0 219.3" stroke="#c87070" stroke-opacity="0.5" stroke-width="1.2" fill="none"/>
<path d="M772.5 149.9Q769.2 186.7 753.0 219.9" stroke="#c87070" stroke-opacity="0.5" stroke-width="1.2" fill="none"/>
<path d="M768.3 144.2Q758.8 182.8 750.5 221.7" stroke="#d08070" stroke-opacity="0.3" stroke-width="0.6" fill="none"/>
<path d="M768.8 142.4Q754.3 180.8 750.5 221.7" stroke="#d08070" stroke-opacity="0.3" stroke-width="0.6" fill="none"/>
<path d="M770.0 143.6Q764.5 182.2 754.7 220.0" stroke="#d08070" stroke-opacity="0.3" stroke-width="0.6" fill="none"/>
<path d="M771.0 144.8Q762.3 182.3 754.7 220.0" stroke="#d08070" stroke-opacity="0.3" stroke-width="0.6" fill="none"/>
<path d="M767.9 145.8Q749.9 184.7 748.9 227.6" stroke="#d08070" stroke-opacity="0.3" stroke-width="0.6" fill="none"/>
<path d="M768.8 147.2Q759.3 187.5 748.9 227.6" stroke="#d08070" stroke-opacity="0.3" stroke-width="0.6" fill="none"/>
<path d="M769.4 146.0Q750.5 189.9 741.3 236.8" stroke="#d08070" stroke-opacity="0.3" stroke-width="0.6" fill="none"/>
<path d="M769.5 145.5Q757.2 191.7 741.3 236.8" stroke="#d08070" stroke-opacity="0.3" stroke-width="0.6" fill="none"/>
<path d="M765.2 147.2Q755.8 191.3 749.7 236.0" stroke="#d08070" stroke-opacity="0.3" stroke-width="0.6" fill="none"/>
<path d="M769.3 147.3Q755.5 190.7 749.7 236.0" stroke="#d08070" stroke-opacity="0.3" stroke-width="0.6" fill="none"/>
<path d="M770.5 144.4Q762.7 186.3 769.0 228.4" stroke="#d08070" stroke-opacity="0.3" stroke-width="0.6" fill="none"/>
<path d="M767.7 147.6Q760.4 188.1 769.0 228.4" stroke="#d08070" stroke-opacity="0.3" stroke-width="0.6" fill="none"/>
<path d="M767.6 144.4Q778.4 157.7 777.4 174.8" stroke="#e88060" stroke-opacity="0.35" stroke-width="0.8" fill="none"/>
<path d="M767.4 144.4Q778.6 157.6 777.4 174.8" stroke="#e88060" stroke-opacity="0.35" stroke-width="0.8" fill="none"/>
<path d="M771.8 146.6Q776.9 160.2 777.4 174.8" stroke="#e88060" stroke-opacity="0.35" stroke-width="0.8" fill="none"/>
<path d="M770.2 143.7Q787.5 153.3 793.8 172.1" stroke="#e88060" stroke-opacity="0.35" stroke-width="0.8" fill="none"/>
<path d="M767.6 143.3Q786.5 152.4 793.8 172.1" stroke="#e88060" stroke-opacity="0.35" stroke-width="0.8" fill="none"/>
<path d="M772.0 146.8Q784.9 157.7 793.8 172.1" stroke="#e88060" stroke-opacity="0.35" stroke-width="0.8" fill="none"/>
<path d="M768.2 143.9Q786.2 154.4 798.7 171.2" stroke="#e88060" stroke-opacity="0.35" stroke-width="0.8" fill="none"/>
<path d="M771.4 147.1Q788.2 155.6 798.7 171.2" stroke="#e88060" stroke-opacity="0.35" stroke-width="0.8" fill="none"/>
<path d="M767.5 145.6Q785.4 155.6 798.7 171.2" stroke="#e88060" stroke-opacity="0.35" stroke-width="0.8" fill="none"/>
<path d="M770.0 143.1Q790.6 154.4 803.5 174.0" stroke="#e88060" stroke-opacity="0.35" stroke-width="0.8" fill="none"/>
<path d="M767.5 147.6Q789.6 155.3 803.5 174.0" stroke="#e88060" stroke-opacity="0.35" stroke-width="0.8" fill="none"/>
<path d="M770.3 143.8Q789.7 155.9 803.5 174.0" stroke="#e88060" stroke-opacity="0.35" stroke-width="0.8" fill="none"/>
<path d="M770.4 147.3Q788.2 160.5 800.6 178.9" stroke="#e88060" stroke-opacity="0.35" stroke-width="0.8" fill="none"/>
<path d="M770.1 144.5Q788.6 158.8 800.6 178.9" stroke="#e88060" stroke-opacity="0.35" stroke-width="0.8" fill="none"/>
<path d="M769.6 143.0Q789.9 156.8 800.6 178.9" stroke="#e88060" stroke-opacity="0.35" stroke-width="0.8" fill="none"/>
<path d="M771.9 142.3Q798.2 155.0 810.2 181.7" stroke="#e88060" stroke-opacity="0.35" stroke-width="0.8" fill="none"/>
<path d="M770.8 143.7Q798.9 153.9 810.2 181.7" stroke="#e88060" stroke-opacity="0.35" stroke-width="0.8" fill="none"/>
<path d="M769.8 144.1Q795.5 157.0 810.2 181.7" stroke="#e88060" stroke-opacity="0.35" stroke-width="0.8" fill="none"/>
<path d="M768.2 144.5Q791.8 163.6 809.2 188.5" stroke="#e88060" stroke-opacity="0.35" stroke-width="0.8" fill="none"/>
<path d="M770.8 143.7Q798.9 158.5 809.2 188.5" stroke="#e88060" stroke-opacity="0.35" stroke-width="0.8" fill="none"/>
<path d="M771.5 143.9Q798.1 159.7 809.2 188.5" stroke="#e88060" stroke-opacity="0.35" stroke-width="0.8" fill="none"/>
<path d="M772.4 142.6Q799.5 160.8 813.1 190.4" stroke="#e88060" stroke-opacity="0.35" stroke-width="0.8" fill="none"/>
<path d="M768.4 146.6Q800.4 158.6 813.1 190.4" stroke="#e88060" stroke-opacity="0.35" stroke-width="0.8" fill="none"/>
<path d="M768.4 144.0Q796.9 161.3 813.1 190.4" stroke="#e88060" stroke-opacity="0.35" stroke-width="0.8" fill="none"/>
<path d="M769.5 146.8Q791.2 141.9 811.0 152.0" stroke="#e89080" stroke-opacity="0.3" stroke-width="0.6" fill="none"/>
<path d="M769.4 147.5Q790.8 144.4 811.0 152.0" stroke="#e89080" stroke-opacity="0.3" stroke-width="0.6" fill="none"/>
<path d="M767.8 147.7Q790.6 137.9 811.0 152.0" stroke="#e89080" stroke-opacity="0.3" stroke-width="0.6" fill="none"/>
<path d="M770.4 142.7Q817.1 170.9 835.8 222.2" stroke="#e89080" stroke-opacity="0.3" stroke-width="0.6" fill="none"/>
<path d="M766.5 145.3Q816.9 169.5 835.8 222.2" stroke="#e89080" stroke-opacity="0.3" stroke-width="0.6" fill="none"/>
<path d="M765.1 143.3Q815.3 169.4 835.8 222.2" stroke="#e89080" stroke-opacity="0.3" stroke-width="0.6" fill="none"/>
<path d="M770.5 146.6Q812.1 129.1 852.0 150.0" stroke="#e89080" stroke-opacity="0.3" stroke-width="0.6" fill="none"/>
<path d="M769.8 142.8Q812.7 125.5 852.0 150.0" stroke="#e89080" stroke-opacity="0.3" stroke-width="0.6" fill="none"/>
<path d="M765.8 142.0Q810.3 130.4 852.0 150.0" stroke="#e89080" stroke-opacity="0.3" stroke-width="0.6" fill="none"/>
<path d="M766.3 143.3Q789.6 150.1 806.0 168.0" stroke="#e89080" stroke-opacity="0.3" stroke-width="0.6" fill="none"/>
<path d="M770.2 143.7Q791.1 151.5 806.0 168.0" stroke="#e89080" stroke-opacity="0.3" stroke-width="0.6" fill="none"/>
<path d="M768.2 146.1Q789.9 152.3 806.0 168.0" stroke="#e89080" stroke-opacity="0.3" stroke-width="0.6" fill="none"/>
<path d="M838.9 79.0Q838.5 138.8 872.0 188.3" stroke="#d82020" stroke-opacity="0.45" stroke-width="0.8" fill="none"/>
<path d="M838.5 77.9Q835.9 139.4 872.8 188.6" stroke="#d82020" stroke-opacity="0.45" stroke-width="0.8" fill="none"/>
<path d="M837.3 78.9Q836.2 139.9 872.7 188.7" stroke="#d82020" stroke-opacity="0.45" stroke-width="0.8" fill="none"/>
<path d="M838.5 77.1Q837.0 139.0 872.2 189.9" stroke="#d82020" stroke-opacity="0.45" stroke-width="0.8" fill="none"/>
<path d="M838.9 78.6Q838.6 138.9 873.0 188.5" stroke="#d82020" stroke-opacity="0.45" stroke-width="0.8" fill="none"/>
<path d="M838.9 78.9Q837.8 138.6 871.8 187.8" stroke="#d82020" stroke-opacity="0.45" stroke-width="0.8" fill="none"/>
<path d="M838.4 77.4Q837.9 138.9 873.4 189.3" stroke="#d82020" stroke-opacity="0.45" stroke-width="0.8" fill="none"/>
<path d="M841.3 78.6Q835.1 145.8 860.6 208.3" stroke="#e04040" stroke-opacity="0.2" stroke-width="0.5" fill="none"/>
<path d="M841.5 78.2Q835.7 145.3 860.0 208.1" stroke="#e04040" stroke-opacity="0.2" stroke-width="0.5" fill="none"/>
<path d="M840.3 78.4Q837.0 146.7 859.7 211.3" stroke="#e04040" stroke-opacity="0.2" stroke-width="0.5" fill="none"/>
<path d="M840.9 80.5Q836.6 147.8 861.8 210.3" stroke="#e04040" stroke-opacity="0.2" stroke-width="0.5" fill="none"/>
<path d="M843.9 78.2Q839.7 145.4 861.4 209.2" stroke="#e04040" stroke-opacity="0.2" stroke-width="0.5" fill="none"/>
<path d="M843.9 71.8Q874.8 76.3 889.5 103.8" stroke="#dd2a2a" stroke-opacity="0.35" stroke-width="0.7" fill="none"/>
<path d="M844.0 72.0Q874.0 77.5 889.8 103.6" stroke="#dd2a2a" stroke-opacity="0.35" stroke-width="0.7" fill="none"/>
<path d="M844.8 70.0Q876.0 75.8 889.8 104.3" stroke="#dd2a2a" stroke-opacity="0.35" stroke-width="0.7" fill="none"/>
<path d="M843.9 68.1Q873.5 76.7 890.1 102.6" stroke="#dd2a2a" stroke-opacity="0.35" stroke-width="0.7" fill="none"/>
<path d="M844.5 68.5Q876.6 75.1 890.0 105.0" stroke="#dd2a2a" stroke-opacity="0.35" stroke-width="0.7" fill="none"/>
<path d="M845.5 69.5Q875.3 76.5 891.6 102.4" stroke="#dd2a2a" stroke-opacity="0.35" stroke-width="0.7" fill="none"/>
<path d="M845.0 70.6Q876.9 75.1 892.6 103.3" stroke="#dd2a2a" stroke-opacity="0.35" stroke-width="0.7" fill="none"/>
<path d="M843.3 71.8Q872.6 78.0 891.0 101.8" stroke="#dd2a2a" stroke-opacity="0.35" stroke-width="0.7" fill="none"/>
<path d="M883.9 120.5Q883.0 155.8 872.6 189.5" stroke="#dd2a2a" stroke-opacity="0.35" stroke-width="0.6" fill="none"/>
<path d="M884.0 122.6Q880.3 155.8 872.3 188.2" stroke="#dd2a2a" stroke-opacity="0.35" stroke-width="0.6" fill="none"/>
<path d="M882.2 120.5Q880.3 154.4 874.8 187.8" stroke="#dd2a2a" stroke-opacity="0.35" stroke-width="0.6" fill="none"/>
<path d="M882.6 120.0Q878.5 154.1 872.4 188.0" stroke="#dd2a2a" stroke-opacity="0.35" stroke-width="0.6" fill="none"/>
<path d="M884.4 122.1Q883.2 156.2 873.5 189.0" stroke="#dd2a2a" stroke-opacity="0.35" stroke-width="0.6" fill="none"/>
<path d="M883.2 121.7Q883.3 155.2 874.9 187.7" stroke="#dd2a2a" stroke-opacity="0.35" stroke-width="0.6" fill="none"/>
<path d="M883.1 119.8Q882.1 155.1 873.1 189.2" stroke="#dd2a2a" stroke-opacity="0.35" stroke-width="0.6" fill="none"/>
<path d="M885.5 122.5Q881.5 155.6 872.2 187.5" stroke="#dd2a2a" stroke-opacity="0.35" stroke-width="0.6" fill="none"/>
<path d="M893.6 118.8Q900.9 156.0 885.8 190.8" stroke="#e04040" stroke-opacity="0.25" stroke-width="0.5" fill="none"/>
<path d="M894.3 117.3Q899.9 156.9 883.5 193.3" stroke="#e04040" stroke-opacity="0.25" stroke-width="0.5" fill="none"/>
<path d="M894.6 118.0Q897.1 157.2 882.3 193.7" stroke="#e04040" stroke-opacity="0.25" stroke-width="0.5" fill="none"/>
<path d="M891.3 119.4Q896.1 156.8 885.1 193.0" stroke="#e04040" stroke-opacity="0.25" stroke-width="0.5" fill="none"/>
<path d="M895.0 116.0Q901.1 155.6 885.9 192.6" stroke="#e04040" stroke-opacity="0.25" stroke-width="0.5" fill="none"/>
<path d="M846.4 104.6Q867.0 111.1 888.5 110.2" stroke="#e05050" stroke-opacity="0.25" stroke-width="0.5" fill="none"/>
<path d="M847.9 105.9Q866.8 110.1 886.0 112.1" stroke="#e05050" stroke-opacity="0.25" stroke-width="0.5" fill="none"/>
<path d="M844.5 107.7Q867.6 112.8 891.0 109.3" stroke="#e05050" stroke-opacity="0.25" stroke-width="0.5" fill="none"/>
<path d="M846.6 104.3Q866.3 110.5 886.7 113.0" stroke="#e05050" stroke-opacity="0.25" stroke-width="0.5" fill="none"/>
<path d="M847.1 106.0Q865.6 114.0 885.8 113.6" stroke="#e05050" stroke-opacity="0.25" stroke-width="0.5" fill="none"/>
<path d="M848.8 105.7Q867.0 107.6 885.3 109.0" stroke="#e05050" stroke-opacity="0.25" stroke-width="0.5" fill="none"/>
<path d="M848.6 103.8Q867.6 110.2 887.2 114.4" stroke="#e05050" stroke-opacity="0.25" stroke-width="0.5" fill="none"/>
<path d="M846.3 104.6Q865.1 112.1 885.4 112.5" stroke="#e05050" stroke-opacity="0.25" stroke-width="0.5" fill="none"/>
<path d="M847.7 89.8Q866.5 104.2 885.6 118.1" stroke="#e05050" stroke-opacity="0.2" stroke-width="0.5" fill="none"/>
<path d="M849.8 91.5Q864.0 108.5 883.3 119.4" stroke="#e05050" stroke-opacity="0.2" stroke-width="0.5" fill="none"/>
<path d="M847.8 90.1Q864.9 104.3 882.2 118.4" stroke="#e05050" stroke-opacity="0.2" stroke-width="0.5" fill="none"/>
<path d="M852.9 90.9Q867.8 107.8 887.9 117.8" stroke="#e05050" stroke-opacity="0.2" stroke-width="0.5" fill="none"/>
<path d="M850.0 93.1Q867.5 106.5 886.0 118.6" stroke="#e05050" stroke-opacity="0.2" stroke-width="0.5" fill="none"/>
<path d="M805.7 176.4Q839.3 187.2 874.5 189.8" stroke="#e05050" stroke-opacity="0.3" stroke-width="0.6" fill="none"/>
<path d="M806.5 174.1Q837.9 187.9 872.1 190.8" stroke="#e05050" stroke-opacity="0.3" stroke-width="0.6" fill="none"/>
<path d="M803.6 174.8Q835.3 188.3 869.5 191.9" stroke="#e05050" stroke-opacity="0.3" stroke-width="0.6" fill="none"/>
<path d="M803.3 178.9Q838.2 189.9 874.8 190.9" stroke="#e05050" stroke-opacity="0.3" stroke-width="0.6" fill="none"/>
<path d="M803.9 173.1Q837.6 182.6 872.2 187.4" stroke="#e05050" stroke-opacity="0.3" stroke-width="0.6" fill="none"/>
<path d="M804.5 173.2Q836.7 187.3 871.8 189.6" stroke="#e05050" stroke-opacity="0.3" stroke-width="0.6" fill="none"/>
<path d="M806.1 176.8Q838.3 187.6 872.0 191.0" stroke="#e05050" stroke-opacity="0.3" stroke-width="0.6" fill="none"/>
<path d="M804.7 179.0Q838.8 190.9 875.0 192.0" stroke="#e05050" stroke-opacity="0.3" stroke-width="0.6" fill="none"/>
<path d="M789.8 160.9Q821.9 188.9 859.0 209.9" stroke="#e06060" stroke-opacity="0.2" stroke-width="0.5" fill="none"/>
<path d="M789.2 158.6Q818.6 193.7 859.9 213.1" stroke="#e06060" stroke-opacity="0.2" stroke-width="0.5" fill="none"/>
<path d="M790.3 161.0Q819.8 190.6 855.9 211.6" stroke="#e06060" stroke-opacity="0.2" stroke-width="0.5" fill="none"/>
<path d="M792.4 157.4Q820.0 191.4 859.9 209.4" stroke="#e06060" stroke-opacity="0.2" stroke-width="0.5" fill="none"/>
<path d="M789.0 159.4Q821.8 188.3 860.1 209.1" stroke="#e06060" stroke-opacity="0.2" stroke-width="0.5" fill="none"/>
<path d="M792.5 160.1Q816.1 196.6 855.5 214.9" stroke="#e06060" stroke-opacity="0.2" stroke-width="0.5" fill="none"/>
<path d="M860.3 211.1Q873.1 204.1 882.1 192.7" stroke="#d82020" stroke-opacity="0.45" stroke-width="0.8" fill="none"/>
<path d="M859.1 211.5Q872.6 203.5 882.8 191.6" stroke="#d82020" stroke-opacity="0.45" stroke-width="0.8" fill="none"/>
<path d="M858.3 211.1Q873.1 205.3 883.0 193.0" stroke="#d82020" stroke-opacity="0.45" stroke-width="0.8" fill="none"/>
<path d="M859.5 213.4Q871.3 204.3 879.7 192.0" stroke="#d82020" stroke-opacity="0.45" stroke-width="0.8" fill="none"/>
<path d="M859.4 213.8Q873.2 206.2 880.4 192.2" stroke="#d82020" stroke-opacity="0.45" stroke-width="0.8" fill="none"/>
<path d="M858.8 212.1Q872.0 206.4 878.3 193.5" stroke="#d82020" stroke-opacity="0.45" stroke-width="0.8" fill="none"/>
<path d="M860.1 213.5Q873.5 207.1 881.5 194.5" stroke="#d82020" stroke-opacity="0.45" stroke-width="0.8" fill="none"/>
<path d="M859.4 212.7Q875.4 207.3 881.7 191.6" stroke="#d82020" stroke-opacity="0.45" stroke-width="0.8" fill="none"/>
<path d="M859.2 209.8Q868.1 200.9 877.9 193.0" stroke="#d82020" stroke-opacity="0.45" stroke-width="0.8" fill="none"/>
<path d="M859.4 211.5Q874.2 207.6 880.9 193.8" stroke="#d82020" stroke-opacity="0.45" stroke-width="0.8" fill="none"/>
<path d="M844.0 48.7Q842.0 60.0 841.7 71.4" stroke="#e89070" stroke-opacity="0.5" stroke-width="0.8" fill="none"/>
<path d="M843.9 46.6Q841.3 58.7 839.9 70.9" stroke="#e89070" stroke-opacity="0.5" stroke-width="0.8" fill="none"/>
<path d="M845.1 46.9Q838.8 57.5 840.2 69.7" stroke="#e89070" stroke-opacity="0.5" stroke-width="0.8" fill="none"/>
<path d="M845.4 46.1Q838.8 56.4 840.1 68.6" stroke="#e89070" stroke-opacity="0.5" stroke-width="0.8" fill="none"/>
<path d="M846.2 49.2Q840.1 59.4 842.3 71.0" stroke="#e89070" stroke-opacity="0.5" stroke-width="0.8" fill="none"/>
<path d="M814.4 58.8Q829.7 62.5 840.6 73.8" stroke="#b07080" stroke-opacity="0.4" stroke-width="0.6" fill="none"/>
<path d="M815.0 58.9Q828.6 63.5 840.6 71.2" stroke="#b07080" stroke-opacity="0.4" stroke-width="0.6" fill="none"/>
<path d="M815.6 59.1Q827.3 64.6 838.5 70.9" stroke="#b07080" stroke-opacity="0.4" stroke-width="0.6" fill="none"/>
<path d="M815.4 57.0Q831.0 60.4 841.2 72.5" stroke="#b07080" stroke-opacity="0.4" stroke-width="0.6" fill="none"/>
<path d="M680.3 152.9Q679.9 158.0 682.5 162.4" stroke="#e8705a" stroke-opacity="0.4" stroke-width="0.6" fill="none"/>
<path d="M680.9 153.6Q680.6 157.5 682.1 161.2" stroke="#e8705a" stroke-opacity="0.4" stroke-width="0.6" fill="none"/>
<path d="M682.2 161.4Q685.4 165.0 689.9 166.8" stroke="#e8705a" stroke-opacity="0.4" stroke-width="0.6" fill="none"/>
<path d="M682.3 161.4Q684.8 164.4 688.4 165.6" stroke="#e8705a" stroke-opacity="0.4" stroke-width="0.6" fill="none"/>
<path d="M688.3 166.2Q692.1 170.1 697.3 171.4" stroke="#e8705a" stroke-opacity="0.4" stroke-width="0.6" fill="none"/>
<path d="M688.8 166.2Q693.0 169.3 698.1 170.1" stroke="#e8705a" stroke-opacity="0.4" stroke-width="0.6" fill="none"/>
<path d="M699.0 170.9Q706.4 177.4 715.4 181.5" stroke="#e8705a" stroke-opacity="0.4" stroke-width="0.6" fill="none"/>
<path d="M697.2 171.2Q704.0 179.1 714.2 180.8" stroke="#e8705a" stroke-opacity="0.4" stroke-width="0.6" fill="none"/>
<path d="M685.9 171.7Q699.9 178.8 715.5 180.5" stroke="#e8705a" stroke-opacity="0.4" stroke-width="0.6" fill="none"/>
<path d="M685.4 171.6Q698.1 181.2 714.0 180.3" stroke="#e8705a" stroke-opacity="0.4" stroke-width="0.6" fill="none"/>
<path d="M715.8 170.7Q714.7 176.3 715.6 181.9" stroke="#e8705a" stroke-opacity="0.4" stroke-width="0.6" fill="none"/>
<path d="M715.5 170.7Q713.3 175.5 714.3 180.7" stroke="#e8705a" stroke-opacity="0.4" stroke-width="0.6" fill="none"/>
<path d="M715.4 181.8Q722.8 188.9 733.0 189.9" stroke="#e8705a" stroke-opacity="0.4" stroke-width="0.6" fill="none"/>
<path d="M714.1 181.6Q723.0 189.0 734.6 188.4" stroke="#e8705a" stroke-opacity="0.4" stroke-width="0.6" fill="none"/>
<path d="M714.5 181.2Q710.9 193.1 712.9 205.3" stroke="#e8705a" stroke-opacity="0.4" stroke-width="0.6" fill="none"/>
<path d="M714.6 180.3Q711.8 192.8 713.0 205.5" stroke="#e8705a" stroke-opacity="0.4" stroke-width="0.6" fill="none"/>
<path d="M733.3 189.6Q733.5 195.9 735.8 201.8" stroke="#e8705a" stroke-opacity="0.4" stroke-width="0.6" fill="none"/>
<path d="M733.4 188.2Q731.6 195.0 734.4 201.4" stroke="#e8705a" stroke-opacity="0.4" stroke-width="0.6" fill="none"/>
<path d="M734.6 201.9Q723.1 200.4 712.1 204.2" stroke="#e8705a" stroke-opacity="0.4" stroke-width="0.6" fill="none"/>
<path d="M735.9 202.1Q723.6 201.2 712.0 205.6" stroke="#e8705a" stroke-opacity="0.4" stroke-width="0.6" fill="none"/>
<path d="M753.9 199.8Q744.6 198.5 735.6 201.5" stroke="#e8705a" stroke-opacity="0.4" stroke-width="0.6" fill="none"/>
<path d="M752.5 200.1Q743.2 199.3 734.1 201.8" stroke="#e8705a" stroke-opacity="0.4" stroke-width="0.6" fill="none"/>
<path d="M727.7 155.4Q734.5 158.2 741.9 158.0" stroke="#e8705a" stroke-opacity="0.4" stroke-width="0.6" fill="none"/>
<path d="M727.2 155.3Q733.6 157.6 740.4 157.8" stroke="#e8705a" stroke-opacity="0.4" stroke-width="0.6" fill="none"/>
<path d="M741.0 158.3Q740.1 162.6 742.2 166.4" stroke="#e8705a" stroke-opacity="0.4" stroke-width="0.6" fill="none"/>
<path d="M741.5 157.3Q740.6 161.6 741.4 165.9" stroke="#e8705a" stroke-opacity="0.4" stroke-width="0.6" fill="none"/>
<path d="M741.1 166.7Q749.2 171.1 758.4 171.0" stroke="#e8705a" stroke-opacity="0.4" stroke-width="0.6" fill="none"/>
<path d="M741.5 166.8Q749.4 171.5 758.7 171.6" stroke="#e8705a" stroke-opacity="0.4" stroke-width="0.6" fill="none"/>
<path d="M714.5 180.2Q730.0 176.6 741.3 165.5" stroke="#e8705a" stroke-opacity="0.4" stroke-width="0.6" fill="none"/>
<path d="M714.3 182.0Q728.6 175.1 741.3 165.6" stroke="#e8705a" stroke-opacity="0.4" stroke-width="0.6" fill="none"/>
<path d="M715.8 180.4Q725.6 169.6 727.2 155.2" stroke="#e8705a" stroke-opacity="0.4" stroke-width="0.6" fill="none"/>
<path d="M715.7 182.0Q725.9 171.0 728.4 156.3" stroke="#e8705a" stroke-opacity="0.4" stroke-width="0.6" fill="none"/>
<path d="M694.6 167.2Q703.2 176.6 715.4 180.0" stroke="#e8705a" stroke-opacity="0.4" stroke-width="0.6" fill="none"/>
<path d="M694.5 167.0Q703.3 175.9 715.0 180.5" stroke="#e8705a" stroke-opacity="0.4" stroke-width="0.6" fill="none"/>
<path d="M743.5 178.3Q737.6 182.3 733.8 188.3" stroke="#e8705a" stroke-opacity="0.4" stroke-width="0.6" fill="none"/>
<path d="M743.2 179.1Q737.0 182.3 734.1 188.7" stroke="#e8705a" stroke-opacity="0.4" stroke-width="0.6" fill="none"/>
<path d="M744.4 178.4Q751.9 177.1 757.2 171.7" stroke="#e8705a" stroke-opacity="0.4" stroke-width="0.6" fill="none"/>
<path d="M743.6 179.8Q752.0 177.9 758.2 172.0" stroke="#e8705a" stroke-opacity="0.4" stroke-width="0.6" fill="none"/>
<path d="M712.9 209.4Q735.0 212.7 753.6 200.1" stroke="#e8705a" stroke-opacity="0.4" stroke-width="0.6" fill="none"/>
<path d="M712.1 209.9Q734.1 212.6 752.2 199.9" stroke="#e8705a" stroke-opacity="0.4" stroke-width="0.6" fill="none"/>
<path d="M768.1 141.4Q773.7 128.8 779.6 116.5" stroke="#2b7bb9" stroke-opacity="0.7" stroke-width="1.3" fill="none"/>
<path d="M767.3 141.7Q775.4 130.2 781.4 117.5" stroke="#2b7bb9" stroke-opacity="0.7" stroke-width="1.3" fill="none"/>
<path d="M769.5 143.5Q774.3 128.9 780.2 114.7" stroke="#2b7bb9" stroke-opacity="0.7" stroke-width="1.3" fill="none"/>
<path d="M767.0 141.2Q775.4 121.8 791.8 108.4" stroke="#2b7bb9" stroke-opacity="0.7" stroke-width="1.1" fill="none"/>
<path d="M767.2 141.5Q779.8 124.3 792.5 107.3" stroke="#2b7bb9" stroke-opacity="0.7" stroke-width="1.1" fill="none"/>
<path d="M767.2 141.4Q776.7 133.6 787.6 127.8" stroke="#2b7bb9" stroke-opacity="0.7" stroke-width="1.1" fill="none"/>
<path d="M768.4 141.2Q777.6 133.6 788.0 127.7" stroke="#2b7bb9" stroke-opacity="0.7" stroke-width="1.1" fill="none"/>
<path d="M768.1 142.3Q773.6 132.5 775.6 121.6" stroke="#2b7bb9" stroke-opacity="0.7" stroke-width="1.1" fill="none"/>
<path d="M768.8 142.8Q773.1 133.0 774.4 122.3" stroke="#2b7bb9" stroke-opacity="0.7" stroke-width="1.1" fill="none"/>
<path d="M790.8 282.1Q819.1 270.8 849.4 267.9" stroke="#8ab0c8" stroke-opacity="0.35" stroke-width="0.6" fill="none"/>
<path d="M785.1 287.3Q816.0 275.2 849.1 272.1" stroke="#8ab0c8" stroke-opacity="0.35" stroke-width="0.6" fill="none"/>
<path d="M786.4 284.0Q815.0 264.6 849.2 268.7" stroke="#8ab0c8" stroke-opacity="0.35" stroke-width="0.6" fill="none"/>
<path d="M786.4 287.1Q815.3 267.1 850.2 271.8" stroke="#8ab0c8" stroke-opacity="0.35" stroke-width="0.6" fill="none"/>
<path d="M790.5 285.1Q816.0 268.3 846.4 269.7" stroke="#8ab0c8" stroke-opacity="0.35" stroke-width="0.6" fill="none"/>
<path d="M785.5 285.4Q815.1 272.9 847.2 270.4" stroke="#8ab0c8" stroke-opacity="0.35" stroke-width="0.6" fill="none"/>
<path d="M787.2 284.9Q835.9 250.6 894.5 261.7" stroke="#8ab0c8" stroke-opacity="0.3" stroke-width="0.6" fill="none"/>
<path d="M788.9 283.6Q836.9 247.4 895.8 259.1" stroke="#8ab0c8" stroke-opacity="0.3" stroke-width="0.6" fill="none"/>
<path d="M787.0 282.9Q838.1 253.8 896.5 260.9" stroke="#8ab0c8" stroke-opacity="0.3" stroke-width="0.6" fill="none"/>
<path d="M790.7 283.5Q840.5 254.5 897.4 263.8" stroke="#8ab0c8" stroke-opacity="0.3" stroke-width="0.6" fill="none"/>
<path d="M785.2 284.7Q834.9 247.0 895.8 260.8" stroke="#8ab0c8" stroke-opacity="0.3" stroke-width="0.6" fill="none"/>
<path d="M786.9 283.5Q837.1 249.3 896.7 261.1" stroke="#8ab0c8" stroke-opacity="0.3" stroke-width="0.6" fill="none"/>
<path d="M790.1 293.8Q818.1 292.0 839.8 309.7" stroke="#8ab0c8" stroke-opacity="0.35" stroke-width="0.6" fill="none"/>
<path d="M791.2 293.0Q817.1 288.7 834.7 308.2" stroke="#8ab0c8" stroke-opacity="0.35" stroke-width="0.6" fill="none"/>
<path d="M791.5 290.5Q817.7 292.0 837.0 309.9" stroke="#8ab0c8" stroke-opacity="0.35" stroke-width="0.6" fill="none"/>
<path d="M792.7 291.4Q819.5 291.0 840.0 308.4" stroke="#8ab0c8" stroke-opacity="0.35" stroke-width="0.6" fill="none"/>
<path d="M792.3 289.9Q818.7 293.3 838.2 311.4" stroke="#8ab0c8" stroke-opacity="0.35" stroke-width="0.6" fill="none"/>
<path d="M788.3 292.2Q819.4 287.3 839.3 311.8" stroke="#8ab0c8" stroke-opacity="0.35" stroke-width="0.6" fill="none"/>
<path d="M835.1 312.0Q874.2 299.2 894.0 263.2" stroke="#b8d0a8" stroke-opacity="0.3" stroke-width="0.6" fill="none"/>
<path d="M837.0 310.9Q873.0 295.9 894.7 263.6" stroke="#b8d0a8" stroke-opacity="0.3" stroke-width="0.6" fill="none"/>
<path d="M838.2 309.9Q878.9 304.2 896.0 266.7" stroke="#b8d0a8" stroke-opacity="0.3" stroke-width="0.6" fill="none"/>
<path d="M839.7 309.4Q875.8 299.5 893.4 266.4" stroke="#b8d0a8" stroke-opacity="0.3" stroke-width="0.6" fill="none"/>
<path d="M835.2 312.1Q872.7 298.4 897.2 267.0" stroke="#b8d0a8" stroke-opacity="0.3" stroke-width="0.6" fill="none"/>
<path d="M835.8 308.0Q877.8 300.9 897.9 263.3" stroke="#b8d0a8" stroke-opacity="0.3" stroke-width="0.6" fill="none"/>
<path d="M849.1 271.7Q872.6 272.0 895.1 265.1" stroke="#c8dca0" stroke-opacity="0.35" stroke-width="0.6" fill="none"/>
<path d="M851.0 268.7Q872.2 268.3 892.9 263.6" stroke="#c8dca0" stroke-opacity="0.35" stroke-width="0.6" fill="none"/>
<path d="M847.0 268.6Q870.1 269.1 892.6 264.0" stroke="#c8dca0" stroke-opacity="0.35" stroke-width="0.6" fill="none"/>
<path d="M848.4 268.2Q871.0 270.5 892.4 263.2" stroke="#c8dca0" stroke-opacity="0.35" stroke-width="0.6" fill="none"/>
<path d="M847.3 271.4Q872.2 268.9 896.8 264.5" stroke="#c8dca0" stroke-opacity="0.35" stroke-width="0.6" fill="none"/>
<path d="M839.4 312.1Q844.6 292.3 849.6 272.4" stroke="#b8d0b8" stroke-opacity="0.3" stroke-width="0.5" fill="none"/>
<path d="M837.8 313.4Q843.3 291.7 850.2 270.4" stroke="#b8d0b8" stroke-opacity="0.3" stroke-width="0.5" fill="none"/>
<path d="M836.5 314.0Q847.4 292.7 845.6 268.9" stroke="#b8d0b8" stroke-opacity="0.3" stroke-width="0.5" fill="none"/>
<path d="M836.7 309.3Q842.4 291.0 846.9 272.5" stroke="#b8d0b8" stroke-opacity="0.3" stroke-width="0.5" fill="none"/>
<path d="M788.0 293.1Q836.9 291.7 884.8 281.9" stroke="#a8c4c8" stroke-opacity="0.3" stroke-width="0.5" fill="none"/>
<path d="M791.8 293.8Q838.5 292.3 884.1 282.0" stroke="#a8c4c8" stroke-opacity="0.3" stroke-width="0.5" fill="none"/>
<path d="M787.0 291.2Q837.6 300.8 884.5 279.4" stroke="#a8c4c8" stroke-opacity="0.3" stroke-width="0.5" fill="none"/>
<path d="M788.4 290.4Q835.6 301.4 881.3 285.0" stroke="#a8c4c8" stroke-opacity="0.3" stroke-width="0.5" fill="none"/>
<path d="M895.7 257.8Q886.5 227.5 875.1 198.0" stroke="#e8a0a0" stroke-opacity="0.3" stroke-width="0.5" fill="none"/>
<path d="M890.7 260.9Q885.4 228.8 877.1 197.3" stroke="#e8a0a0" stroke-opacity="0.3" stroke-width="0.5" fill="none"/>
<path d="M837.5 224.7Q860.9 251.3 895.4 259.5" stroke="#d8e4b0" stroke-opacity="0.4" stroke-width="0.5" fill="none"/>
<path d="M834.5 222.2Q857.2 249.3 890.8 260.2" stroke="#d8e4b0" stroke-opacity="0.4" stroke-width="0.5" fill="none"/>
<path d="M833.3 221.7Q855.3 250.3 890.1 259.5" stroke="#d8e4b0" stroke-opacity="0.4" stroke-width="0.5" fill="none"/>
<path d="M716.3 294.0Q786.9 279.5 834.1 225.0" stroke="#d0e0e0" stroke-opacity="0.4" stroke-width="0.5" fill="none"/>
<path d="M716.0 289.6Q792.2 281.5 837.5 219.9" stroke="#d0e0e0" stroke-opacity="0.4" stroke-width="0.5" fill="none"/>
<path d="M749.5 226.7Q759.9 230.4 770.4 226.9" stroke="#88bdb4" stroke-opacity="0.6" stroke-width="0.8" fill="none"/>
<path d="M750.5 223.2Q760.4 226.3 770.8 227.0" stroke="#88bdb4" stroke-opacity="0.6" stroke-width="0.8" fill="none"/>
<path d="M749.7 225.4Q758.0 230.0 767.5 228.7" stroke="#88bdb4" stroke-opacity="0.6" stroke-width="0.8" fill="none"/>
<path d="M685.1 283.4Q694.3 284.8 702.4 280.3" stroke="#9cc4aa" stroke-opacity="0.5" stroke-width="0.6" fill="none"/>
<path d="M685.5 283.0Q693.7 281.7 701.9 280.3" stroke="#9cc4aa" stroke-opacity="0.5" stroke-width="0.6" fill="none"/>
<path d="M685.1 283.7Q694.4 290.8 706.0 291.6" stroke="#9cc4aa" stroke-opacity="0.5" stroke-width="0.6" fill="none"/>
<path d="M686.4 283.9Q695.6 291.6 707.5 291.9" stroke="#9cc4aa" stroke-opacity="0.5" stroke-width="0.6" fill="none"/>
<path d="M697.5 277.3Q699.3 279.4 701.8 280.4" stroke="#9cc4aa" stroke-opacity="0.5" stroke-width="0.6" fill="none"/>
<path d="M697.9 276.9Q700.0 279.0 702.7 280.1" stroke="#9cc4aa" stroke-opacity="0.5" stroke-width="0.6" fill="none"/>
<path d="M701.2 281.7Q703.3 287.1 708.2 290.4" stroke="#9cc4aa" stroke-opacity="0.5" stroke-width="0.6" fill="none"/>
<path d="M702.2 281.7Q703.7 287.5 708.2 291.4" stroke="#9cc4aa" stroke-opacity="0.5" stroke-width="0.6" fill="none"/>
<path d="M707.8 290.2Q713.0 291.2 718.2 290.3" stroke="#9cc4aa" stroke-opacity="0.5" stroke-width="0.6" fill="none"/>
<path d="M707.7 291.4Q712.5 291.8 717.3 291.9" stroke="#9cc4aa" stroke-opacity="0.5" stroke-width="0.6" fill="none"/>
<path d="M705.9 294.4Q708.9 297.4 713.1 298.0" stroke="#9cc4aa" stroke-opacity="0.5" stroke-width="0.6" fill="none"/>
<path d="M705.5 295.0Q708.9 297.2 713.0 297.2" stroke="#9cc4aa" stroke-opacity="0.5" stroke-width="0.6" fill="none"/>
<path d="M717.0 290.6Q713.8 294.0 713.5 298.7" stroke="#9cc4aa" stroke-opacity="0.5" stroke-width="0.6" fill="none"/>
<path d="M718.9 290.4Q714.7 293.4 712.5 298.1" stroke="#9cc4aa" stroke-opacity="0.5" stroke-width="0.6" fill="none"/>
<path d="M686.0 284.3Q696.1 289.6 706.7 293.4" stroke="#9cc4aa" stroke-opacity="0.5" stroke-width="0.6" fill="none"/>
<path d="M686.3 283.7Q696.2 289.4 706.4 294.7" stroke="#9cc4aa" stroke-opacity="0.5" stroke-width="0.6" fill="none"/>
<path d="M696.6 277.6Q706.1 285.6 717.1 291.6" stroke="#9cc4aa" stroke-opacity="0.5" stroke-width="0.6" fill="none"/>
<path d="M697.1 277.7Q704.7 288.5 717.5 291.4" stroke="#9cc4aa" stroke-opacity="0.5" stroke-width="0.6" fill="none"/>
<path d="M734.1 396.7Q755.4 386.5 778.4 392.1" stroke="#8ab8d0" stroke-opacity="0.45" stroke-width="0.7" fill="none"/>
<path d="M734.7 397.4Q756.9 389.4 780.5 388.9" stroke="#8ab8d0" stroke-opacity="0.45" stroke-width="0.7" fill="none"/>
<path d="M738.0 396.8Q757.8 388.2 779.2 390.7" stroke="#8ab8d0" stroke-opacity="0.45" stroke-width="0.7" fill="none"/>
<path d="M740.0 396.6Q757.7 390.2 776.1 393.6" stroke="#8ab8d0" stroke-opacity="0.45" stroke-width="0.7" fill="none"/>
<path d="M735.2 398.0Q756.0 388.7 778.2 393.7" stroke="#8ab8d0" stroke-opacity="0.45" stroke-width="0.7" fill="none"/>
<path d="M735.3 399.5Q756.9 393.7 779.3 393.7" stroke="#8ab8d0" stroke-opacity="0.45" stroke-width="0.7" fill="none"/>
<path d="M736.1 397.2Q757.9 386.8 781.0 393.9" stroke="#8ab8d0" stroke-opacity="0.45" stroke-width="0.7" fill="none"/>
<path d="M738.4 401.2Q758.3 392.2 779.9 389.3" stroke="#8ab8d0" stroke-opacity="0.45" stroke-width="0.7" fill="none"/>
<path d="M705.5 422.3Q736.1 395.5 776.8 394.4" stroke="#8ab8d0" stroke-opacity="0.45" stroke-width="0.7" fill="none"/>
<path d="M709.3 421.6Q738.8 395.6 778.1 394.1" stroke="#8ab8d0" stroke-opacity="0.45" stroke-width="0.7" fill="none"/>
<path d="M710.7 426.3Q738.4 397.7 777.2 389.0" stroke="#8ab8d0" stroke-opacity="0.45" stroke-width="0.7" fill="none"/>
<path d="M705.8 421.1Q738.8 397.3 779.4 394.1" stroke="#8ab8d0" stroke-opacity="0.45" stroke-width="0.7" fill="none"/>
<path d="M710.7 422.2Q739.1 398.0 775.5 389.7" stroke="#8ab8d0" stroke-opacity="0.45" stroke-width="0.7" fill="none"/>
<path d="M705.7 422.0Q732.7 389.3 775.1 389.3" stroke="#8ab8d0" stroke-opacity="0.45" stroke-width="0.7" fill="none"/>
<path d="M707.1 422.0Q736.0 392.9 776.9 394.6" stroke="#8ab8d0" stroke-opacity="0.45" stroke-width="0.7" fill="none"/>
<path d="M709.9 425.4Q739.3 398.8 778.4 392.5" stroke="#8ab8d0" stroke-opacity="0.45" stroke-width="0.7" fill="none"/>
<path d="M700.0 440.3Q709.5 410.7 737.9 397.9" stroke="#8ab8d0" stroke-opacity="0.45" stroke-width="0.7" fill="none"/>
<path d="M701.2 439.9Q709.0 411.7 735.2 398.4" stroke="#8ab8d0" stroke-opacity="0.45" stroke-width="0.7" fill="none"/>
<path d="M698.0 440.8Q710.7 413.0 738.4 400.1" stroke="#8ab8d0" stroke-opacity="0.45" stroke-width="0.7" fill="none"/>
<path d="M699.0 439.6Q707.6 412.2 733.9 400.4" stroke="#8ab8d0" stroke-opacity="0.45" stroke-width="0.7" fill="none"/>
<path d="M698.8 442.9Q709.3 415.6 735.0 401.9" stroke="#8ab8d0" stroke-opacity="0.45" stroke-width="0.7" fill="none"/>
<path d="M701.6 440.8Q708.5 413.1 734.1 400.3" stroke="#8ab8d0" stroke-opacity="0.45" stroke-width="0.7" fill="none"/>
<path d="M757.7 405.7Q770.8 400.0 780.9 390.0" stroke="#5a98c8" stroke-opacity="0.5" stroke-width="0.9" fill="none"/>
<path d="M757.6 406.4Q771.5 402.2 779.0 389.6" stroke="#5a98c8" stroke-opacity="0.5" stroke-width="0.9" fill="none"/>
<path d="M757.9 405.7Q769.3 400.3 777.5 390.9" stroke="#5a98c8" stroke-opacity="0.5" stroke-width="0.9" fill="none"/>
<path d="M757.1 406.4Q768.9 399.0 779.4 389.6" stroke="#5a98c8" stroke-opacity="0.5" stroke-width="0.9" fill="none"/>
<path d="M700.4 440.8Q707.5 433.0 709.9 422.7" stroke="#88bdb4" stroke-opacity="0.5" stroke-width="0.8" fill="none"/>
<path d="M702.3 442.5Q706.4 434.1 706.1 424.9" stroke="#88bdb4" stroke-opacity="0.5" stroke-width="0.8" fill="none"/>
<path d="M700.0 442.8Q707.7 434.8 708.2 423.7" stroke="#88bdb4" stroke-opacity="0.5" stroke-width="0.8" fill="none"/>
<path d="M700.8 438.8Q704.0 431.5 706.9 424.0" stroke="#88bdb4" stroke-opacity="0.5" stroke-width="0.8" fill="none"/>
<path d="M700.6 441.4Q706.9 435.0 707.6 426.1" stroke="#88bdb4" stroke-opacity="0.5" stroke-width="0.8" fill="none"/>
<path d="M675.2 432.5Q686.0 444.7 702.1 447.4" stroke="#88bdb4" stroke-opacity="0.5" stroke-width="1.0" fill="none"/>
<path d="M674.2 434.7Q686.7 439.7 699.5 443.8" stroke="#88bdb4" stroke-opacity="0.5" stroke-width="1.0" fill="none"/>
<path d="M675.1 429.9Q684.4 441.5 698.6 445.7" stroke="#88bdb4" stroke-opacity="0.5" stroke-width="1.0" fill="none"/>
<path d="M676.5 429.5Q685.4 438.8 697.4 443.5" stroke="#88bdb4" stroke-opacity="0.5" stroke-width="1.0" fill="none"/>
<path d="M677.0 433.8Q688.3 442.9 702.6 445.5" stroke="#88bdb4" stroke-opacity="0.5" stroke-width="1.0" fill="none"/>
<path d="M705.4 454.0Q735.9 499.1 788.0 514.9" stroke="#e09090" stroke-opacity="0.4" stroke-width="0.6" fill="none"/>
<path d="M708.7 452.5Q729.5 507.5 788.0 514.0" stroke="#e09090" stroke-opacity="0.4" stroke-width="0.6" fill="none"/>
<path d="M703.2 450.9Q728.8 504.6 787.7 512.7" stroke="#e09090" stroke-opacity="0.4" stroke-width="0.6" fill="none"/>
<path d="M703.9 455.6Q731.7 499.9 782.1 513.8" stroke="#e09090" stroke-opacity="0.4" stroke-width="0.6" fill="none"/>
<path d="M701.2 453.4Q731.4 496.7 782.4 509.9" stroke="#e09090" stroke-opacity="0.4" stroke-width="0.6" fill="none"/>
<path d="M702.3 449.3Q733.5 493.0 782.6 514.8" stroke="#e09090" stroke-opacity="0.4" stroke-width="0.6" fill="none"/>
<path d="M702.3 448.6Q727.6 505.2 789.3 512.4" stroke="#e09090" stroke-opacity="0.4" stroke-width="0.6" fill="none"/>
<path d="M708.8 452.0Q736.7 494.7 785.2 511.1" stroke="#e09090" stroke-opacity="0.4" stroke-width="0.6" fill="none"/>
<path d="M705.8 455.7Q728.5 508.8 786.0 514.1" stroke="#e09090" stroke-opacity="0.4" stroke-width="0.6" fill="none"/>
<path d="M707.6 453.4Q736.2 496.5 786.4 508.8" stroke="#e09090" stroke-opacity="0.4" stroke-width="0.6" fill="none"/>
<path d="M707.8 451.5Q733.8 499.6 787.4 510.1" stroke="#e09090" stroke-opacity="0.4" stroke-width="0.6" fill="none"/>
<path d="M702.8 454.3Q732.0 502.9 788.5 508.1" stroke="#e09090" stroke-opacity="0.4" stroke-width="0.6" fill="none"/>
<path d="M787.3 469.9Q771.3 492.8 791.8 511.7" stroke="#e0b890" stroke-opacity="0.45" stroke-width="0.7" fill="none"/>
<path d="M789.5 466.0Q772.0 487.9 790.5 509.0" stroke="#e0b890" stroke-opacity="0.45" stroke-width="0.7" fill="none"/>
<path d="M787.7 468.2Q770.1 490.4 790.2 510.3" stroke="#e0b890" stroke-opacity="0.45" stroke-width="0.7" fill="none"/>
<path d="M789.9 467.4Q776.5 489.9 791.2 511.6" stroke="#e0b890" stroke-opacity="0.45" stroke-width="0.7" fill="none"/>
<path d="M786.5 468.0Q778.0 490.2 791.1 510.1" stroke="#e0b890" stroke-opacity="0.45" stroke-width="0.7" fill="none"/>
<path d="M787.8 467.2Q803.9 487.3 791.6 509.9" stroke="#c8d8a0" stroke-opacity="0.45" stroke-width="0.7" fill="none"/>
<path d="M789.0 466.3Q798.3 487.3 788.8 508.3" stroke="#c8d8a0" stroke-opacity="0.45" stroke-width="0.7" fill="none"/>
<path d="M789.4 468.4Q796.7 490.0 788.9 511.4" stroke="#c8d8a0" stroke-opacity="0.45" stroke-width="0.7" fill="none"/>
<path d="M787.3 467.1Q796.5 488.9 790.7 511.9" stroke="#c8d8a0" stroke-opacity="0.45" stroke-width="0.7" fill="none"/>
<path d="M787.9 462.5Q788.8 489.6 804.6 511.7" stroke="#a8c8d8" stroke-opacity="0.5" stroke-width="0.6" fill="none"/>
<path d="M790.0 462.8Q789.8 489.8 806.2 511.2" stroke="#a8c8d8" stroke-opacity="0.5" stroke-width="0.6" fill="none"/>
<path d="M796.3 506.1Q804.9 507.0 812.8 503.4" stroke="#2a58a0" stroke-opacity="0.6" stroke-width="1.4" fill="none"/>
<path d="M795.1 509.9Q801.7 503.1 811.1 501.2" stroke="#2a58a0" stroke-opacity="0.6" stroke-width="1.4" fill="none"/>
<path d="M796.3 509.7Q804.3 506.3 810.5 500.2" stroke="#2a58a0" stroke-opacity="0.6" stroke-width="1.4" fill="none"/>
<path d="M794.6 512.2Q803.5 504.4 815.3 503.4" stroke="#2a58a0" stroke-opacity="0.6" stroke-width="1.4" fill="none"/>
<path d="M792.0 507.5Q802.2 507.5 811.0 502.4" stroke="#2a58a0" stroke-opacity="0.6" stroke-width="1.4" fill="none"/>
<path d="M795.4 510.0Q804.1 504.0 812.5 497.7" stroke="#2a58a0" stroke-opacity="0.6" stroke-width="1.4" fill="none"/>
<path d="M793.0 508.4Q801.8 507.8 808.6 502.1" stroke="#2a58a0" stroke-opacity="0.6" stroke-width="1.4" fill="none"/>
<path d="M792.0 509.6Q799.0 502.5 808.7 500.0" stroke="#2a58a0" stroke-opacity="0.6" stroke-width="1.4" fill="none"/>
<path d="M797.5 510.6Q807.2 506.3 814.8 499.0" stroke="#2a58a0" stroke-opacity="0.6" stroke-width="1.4" fill="none"/>
<path d="M796.4 509.1Q805.0 503.9 814.9 501.9" stroke="#2a58a0" stroke-opacity="0.6" stroke-width="1.4" fill="none"/>
<path d="M796.5 508.9Q802.0 502.9 810.0 501.8" stroke="#2a58a0" stroke-opacity="0.6" stroke-width="1.4" fill="none"/>
<path d="M794.6 509.4Q800.4 503.4 808.5 502.0" stroke="#2a58a0" stroke-opacity="0.6" stroke-width="1.4" fill="none"/>
<path d="M796.0 507.9Q801.8 504.0 808.7 504.5" stroke="#2a58a0" stroke-opacity="0.6" stroke-width="1.4" fill="none"/>
<path d="M792.6 509.0Q801.3 504.9 810.2 501.2" stroke="#2a58a0" stroke-opacity="0.6" stroke-width="1.4" fill="none"/>
<path d="M815.7 499.2Q828.0 491.2 838.4 480.8" stroke="#3a7cbc" stroke-opacity="0.6" stroke-width="0.8" fill="none"/>
<path d="M816.2 499.4Q826.3 490.2 837.6 482.6" stroke="#3a7cbc" stroke-opacity="0.6" stroke-width="0.8" fill="none"/>
<path d="M816.2 499.1Q826.2 489.4 837.6 481.5" stroke="#3a7cbc" stroke-opacity="0.6" stroke-width="0.8" fill="none"/>
<path d="M814.5 500.1Q828.5 493.9 838.4 482.2" stroke="#3a7cbc" stroke-opacity="0.6" stroke-width="0.8" fill="none"/>
<path d="M814.5 499.4Q825.9 489.8 837.3 480.5" stroke="#3a7cbc" stroke-opacity="0.6" stroke-width="0.8" fill="none"/>
<path d="M814.3 501.7Q826.1 502.3 838.0 502.8" stroke="#3a7cbc" stroke-opacity="0.6" stroke-width="0.8" fill="none"/>
<path d="M817.4 502.2Q828.6 504.6 840.0 504.7" stroke="#3a7cbc" stroke-opacity="0.6" stroke-width="0.8" fill="none"/>
<path d="M815.9 500.5Q828.0 501.4 840.1 501.3" stroke="#3a7cbc" stroke-opacity="0.6" stroke-width="0.8" fill="none"/>
<path d="M814.3 503.1Q823.8 510.9 835.9 512.7" stroke="#3a7cbc" stroke-opacity="0.6" stroke-width="0.8" fill="none"/>
<path d="M815.7 502.5Q826.1 506.3 835.7 511.8" stroke="#3a7cbc" stroke-opacity="0.6" stroke-width="0.8" fill="none"/>
<path d="M814.7 500.1Q824.6 505.2 833.8 511.5" stroke="#3a7cbc" stroke-opacity="0.6" stroke-width="0.8" fill="none"/>
<path d="M789.6 514.3Q774.7 505.5 757.9 501.2" stroke="#e02020" stroke-opacity="0.45" stroke-width="0.7" fill="none"/>
<path d="M791.2 512.2Q774.3 507.4 757.9 501.2" stroke="#e02020" stroke-opacity="0.45" stroke-width="0.7" fill="none"/>
<path d="M788.0 512.1Q773.7 504.6 757.9 501.2" stroke="#e02020" stroke-opacity="0.45" stroke-width="0.7" fill="none"/>
<path d="M789.0 514.4Q779.2 506.9 769.1 499.9" stroke="#e02020" stroke-opacity="0.45" stroke-width="0.7" fill="none"/>
<path d="M792.8 513.5Q781.6 505.6 769.1 499.9" stroke="#e02020" stroke-opacity="0.45" stroke-width="0.7" fill="none"/>
<path d="M790.7 513.2Q780.0 506.4 769.1 499.9" stroke="#e02020" stroke-opacity="0.45" stroke-width="0.7" fill="none"/>
<path d="M790.2 510.1Q781.1 503.3 772.2 496.2" stroke="#e02020" stroke-opacity="0.45" stroke-width="0.7" fill="none"/>
<path d="M790.2 514.1Q781.7 504.6 772.2 496.2" stroke="#e02020" stroke-opacity="0.45" stroke-width="0.7" fill="none"/>
<path d="M790.7 510.1Q783.2 500.9 772.2 496.2" stroke="#e02020" stroke-opacity="0.45" stroke-width="0.7" fill="none"/>
<path d="M788.5 514.5Q785.4 510.0 781.5 506.1" stroke="#e02020" stroke-opacity="0.45" stroke-width="0.7" fill="none"/>
<path d="M787.5 514.6Q785.5 509.7 781.5 506.1" stroke="#e02020" stroke-opacity="0.45" stroke-width="0.7" fill="none"/>
<path d="M788.1 512.7Q784.9 509.3 781.5 506.1" stroke="#e02020" stroke-opacity="0.45" stroke-width="0.7" fill="none"/>
<path d="M788.7 511.6Q781.0 511.4 773.4 512.3" stroke="#e02020" stroke-opacity="0.45" stroke-width="0.7" fill="none"/>
<path d="M791.1 511.0Q782.2 510.9 773.4 512.3" stroke="#e02020" stroke-opacity="0.45" stroke-width="0.7" fill="none"/>
<path d="M788.4 514.4Q781.0 512.9 773.4 512.3" stroke="#e02020" stroke-opacity="0.45" stroke-width="0.7" fill="none"/>
<path d="M791.4 510.2Q779.9 515.7 768.5 521.6" stroke="#e02020" stroke-opacity="0.45" stroke-width="0.7" fill="none"/>
<path d="M789.6 515.6Q778.4 516.4 768.5 521.6" stroke="#e02020" stroke-opacity="0.45" stroke-width="0.7" fill="none"/>
<path d="M792.1 510.2Q779.2 513.6 768.5 521.6" stroke="#e02020" stroke-opacity="0.45" stroke-width="0.7" fill="none"/>
<path d="M790.2 515.3Q775.3 518.1 762.3 525.9" stroke="#e02020" stroke-opacity="0.45" stroke-width="0.7" fill="none"/>
<path d="M789.1 515.4Q775.1 519.0 762.3 525.9" stroke="#e02020" stroke-opacity="0.45" stroke-width="0.7" fill="none"/>
<path d="M788.3 510.9Q773.4 515.0 762.3 525.9" stroke="#e02020" stroke-opacity="0.45" stroke-width="0.7" fill="none"/>
<path d="M790.9 511.0Q773.2 521.4 757.3 534.6" stroke="#e02020" stroke-opacity="0.45" stroke-width="0.7" fill="none"/>
<path d="M790.3 514.8Q772.5 522.6 757.3 534.6" stroke="#e02020" stroke-opacity="0.45" stroke-width="0.7" fill="none"/>
<path d="M787.8 513.1Q772.7 524.1 757.3 534.6" stroke="#e02020" stroke-opacity="0.45" stroke-width="0.7" fill="none"/>
<path d="M790.5 514.5Q776.7 521.1 766.0 532.1" stroke="#e02020" stroke-opacity="0.45" stroke-width="0.7" fill="none"/>
<path d="M787.2 514.1Q776.4 522.9 766.0 532.1" stroke="#e02020" stroke-opacity="0.45" stroke-width="0.7" fill="none"/>
<path d="M787.2 510.5Q775.0 519.8 766.0 532.1" stroke="#e02020" stroke-opacity="0.45" stroke-width="0.7" fill="none"/>
<path d="M791.0 511.2Q782.9 519.0 777.8 529.0" stroke="#e02020" stroke-opacity="0.45" stroke-width="0.7" fill="none"/>
<path d="M789.5 510.1Q783.4 519.4 777.8 529.0" stroke="#e02020" stroke-opacity="0.45" stroke-width="0.7" fill="none"/>
<path d="M788.4 510.3Q782.8 519.4 777.8 529.0" stroke="#e02020" stroke-opacity="0.45" stroke-width="0.7" fill="none"/>
<path d="M792.6 510.5Q783.6 521.1 777.1 533.4" stroke="#e02020" stroke-opacity="0.45" stroke-width="0.7" fill="none"/>
<path d="M790.7 511.7Q782.1 521.5 777.1 533.4" stroke="#e02020" stroke-opacity="0.45" stroke-width="0.7" fill="none"/>
<path d="M791.6 511.6Q782.8 521.4 777.1 533.4" stroke="#e02020" stroke-opacity="0.45" stroke-width="0.7" fill="none"/>
<path d="M790.8 512.6Q785.8 524.9 782.7 537.7" stroke="#e02020" stroke-opacity="0.45" stroke-width="0.7" fill="none"/>
<path d="M789.4 514.3Q786.1 526.0 782.7 537.7" stroke="#e02020" stroke-opacity="0.45" stroke-width="0.7" fill="none"/>
<path d="M788.9 511.7Q784.2 524.3 782.7 537.7" stroke="#e02020" stroke-opacity="0.45" stroke-width="0.7" fill="none"/>
<path d="M791.0 514.7Q783.5 529.3 775.9 543.9" stroke="#e02020" stroke-opacity="0.45" stroke-width="0.7" fill="none"/>
<path d="M790.7 510.4Q783.0 527.0 775.9 543.9" stroke="#e02020" stroke-opacity="0.45" stroke-width="0.7" fill="none"/>
<path d="M790.6 512.2Q783.3 528.1 775.9 543.9" stroke="#e02020" stroke-opacity="0.45" stroke-width="0.7" fill="none"/>
<path d="M787.3 513.0Q793.7 525.6 801.9 537.1" stroke="#e02020" stroke-opacity="0.45" stroke-width="0.7" fill="none"/>
<path d="M788.4 513.8Q794.1 526.0 801.9 537.1" stroke="#e02020" stroke-opacity="0.45" stroke-width="0.7" fill="none"/>
<path d="M789.1 510.6Q795.4 523.9 801.9 537.1" stroke="#e02020" stroke-opacity="0.45" stroke-width="0.7" fill="none"/>
<path d="M790.3 515.4Q795.7 530.5 806.9 542.0" stroke="#e02020" stroke-opacity="0.45" stroke-width="0.7" fill="none"/>
<path d="M791.7 514.0Q798.6 528.4 806.9 542.0" stroke="#e02020" stroke-opacity="0.45" stroke-width="0.7" fill="none"/>
<path d="M792.5 513.0Q800.4 527.2 806.9 542.0" stroke="#e02020" stroke-opacity="0.45" stroke-width="0.7" fill="none"/>
<path d="M789.2 511.7Q798.4 530.4 809.3 548.2" stroke="#e02020" stroke-opacity="0.45" stroke-width="0.7" fill="none"/>
<path d="M789.6 512.5Q796.2 532.2 809.3 548.2" stroke="#e02020" stroke-opacity="0.45" stroke-width="0.7" fill="none"/>
<path d="M791.1 513.5Q798.8 531.6 809.3 548.2" stroke="#e02020" stroke-opacity="0.45" stroke-width="0.7" fill="none"/>
<path d="M790.5 515.8Q801.6 529.7 813.1 543.3" stroke="#e02020" stroke-opacity="0.45" stroke-width="0.7" fill="none"/>
<path d="M792.1 515.0Q801.8 529.7 813.1 543.3" stroke="#e02020" stroke-opacity="0.45" stroke-width="0.7" fill="none"/>
<path d="M792.8 511.5Q801.6 528.3 813.1 543.3" stroke="#e02020" stroke-opacity="0.45" stroke-width="0.7" fill="none"/>
<path d="M789.4 510.7Q796.5 528.4 804.0 546.0" stroke="#e02020" stroke-opacity="0.45" stroke-width="0.7" fill="none"/>
<path d="M789.1 512.9Q797.1 529.2 804.0 546.0" stroke="#e02020" stroke-opacity="0.45" stroke-width="0.7" fill="none"/>
<path d="M792.3 513.4Q796.0 530.5 804.0 546.0" stroke="#e02020" stroke-opacity="0.45" stroke-width="0.7" fill="none"/>
<path d="M787.0 510.0Q802.8 526.1 821.7 538.3" stroke="#e02020" stroke-opacity="0.45" stroke-width="0.7" fill="none"/>
<path d="M788.6 516.0Q804.0 528.8 821.7 538.3" stroke="#e02020" stroke-opacity="0.45" stroke-width="0.7" fill="none"/>
<path d="M787.9 510.3Q801.9 527.7 821.7 538.3" stroke="#e02020" stroke-opacity="0.45" stroke-width="0.7" fill="none"/>
<path d="M792.8 514.4Q807.8 530.6 827.9 539.6" stroke="#e02020" stroke-opacity="0.45" stroke-width="0.7" fill="none"/>
<path d="M792.4 514.1Q810.6 526.2 827.9 539.6" stroke="#e02020" stroke-opacity="0.45" stroke-width="0.7" fill="none"/>
<path d="M790.9 514.1Q806.6 531.0 827.9 539.6" stroke="#e02020" stroke-opacity="0.45" stroke-width="0.7" fill="none"/>
<path d="M789.5 511.1Q803.3 530.5 824.2 542.0" stroke="#e02020" stroke-opacity="0.45" stroke-width="0.7" fill="none"/>
<path d="M789.2 514.8Q806.8 528.3 824.2 542.0" stroke="#e02020" stroke-opacity="0.45" stroke-width="0.7" fill="none"/>
<path d="M789.5 511.3Q803.7 530.2 824.2 542.0" stroke="#e02020" stroke-opacity="0.45" stroke-width="0.7" fill="none"/>
<path d="M788.8 515.1Q804.5 536.0 819.3 557.5" stroke="#e02020" stroke-opacity="0.45" stroke-width="0.7" fill="none"/>
<path d="M790.8 515.7Q805.9 536.0 819.3 557.5" stroke="#e02020" stroke-opacity="0.45" stroke-width="0.7" fill="none"/>
<path d="M791.3 510.2Q802.6 535.4 819.3 557.5" stroke="#e02020" stroke-opacity="0.45" stroke-width="0.7" fill="none"/>
<path d="M791.2 510.9Q790.2 506.1 788.4 501.5" stroke="#e02020" stroke-opacity="0.45" stroke-width="0.7" fill="none"/>
<path d="M790.0 515.0Q789.4 508.2 788.4 501.5" stroke="#e02020" stroke-opacity="0.45" stroke-width="0.7" fill="none"/>
<path d="M790.7 513.2Q790.3 507.2 788.4 501.5" stroke="#e02020" stroke-opacity="0.45" stroke-width="0.7" fill="none"/>
<path d="M792.7 514.5Q787.2 510.0 781.4 505.8" stroke="#e02020" stroke-opacity="0.45" stroke-width="0.7" fill="none"/>
<path d="M793.0 514.7Q787.0 510.5 781.4 505.8" stroke="#e02020" stroke-opacity="0.45" stroke-width="0.7" fill="none"/>
<path d="M791.6 515.9Q786.3 511.0 781.4 505.8" stroke="#e02020" stroke-opacity="0.45" stroke-width="0.7" fill="none"/>
<path d="M789.3 511.2Q779.2 510.8 769.1 511.7" stroke="#f2e880" stroke-opacity="0.6" stroke-width="1.2" fill="none"/>
<path d="M790.4 513.9Q779.9 511.4 769.1 511.7" stroke="#f2e880" stroke-opacity="0.6" stroke-width="1.2" fill="none"/>
<path d="M789.1 511.1Q779.1 510.6 769.1 511.7" stroke="#f2e880" stroke-opacity="0.6" stroke-width="1.2" fill="none"/>
<path d="M788.8 515.3Q766.5 512.2 745.5 520.4" stroke="#f2e880" stroke-opacity="0.6" stroke-width="1.2" fill="none"/>
<path d="M787.1 512.5Q766.2 516.0 745.5 520.4" stroke="#f2e880" stroke-opacity="0.6" stroke-width="1.2" fill="none"/>
<path d="M791.5 515.2Q768.2 514.7 745.5 520.4" stroke="#f2e880" stroke-opacity="0.6" stroke-width="1.2" fill="none"/>
<path d="M788.8 514.3Q771.8 519.4 757.3 529.7" stroke="#f2e880" stroke-opacity="0.6" stroke-width="1.2" fill="none"/>
<path d="M788.5 511.9Q771.6 518.5 757.3 529.7" stroke="#f2e880" stroke-opacity="0.6" stroke-width="1.2" fill="none"/>
<path d="M791.3 510.3Q774.3 520.0 757.3 529.7" stroke="#f2e880" stroke-opacity="0.6" stroke-width="1.2" fill="none"/>
<path d="M789.6 516.8Q788.0 533.1 801.3 542.8" stroke="#e02020" stroke-opacity="0.4" stroke-width="0.7" fill="none"/>
<path d="M791.6 509.3Q795.0 530.0 804.5 548.8" stroke="#e02020" stroke-opacity="0.4" stroke-width="0.7" fill="none"/>
<path d="M785.3 517.0Q789.4 534.2 802.3 546.4" stroke="#e02020" stroke-opacity="0.4" stroke-width="0.7" fill="none"/>
<path d="M789.6 517.6Q797.7 531.1 802.8 546.0" stroke="#e02020" stroke-opacity="0.4" stroke-width="0.7" fill="none"/>
<path d="M794.7 509.4Q790.5 531.8 806.1 548.3" stroke="#e02020" stroke-opacity="0.4" stroke-width="0.7" fill="none"/>
<path d="M786.0 516.8Q792.4 534.7 809.4 543.2" stroke="#e02020" stroke-opacity="0.4" stroke-width="0.7" fill="none"/>
<path d="M787.3 509.5Q787.2 529.9 802.6 543.1" stroke="#e02020" stroke-opacity="0.4" stroke-width="0.7" fill="none"/>
<path d="M789.6 517.9Q798.0 531.5 809.9 542.1" stroke="#e02020" stroke-opacity="0.4" stroke-width="0.7" fill="none"/>
<path d="M785.6 513.8Q798.4 528.5 807.1 545.9" stroke="#e02020" stroke-opacity="0.4" stroke-width="0.7" fill="none"/>
<path d="M791.1 509.1Q802.4 525.8 809.4 544.6" stroke="#e02020" stroke-opacity="0.4" stroke-width="0.7" fill="none"/>
<path d="M794.8 517.4Q799.1 533.5 804.3 549.3" stroke="#e02020" stroke-opacity="0.4" stroke-width="0.7" fill="none"/>
<path d="M790.3 513.7Q801.9 525.6 808.9 540.7" stroke="#e02020" stroke-opacity="0.4" stroke-width="0.7" fill="none"/>
<path d="M786.5 511.8Q799.7 528.3 809.0 547.2" stroke="#e02020" stroke-opacity="0.4" stroke-width="0.7" fill="none"/>
<path d="M792.3 509.9Q787.6 529.7 801.2 544.8" stroke="#e02020" stroke-opacity="0.4" stroke-width="0.7" fill="none"/>
<path d="M794.1 512.4Q802.6 526.6 809.0 541.9" stroke="#e02020" stroke-opacity="0.4" stroke-width="0.7" fill="none"/>
<path d="M794.6 514.7Q792.7 530.7 802.7 543.4" stroke="#e02020" stroke-opacity="0.4" stroke-width="0.7" fill="none"/>
<path d="M789.3 511.4Q809.9 523.3 824.0 542.5" stroke="#e02020" stroke-opacity="0.4" stroke-width="0.7" fill="none"/>
<path d="M791.1 513.3Q811.2 523.8 825.3 541.4" stroke="#e02020" stroke-opacity="0.4" stroke-width="0.7" fill="none"/>
<path d="M791.7 514.0Q814.7 519.9 828.0 539.6" stroke="#e02020" stroke-opacity="0.4" stroke-width="0.7" fill="none"/>
<path d="M787.9 514.3Q808.5 524.2 824.0 540.9" stroke="#e02020" stroke-opacity="0.4" stroke-width="0.7" fill="none"/>
<path d="M787.4 514.7Q806.7 526.6 823.2 542.2" stroke="#e02020" stroke-opacity="0.4" stroke-width="0.7" fill="none"/>
<path d="M788.3 514.4Q809.9 522.7 827.4 537.8" stroke="#e02020" stroke-opacity="0.4" stroke-width="0.7" fill="none"/>
<path d="M787.7 515.5Q813.2 520.9 827.1 542.9" stroke="#e02020" stroke-opacity="0.4" stroke-width="0.7" fill="none"/>
<path d="M788.9 513.7Q808.8 524.3 826.6 538.1" stroke="#e02020" stroke-opacity="0.4" stroke-width="0.7" fill="none"/>
<path d="M792.1 511.8Q812.0 522.0 823.9 541.0" stroke="#e02020" stroke-opacity="0.4" stroke-width="0.7" fill="none"/>
<path d="M791.0 513.0Q812.8 518.4 825.4 537.1" stroke="#e02020" stroke-opacity="0.4" stroke-width="0.7" fill="none"/>
<path d="M794.6 565.1Q800.8 555.5 805.1 544.9" stroke="#e02020" stroke-opacity="0.5" stroke-width="0.8" fill="none"/>
<path d="M794.7 568.6Q797.4 556.2 804.3 545.7" stroke="#e02020" stroke-opacity="0.5" stroke-width="0.8" fill="none"/>
<path d="M792.9 567.0Q799.2 556.2 804.1 544.8" stroke="#e02020" stroke-opacity="0.5" stroke-width="0.8" fill="none"/>
<path d="M794.2 565.9Q798.4 555.4 806.4 547.2" stroke="#e02020" stroke-opacity="0.5" stroke-width="0.8" fill="none"/>
<path d="M792.2 567.8Q767.8 580.6 751.6 602.9" stroke="#e04040" stroke-opacity="0.5" stroke-width="0.8" fill="none"/>
<path d="M795.2 566.8Q770.9 580.0 753.0 601.1" stroke="#e04040" stroke-opacity="0.5" stroke-width="0.8" fill="none"/>
<path d="M793.5 568.4Q770.0 582.5 753.2 604.0" stroke="#e04040" stroke-opacity="0.5" stroke-width="0.8" fill="none"/>
<path d="M793.6 567.2Q788.4 582.3 781.4 596.7" stroke="#e04040" stroke-opacity="0.5" stroke-width="0.8" fill="none"/>
<path d="M792.1 565.5Q785.0 581.0 778.0 596.6" stroke="#e04040" stroke-opacity="0.5" stroke-width="0.8" fill="none"/>
<path d="M796.0 567.8Q787.2 582.4 779.5 597.6" stroke="#e04040" stroke-opacity="0.5" stroke-width="0.8" fill="none"/>
<path d="M752.1 603.0Q765.3 600.5 778.3 597.4" stroke="#e06060" stroke-opacity="0.4" stroke-width="0.6" fill="none"/>
<path d="M751.0 602.1Q765.5 603.8 778.5 597.2" stroke="#e06060" stroke-opacity="0.4" stroke-width="0.6" fill="none"/>
<path d="M751.1 603.5Q765.5 605.4 778.5 599.2" stroke="#e06060" stroke-opacity="0.4" stroke-width="0.6" fill="none"/>
<path d="M777.6 542.6Q754.8 569.3 753.4 604.4" stroke="#e07070" stroke-opacity="0.35" stroke-width="0.5" fill="none"/>
<path d="M776.1 543.3Q756.4 568.9 754.8 601.1" stroke="#e07070" stroke-opacity="0.35" stroke-width="0.5" fill="none"/>
<path d="M775.3 544.3Q751.0 567.9 754.4 601.5" stroke="#e07070" stroke-opacity="0.35" stroke-width="0.5" fill="none"/>
<path d="M807.4 545.7Q798.7 574.3 779.8 597.4" stroke="#e07070" stroke-opacity="0.35" stroke-width="0.5" fill="none"/>
<path d="M807.6 544.2Q800.9 574.0 779.7 596.1" stroke="#e07070" stroke-opacity="0.35" stroke-width="0.5" fill="none"/>
<path d="M807.1 547.9Q796.4 574.6 779.9 598.2" stroke="#e07070" stroke-opacity="0.35" stroke-width="0.5" fill="none"/>
<path d="M818.1 556.3Q820.8 564.3 827.4 569.6" stroke="#c04040" stroke-opacity="0.5" stroke-width="0.7" fill="none"/>
<path d="M817.4 557.5Q820.0 565.5 826.3 570.9" stroke="#c04040" stroke-opacity="0.5" stroke-width="0.7" fill="none"/>
<path d="M727.4 602.5Q783.7 587.0 827.7 625.5" stroke="#dcc8b0" stroke-opacity="0.5" stroke-width="0.7" fill="none"/>
<path d="M727.3 600.3Q784.7 585.4 831.4 621.9" stroke="#dcc8b0" stroke-opacity="0.5" stroke-width="0.7" fill="none"/>
<path d="M730.8 603.0Q787.1 587.2 832.1 624.6" stroke="#dcc8b0" stroke-opacity="0.5" stroke-width="0.7" fill="none"/>
<path d="M729.4 601.5Q784.8 584.7 827.8 623.5" stroke="#dcc8b0" stroke-opacity="0.5" stroke-width="0.7" fill="none"/>
<path d="M731.6 601.6Q787.0 588.9 829.4 626.7" stroke="#dcc8b0" stroke-opacity="0.5" stroke-width="0.7" fill="none"/>
<path d="M731.0 604.1Q786.1 588.5 832.5 622.2" stroke="#dcc8b0" stroke-opacity="0.5" stroke-width="0.7" fill="none"/>
<path d="M727.4 601.5Q784.8 584.2 830.6 622.9" stroke="#dcc8b0" stroke-opacity="0.5" stroke-width="0.7" fill="none"/>
<path d="M728.3 601.5Q784.8 587.7 829.6 624.7" stroke="#dcc8b0" stroke-opacity="0.5" stroke-width="0.7" fill="none"/>
<path d="M745.0 620.6Q787.0 634.6 830.8 628.5" stroke="#dcc8b0" stroke-opacity="0.45" stroke-width="0.7" fill="none"/>
<path d="M747.8 619.5Q787.6 631.0 828.9 631.1" stroke="#dcc8b0" stroke-opacity="0.45" stroke-width="0.7" fill="none"/>
<path d="M742.9 624.0Q787.5 633.9 832.9 628.9" stroke="#dcc8b0" stroke-opacity="0.45" stroke-width="0.7" fill="none"/>
<path d="M747.8 621.0Q787.9 637.1 830.6 630.6" stroke="#dcc8b0" stroke-opacity="0.45" stroke-width="0.7" fill="none"/>
<path d="M747.5 624.8Q788.2 641.4 831.2 631.9" stroke="#dcc8b0" stroke-opacity="0.45" stroke-width="0.7" fill="none"/>
<path d="M745.9 621.6Q785.9 639.2 828.4 628.6" stroke="#dcc8b0" stroke-opacity="0.45" stroke-width="0.7" fill="none"/>
<path d="M746.2 619.6Q788.0 636.5 832.5 628.6" stroke="#dcc8b0" stroke-opacity="0.45" stroke-width="0.7" fill="none"/>
<path d="M744.8 620.6Q785.4 634.7 828.3 630.5" stroke="#dcc8b0" stroke-opacity="0.45" stroke-width="0.7" fill="none"/>
<path d="M752.0 603.0Q787.1 618.2 810.6 648.3" stroke="#e8a0a0" stroke-opacity="0.4" stroke-width="0.6" fill="none"/>
<path d="M753.2 604.7Q785.8 622.3 811.6 648.9" stroke="#e8a0a0" stroke-opacity="0.4" stroke-width="0.6" fill="none"/>
<path d="M753.2 603.5Q784.9 622.0 812.3 646.4" stroke="#e8a0a0" stroke-opacity="0.4" stroke-width="0.6" fill="none"/>
<path d="M744.9 617.3Q751.4 637.2 769.4 647.9" stroke="#dcc0a8" stroke-opacity="0.45" stroke-width="0.6" fill="none"/>
<path d="M741.4 622.5Q751.3 638.8 766.0 651.0" stroke="#dcc0a8" stroke-opacity="0.45" stroke-width="0.6" fill="none"/>
<path d="M740.1 619.1Q752.4 634.4 768.8 645.2" stroke="#dcc0a8" stroke-opacity="0.45" stroke-width="0.6" fill="none"/>
<path d="M739.1 617.4Q751.0 633.4 766.0 646.4" stroke="#dcc0a8" stroke-opacity="0.45" stroke-width="0.6" fill="none"/>
<path d="M743.7 619.5Q751.4 639.7 770.1 650.4" stroke="#dcc0a8" stroke-opacity="0.45" stroke-width="0.6" fill="none"/>
<path d="M770.7 652.3Q804.5 651.9 829.7 629.3" stroke="#f0c8a8" stroke-opacity="0.4" stroke-width="0.6" fill="none"/>
<path d="M770.1 651.4Q800.9 641.2 831.4 630.1" stroke="#f0c8a8" stroke-opacity="0.4" stroke-width="0.6" fill="none"/>
<path d="M768.0 653.0Q803.7 649.2 831.5 626.6" stroke="#f0c8a8" stroke-opacity="0.4" stroke-width="0.6" fill="none"/>
<path d="M768.0 649.2Q799.5 639.5 829.6 626.4" stroke="#f0c8a8" stroke-opacity="0.4" stroke-width="0.6" fill="none"/>
<path d="M770.0 650.9Q803.8 651.5 828.9 629.0" stroke="#f0c8a8" stroke-opacity="0.4" stroke-width="0.6" fill="none"/>
<path d="M832.5 625.8Q825.2 645.0 817.3 663.9" stroke="#f0b890" stroke-opacity="0.45" stroke-width="0.7" fill="none"/>
<path d="M829.3 627.7Q824.0 645.7 817.5 663.3" stroke="#f0b890" stroke-opacity="0.45" stroke-width="0.7" fill="none"/>
<path d="M832.3 629.3Q826.7 649.8 814.3 666.9" stroke="#f0b890" stroke-opacity="0.45" stroke-width="0.7" fill="none"/>
<path d="M830.6 628.3Q829.4 649.4 817.1 666.6" stroke="#f0b890" stroke-opacity="0.45" stroke-width="0.7" fill="none"/>
<path d="M827.9 631.0Q825.3 648.2 815.6 662.7" stroke="#f0b890" stroke-opacity="0.45" stroke-width="0.7" fill="none"/>
<path d="M808.4 647.8Q810.9 657.1 818.6 663.0" stroke="#f0b890" stroke-opacity="0.45" stroke-width="0.7" fill="none"/>
<path d="M811.0 645.2Q811.8 655.7 819.4 662.9" stroke="#f0b890" stroke-opacity="0.45" stroke-width="0.7" fill="none"/>
<path d="M810.7 646.2Q812.9 655.2 819.6 661.6" stroke="#f0b890" stroke-opacity="0.45" stroke-width="0.7" fill="none"/>
<path d="M776.0 651.8Q793.6 650.5 811.0 647.6" stroke="#f0c0a0" stroke-opacity="0.45" stroke-width="0.6" fill="none"/>
<path d="M775.3 649.7Q792.3 650.8 809.1 647.4" stroke="#f0c0a0" stroke-opacity="0.45" stroke-width="0.6" fill="none"/>
<path d="M776.9 649.4Q793.9 653.5 810.2 647.1" stroke="#f0c0a0" stroke-opacity="0.45" stroke-width="0.6" fill="none"/>
<path d="M773.2 650.9Q790.9 648.8 808.4 645.4" stroke="#f0c0a0" stroke-opacity="0.45" stroke-width="0.6" fill="none"/>
<path d="M849.9 624.2Q874.4 616.0 899.9 620.1" stroke="#f8dcc0" stroke-opacity="0.5" stroke-width="0.6" fill="none"/>
<path d="M850.0 623.7Q873.6 612.1 898.9 619.5" stroke="#f8dcc0" stroke-opacity="0.5" stroke-width="0.6" fill="none"/>
<path d="M848.6 626.0Q872.8 614.5 898.8 621.0" stroke="#f8dcc0" stroke-opacity="0.5" stroke-width="0.6" fill="none"/>
<path d="M866.2 635.4Q884.4 632.4 898.1 620.1" stroke="#f8dcc0" stroke-opacity="0.5" stroke-width="0.6" fill="none"/>
<path d="M867.2 636.9Q884.7 631.0 900.5 621.5" stroke="#f8dcc0" stroke-opacity="0.5" stroke-width="0.6" fill="none"/>
<path d="M868.9 635.1Q887.0 631.9 900.4 619.5" stroke="#f8dcc0" stroke-opacity="0.5" stroke-width="0.6" fill="none"/>
<path d="M900.3 616.8Q908.1 602.0 912.6 585.8" stroke="#f8dcc0" stroke-opacity="0.5" stroke-width="0.6" fill="none"/>
<path d="M899.8 617.4Q910.2 603.1 911.2 585.5" stroke="#f8dcc0" stroke-opacity="0.5" stroke-width="0.6" fill="none"/>
<path d="M704.4 585.9Q701.4 580.3 695.9 577.0" stroke="#abd0b9" stroke-opacity="0.6" stroke-width="0.8" fill="none"/>
<path d="M705.4 585.4Q700.3 581.0 694.0 578.7" stroke="#abd0b9" stroke-opacity="0.6" stroke-width="0.8" fill="none"/>
<path d="M700.4 599.2Q698.3 596.3 695.3 594.2" stroke="#abd0b9" stroke-opacity="0.6" stroke-width="0.8" fill="none"/>
<path d="M700.8 600.6Q699.7 596.7 696.7 593.8" stroke="#abd0b9" stroke-opacity="0.6" stroke-width="0.8" fill="none"/>
<path d="M793.2 567.3Q766.7 579.6 751.1 604.2" stroke="#e08080" stroke-opacity="0.4" stroke-width="0.5" fill="none"/>
<path d="M793.3 568.6Q767.3 579.8 753.2 604.4" stroke="#e08080" stroke-opacity="0.4" stroke-width="0.5" fill="none"/>
<circle cx="759.7" cy="109" r="2.5" fill="#2b7bb9" stroke="#1d5f94" stroke-width="0.7"/>
<circle cx="792.1" cy="107.9" r="2.8" fill="#2b7bb9" stroke="#1d5f94" stroke-width="0.7"/>
<circle cx="761" cy="116.4" r="3.9" fill="#2b7bb9" stroke="#1d5f94" stroke-width="0.7"/>
<circle cx="766.2" cy="114.7" r="3.3" fill="#2b7bb9" stroke="#1d5f94" stroke-width="0.7"/>
<circle cx="781.6" cy="116.4" r="4.4" fill="#2b7bb9" stroke="#1d5f94" stroke-width="0.7"/>
<circle cx="778.5" cy="117.5" r="3.5" fill="#2b7bb9" stroke="#1d5f94" stroke-width="0.7"/>
<circle cx="775.4" cy="121.7" r="3.7" fill="#2b7bb9" stroke="#1d5f94" stroke-width="0.7"/>
<circle cx="760.1" cy="124.7" r="3.9" fill="#2b7bb9" stroke="#1d5f94" stroke-width="0.7"/>
<circle cx="787.7" cy="127.4" r="3.3" fill="#2b7bb9" stroke="#1d5f94" stroke-width="0.7"/>
<circle cx="789.9" cy="126.5" r="2.6" fill="#2b7bb9" stroke="#1d5f94" stroke-width="0.7"/>
<circle cx="758.8" cy="131.7" r="3.1" fill="#2b7bb9" stroke="#1d5f94" stroke-width="0.7"/>
<circle cx="764.5" cy="131.7" r="3.1" fill="#2b7bb9" stroke="#1d5f94" stroke-width="0.7"/>
<circle cx="763.2" cy="135.2" r="3.1" fill="#2b7bb9" stroke="#1d5f94" stroke-width="0.7"/>
<circle cx="775.9" cy="134.8" r="2.6" fill="#2b7bb9" stroke="#1d5f94" stroke-width="0.7"/>
<circle cx="756.2" cy="138.3" r="3.5" fill="#2b7bb9" stroke="#1d5f94" stroke-width="0.7"/>
<circle cx="769.7" cy="137" r="4.4" fill="#2b7bb9" stroke="#1d5f94" stroke-width="0.7"/>
<circle cx="765.4" cy="142.2" r="4.8" fill="#2b7bb9" stroke="#1d5f94" stroke-width="0.7"/>
<circle cx="770.6" cy="141.4" r="3.5" fill="#2b7bb9" stroke="#1d5f94" stroke-width="0.7"/>
<circle cx="775" cy="145.3" r="2.6" fill="#2b7bb9" stroke="#1d5f94" stroke-width="0.7"/>
<circle cx="768" cy="149.2" r="2.6" fill="#2b7bb9" stroke="#1d5f94" stroke-width="0.7"/>
<circle cx="767.1" cy="145.7" r="3.5" fill="#2b7bb9" stroke="#1d5f94" stroke-width="0.7"/>
<circle cx="762" cy="128" r="3" fill="#2b7bb9" stroke="#1d5f94" stroke-width="0.7"/>
<circle cx="768" cy="132" r="3" fill="#2b7bb9" stroke="#1d5f94" stroke-width="0.7"/>
<circle cx="779.8" cy="132.2" r="2.4" fill="#f1a377" stroke="#c0805c" stroke-width="0.7"/>
<circle cx="782.9" cy="136.1" r="3" fill="#f1a377" stroke="#c0805c" stroke-width="0.7"/>
<circle cx="784.2" cy="138.7" r="2.8" fill="#f1a377" stroke="#c0805c" stroke-width="0.7"/>
<circle cx="785" cy="142.2" r="2.6" fill="#f1a377" stroke="#c0805c" stroke-width="0.7"/>
<circle cx="681.3" cy="152.9" r="2.7" fill="#e5644a" stroke="#b44c37" stroke-width="0.7"/>
<circle cx="681.8" cy="162.4" r="3" fill="#e5644a" stroke="#b44c37" stroke-width="0.7"/>
<circle cx="685.4" cy="171.2" r="3.5" fill="#e5644a" stroke="#b44c37" stroke-width="0.7"/>
<circle cx="689.2" cy="165.7" r="3.5" fill="#e5644a" stroke="#b44c37" stroke-width="0.7"/>
<circle cx="694.1" cy="166.8" r="3.3" fill="#e5644a" stroke="#b44c37" stroke-width="0.7"/>
<circle cx="698.5" cy="170.6" r="3.3" fill="#e5644a" stroke="#b44c37" stroke-width="0.7"/>
<circle cx="714.9" cy="170.6" r="2.4" fill="#e5644a" stroke="#b44c37" stroke-width="0.7"/>
<circle cx="715.5" cy="181" r="4.6" fill="#e5644a" stroke="#b44c37" stroke-width="0.7"/>
<circle cx="727.5" cy="155.9" r="3.8" fill="#e5644a" stroke="#b44c37" stroke-width="0.7"/>
<circle cx="729.7" cy="157.5" r="3.3" fill="#e5644a" stroke="#b44c37" stroke-width="0.7"/>
<circle cx="743.9" cy="149.8" r="2.7" fill="#e5644a" stroke="#b44c37" stroke-width="0.7"/>
<circle cx="741.2" cy="158" r="4.2" fill="#e5644a" stroke="#b44c37" stroke-width="0.7"/>
<circle cx="741.7" cy="165.7" r="3.8" fill="#e5644a" stroke="#b44c37" stroke-width="0.7"/>
<circle cx="757" cy="154.2" r="3.8" fill="#e5644a" stroke="#b44c37" stroke-width="0.7"/>
<circle cx="758.7" cy="171.7" r="3.3" fill="#e5644a" stroke="#b44c37" stroke-width="0.7"/>
<circle cx="761.4" cy="170.6" r="3.3" fill="#e5644a" stroke="#b44c37" stroke-width="0.7"/>
<circle cx="760.8" cy="176.6" r="2.7" fill="#e5644a" stroke="#b44c37" stroke-width="0.7"/>
<circle cx="743.9" cy="179.4" r="3" fill="#e5644a" stroke="#b44c37" stroke-width="0.7"/>
<circle cx="733.8" cy="189.2" r="2.7" fill="#e5644a" stroke="#b44c37" stroke-width="0.7"/>
<circle cx="753.7" cy="200.1" r="2.7" fill="#e5644a" stroke="#b44c37" stroke-width="0.7"/>
<circle cx="734.9" cy="201.8" r="3.5" fill="#e5644a" stroke="#b44c37" stroke-width="0.7"/>
<circle cx="712.2" cy="205.1" r="3.3" fill="#e5644a" stroke="#b44c37" stroke-width="0.7"/>
<circle cx="712.7" cy="210.5" r="3.5" fill="#e5644a" stroke="#b44c37" stroke-width="0.7"/>
<circle cx="691" cy="167" r="3" fill="#e5644a" stroke="#b44c37" stroke-width="0.7"/>
<circle cx="777.4" cy="174.8" r="2.6" fill="#f1a377" stroke="#c0805c" stroke-width="0.7"/>
<circle cx="775.4" cy="180" r="2.6" fill="#f4f2a6" stroke="#c4c280" stroke-width="0.7"/>
<circle cx="777.4" cy="187.2" r="2.6" fill="#f4f2a6" stroke="#c4c280" stroke-width="0.7"/>
<circle cx="773.9" cy="189.6" r="2.6" fill="#f4f2a6" stroke="#c4c280" stroke-width="0.7"/>
<circle cx="780.7" cy="193.8" r="2.9" fill="#f4f2a6" stroke="#c4c280" stroke-width="0.7"/>
<circle cx="783.3" cy="195.1" r="2.6" fill="#f4f2a6" stroke="#c4c280" stroke-width="0.7"/>
<circle cx="782" cy="199.7" r="2.6" fill="#f4f2a6" stroke="#c4c280" stroke-width="0.7"/>
<circle cx="792.5" cy="205.6" r="2.8" fill="#f4f2a6" stroke="#c4c280" stroke-width="0.7"/>
<circle cx="793.8" cy="208.9" r="3.3" fill="#f4f2a6" stroke="#c4c280" stroke-width="0.7"/>
<circle cx="791.8" cy="211.5" r="2.8" fill="#f4f2a6" stroke="#c4c280" stroke-width="0.7"/>
<circle cx="750.5" cy="221.7" r="3.4" fill="#88bdb4" stroke="#6a9a92" stroke-width="0.7"/>
<circle cx="754.7" cy="220" r="3" fill="#88bdb4" stroke="#6a9a92" stroke-width="0.7"/>
<circle cx="748.9" cy="227.6" r="3" fill="#88bdb4" stroke="#6a9a92" stroke-width="0.7"/>
<circle cx="741.3" cy="236.8" r="3.6" fill="#88bdb4" stroke="#6a9a92" stroke-width="0.7"/>
<circle cx="749.7" cy="236" r="3" fill="#88bdb4" stroke="#6a9a92" stroke-width="0.7"/>
<circle cx="769" cy="228.4" r="3" fill="#88bdb4" stroke="#6a9a92" stroke-width="0.7"/>
<circle cx="696.8" cy="277.1" r="3" fill="#abd0b9" stroke="#86a892" stroke-width="0.7"/>
<circle cx="701.9" cy="281.3" r="3" fill="#abd0b9" stroke="#86a892" stroke-width="0.7"/>
<circle cx="685.9" cy="283.8" r="3.3" fill="#abd0b9" stroke="#86a892" stroke-width="0.7"/>
<circle cx="708.6" cy="291.3" r="3" fill="#abd0b9" stroke="#86a892" stroke-width="0.7"/>
<circle cx="706.1" cy="293.9" r="3" fill="#abd0b9" stroke="#86a892" stroke-width="0.7"/>
<circle cx="717.8" cy="291.3" r="3" fill="#abd0b9" stroke="#86a892" stroke-width="0.7"/>
<circle cx="712.8" cy="298.1" r="2.8" fill="#abd0b9" stroke="#86a892" stroke-width="0.7"/>
<circle cx="786.2" cy="280.7" r="4" fill="#2b7bb9" stroke="#1d5f94" stroke-width="0.7"/>
<circle cx="788.6" cy="283.8" r="3.5" fill="#2b7bb9" stroke="#1d5f94" stroke-width="0.7"/>
<circle cx="785.4" cy="290.2" r="4" fill="#2b7bb9" stroke="#1d5f94" stroke-width="0.7"/>
<circle cx="790.1" cy="292.6" r="3" fill="#2b7bb9" stroke="#1d5f94" stroke-width="0.7"/>
<circle cx="792.5" cy="296.6" r="3" fill="#2b7bb9" stroke="#1d5f94" stroke-width="0.7"/>
<circle cx="798.9" cy="293.9" r="2.5" fill="#2b7bb9" stroke="#1d5f94" stroke-width="0.7"/>
<circle cx="786.2" cy="300.3" r="3.5" fill="#2b7bb9" stroke="#1d5f94" stroke-width="0.7"/>
<circle cx="834" cy="310.2" r="3.5" fill="#4f8fc0" stroke="#3a6f99" stroke-width="0.7"/>
<circle cx="840.4" cy="312.5" r="4" fill="#4f8fc0" stroke="#3a6f99" stroke-width="0.7"/>
<circle cx="848.3" cy="269.5" r="3.5" fill="#bcd4a8" stroke="#95ab84" stroke-width="0.7"/>
<circle cx="833.2" cy="276.4" r="3.2" fill="#bcd4a8" stroke="#95ab84" stroke-width="0.7"/>
<circle cx="898.6" cy="257.5" r="3" fill="#e2ecb0" stroke="#b4bd88" stroke-width="0.7"/>
<circle cx="893.8" cy="263.9" r="3" fill="#e2ecb0" stroke="#b4bd88" stroke-width="0.7"/>
<circle cx="901" cy="263.9" r="3" fill="#e2ecb0" stroke="#b4bd88" stroke-width="0.7"/>
<circle cx="893" cy="270.3" r="3" fill="#e2ecb0" stroke="#b4bd88" stroke-width="0.7"/>
<circle cx="902.5" cy="268.7" r="3" fill="#e2ecb0" stroke="#b4bd88" stroke-width="0.7"/>
<circle cx="905.7" cy="271.9" r="2.8" fill="#e2ecb0" stroke="#b4bd88" stroke-width="0.7"/>
<circle cx="882.6" cy="279.9" r="3" fill="#e2ecb0" stroke="#b4bd88" stroke-width="0.7"/>
<circle cx="886.6" cy="292.6" r="3" fill="#e2ecb0" stroke="#b4bd88" stroke-width="0.7"/>
<circle cx="896.8" cy="267.8" r="3" fill="#e2ecb0" stroke="#b4bd88" stroke-width="0.7"/>
<circle cx="842" cy="38.7" r="2.8" fill="#f9c88f" stroke="#c99f70" stroke-width="0.7"/>
<circle cx="845.8" cy="38.7" r="2.8" fill="#f9c88f" stroke="#c99f70" stroke-width="0.7"/>
<circle cx="842.9" cy="42.5" r="2.8" fill="#f9c88f" stroke="#c99f70" stroke-width="0.7"/>
<circle cx="847.7" cy="43.5" r="2.8" fill="#f9c88f" stroke="#c99f70" stroke-width="0.7"/>
<circle cx="847.7" cy="49.2" r="2.8" fill="#f9c88f" stroke="#c99f70" stroke-width="0.7"/>
<circle cx="855.4" cy="58.9" r="3" fill="#f7d9a0" stroke="#c8ad7c" stroke-width="0.7"/>
<circle cx="806.9" cy="57.5" r="2.3" fill="#72a8c4" stroke="#5a8aa3" stroke-width="0.7"/>
<circle cx="816" cy="56.6" r="3" fill="#72a8c4" stroke="#5a8aa3" stroke-width="0.7"/>
<circle cx="816.9" cy="60.8" r="2.5" fill="#72a8c4" stroke="#5a8aa3" stroke-width="0.7"/>
<circle cx="837.1" cy="67.5" r="3" fill="#dc1f24" stroke="#a8161a" stroke-width="0.7"/>
<circle cx="841" cy="68.5" r="3" fill="#dc1f24" stroke="#a8161a" stroke-width="0.7"/>
<circle cx="845.8" cy="68.5" r="3" fill="#dc1f24" stroke="#a8161a" stroke-width="0.7"/>
<circle cx="839.1" cy="73.3" r="3.8" fill="#dc1f24" stroke="#a8161a" stroke-width="0.7"/>
<circle cx="842.9" cy="74.3" r="3" fill="#dc1f24" stroke="#a8161a" stroke-width="0.7"/>
<circle cx="838.1" cy="78.1" r="3" fill="#dc1f24" stroke="#a8161a" stroke-width="0.7"/>
<circle cx="843.9" cy="79.1" r="3" fill="#dc1f24" stroke="#a8161a" stroke-width="0.7"/>
<circle cx="852.5" cy="87.7" r="2.4" fill="#dc1f24" stroke="#a8161a" stroke-width="0.7"/>
<circle cx="854.5" cy="98.9" r="2.4" fill="#dc1f24" stroke="#a8161a" stroke-width="0.7"/>
<circle cx="846.8" cy="103.1" r="3" fill="#dc1f24" stroke="#a8161a" stroke-width="0.7"/>
<circle cx="842" cy="108.5" r="3" fill="#dc1f24" stroke="#a8161a" stroke-width="0.7"/>
<circle cx="843.9" cy="113.1" r="2.8" fill="#e4574f" stroke="#b44440" stroke-width="0.7"/>
<circle cx="894.9" cy="94.5" r="2.4" fill="#dc1f24" stroke="#a8161a" stroke-width="0.7"/>
<circle cx="891" cy="103.1" r="3" fill="#dc1f24" stroke="#a8161a" stroke-width="0.7"/>
<circle cx="893.9" cy="105" r="3" fill="#dc1f24" stroke="#a8161a" stroke-width="0.7"/>
<circle cx="890.1" cy="108.9" r="3.8" fill="#dc1f24" stroke="#a8161a" stroke-width="0.7"/>
<circle cx="895.8" cy="110.8" r="3.8" fill="#dc1f24" stroke="#a8161a" stroke-width="0.7"/>
<circle cx="892" cy="114.7" r="3" fill="#dc1f24" stroke="#a8161a" stroke-width="0.7"/>
<circle cx="884.3" cy="120.4" r="3" fill="#dc1f24" stroke="#a8161a" stroke-width="0.7"/>
<circle cx="878.5" cy="123.3" r="2.5" fill="#dc1f24" stroke="#a8161a" stroke-width="0.7"/>
<circle cx="882.4" cy="119.5" r="2.5" fill="#dc1f24" stroke="#a8161a" stroke-width="0.7"/>
<circle cx="888.1" cy="126.2" r="2.5" fill="#dc1f24" stroke="#a8161a" stroke-width="0.7"/>
<circle cx="871.8" cy="128.1" r="2.5" fill="#dc1f24" stroke="#a8161a" stroke-width="0.7"/>
<circle cx="899.7" cy="122.4" r="3" fill="#dc1f24" stroke="#a8161a" stroke-width="0.7"/>
<circle cx="904.5" cy="126.2" r="3" fill="#dc1f24" stroke="#a8161a" stroke-width="0.7"/>
<circle cx="900.6" cy="133.9" r="2.5" fill="#dc1f24" stroke="#a8161a" stroke-width="0.7"/>
<circle cx="895.8" cy="136.8" r="2.5" fill="#dc1f24" stroke="#a8161a" stroke-width="0.7"/>
<circle cx="811.2" cy="152.3" r="3" fill="#e5644a" stroke="#b44c37" stroke-width="0.7"/>
<circle cx="806.4" cy="168.3" r="3" fill="#dc1f24" stroke="#a8161a" stroke-width="0.7"/>
<circle cx="793.8" cy="172.1" r="3" fill="#f1a377" stroke="#c0805c" stroke-width="0.7"/>
<circle cx="798.7" cy="171.2" r="3" fill="#f1a377" stroke="#c0805c" stroke-width="0.7"/>
<circle cx="803.5" cy="174" r="3" fill="#f1a377" stroke="#c0805c" stroke-width="0.7"/>
<circle cx="800.6" cy="178.9" r="3" fill="#f1a377" stroke="#c0805c" stroke-width="0.7"/>
<circle cx="810.2" cy="181.7" r="3" fill="#f1a377" stroke="#c0805c" stroke-width="0.7"/>
<circle cx="809.2" cy="188.5" r="3" fill="#f1a377" stroke="#c0805c" stroke-width="0.7"/>
<circle cx="813.1" cy="190.4" r="3" fill="#f1a377" stroke="#c0805c" stroke-width="0.7"/>
<circle cx="872.7" cy="188.5" r="3.5" fill="#dc1f24" stroke="#a8161a" stroke-width="0.7"/>
<circle cx="878.5" cy="193.3" r="3.5" fill="#dc1f24" stroke="#a8161a" stroke-width="0.7"/>
<circle cx="883.3" cy="193.3" r="3.8" fill="#dc1f24" stroke="#a8161a" stroke-width="0.7"/>
<circle cx="893.9" cy="196.2" r="3.5" fill="#dc1f24" stroke="#a8161a" stroke-width="0.7"/>
<circle cx="894.9" cy="200" r="3" fill="#dc1f24" stroke="#a8161a" stroke-width="0.7"/>
<circle cx="889.1" cy="202.9" r="3.5" fill="#dc1f24" stroke="#a8161a" stroke-width="0.7"/>
<circle cx="861.2" cy="207.7" r="3.5" fill="#dc1f24" stroke="#a8161a" stroke-width="0.7"/>
<circle cx="864.1" cy="211.6" r="3.5" fill="#dc1f24" stroke="#a8161a" stroke-width="0.7"/>
<circle cx="856.4" cy="213.5" r="3.5" fill="#dc1f24" stroke="#a8161a" stroke-width="0.7"/>
<circle cx="853.5" cy="216.4" r="3" fill="#dc1f24" stroke="#a8161a" stroke-width="0.7"/>
<circle cx="857.3" cy="219.3" r="3" fill="#dc1f24" stroke="#a8161a" stroke-width="0.7"/>
<circle cx="835.8" cy="222.2" r="2.5" fill="#e2ecb0" stroke="#b4bd88" stroke-width="0.7"/>
<circle cx="732.6" cy="398.3" r="3.1" fill="#2b7bb9" stroke="#1d5f94" stroke-width="0.7"/>
<circle cx="737.3" cy="399" r="3.1" fill="#2b7bb9" stroke="#1d5f94" stroke-width="0.7"/>
<circle cx="761.5" cy="393.8" r="2.8" fill="#2b7bb9" stroke="#1d5f94" stroke-width="0.7"/>
<circle cx="774.2" cy="392.4" r="3.5" fill="#2b7bb9" stroke="#1d5f94" stroke-width="0.7"/>
<circle cx="779.1" cy="388.5" r="2.8" fill="#2b7bb9" stroke="#1d5f94" stroke-width="0.7"/>
<circle cx="782" cy="395.5" r="3.5" fill="#2b7bb9" stroke="#1d5f94" stroke-width="0.7"/>
<circle cx="778.4" cy="393.4" r="3.5" fill="#2b7bb9" stroke="#1d5f94" stroke-width="0.7"/>
<circle cx="748.1" cy="405.4" r="2.8" fill="#2b7bb9" stroke="#1d5f94" stroke-width="0.7"/>
<circle cx="755.9" cy="407.1" r="3.5" fill="#2b7bb9" stroke="#1d5f94" stroke-width="0.7"/>
<circle cx="670.6" cy="431.5" r="2.5" fill="#88bdb4" stroke="#6a9a92" stroke-width="0.7"/>
<circle cx="677.6" cy="430.8" r="3.5" fill="#88bdb4" stroke="#6a9a92" stroke-width="0.7"/>
<circle cx="678.3" cy="435" r="3.5" fill="#88bdb4" stroke="#6a9a92" stroke-width="0.7"/>
<circle cx="706.5" cy="422.3" r="3.5" fill="#88bdb4" stroke="#6a9a92" stroke-width="0.7"/>
<circle cx="711.5" cy="422.6" r="2.8" fill="#88bdb4" stroke="#6a9a92" stroke-width="0.7"/>
<circle cx="691" cy="437.8" r="3.1" fill="#88bdb4" stroke="#6a9a92" stroke-width="0.7"/>
<circle cx="696.9" cy="437.1" r="2.8" fill="#88bdb4" stroke="#6a9a92" stroke-width="0.7"/>
<circle cx="694.5" cy="443.5" r="5.5" fill="#88bdb4" stroke="#6a9a92" stroke-width="0.7"/>
<circle cx="700.9" cy="449.8" r="3.1" fill="#88bdb4" stroke="#6a9a92" stroke-width="0.7"/>
<circle cx="702.3" cy="455.4" r="3.1" fill="#88bdb4" stroke="#6a9a92" stroke-width="0.7"/>
<circle cx="708.6" cy="442" r="4.2" fill="#88bdb4" stroke="#6a9a92" stroke-width="0.7"/>
<circle cx="711.5" cy="443.5" r="3" fill="#88bdb4" stroke="#6a9a92" stroke-width="0.7"/>
<circle cx="684" cy="434" r="2.5" fill="#88bdb4" stroke="#6a9a92" stroke-width="0.7"/>
<circle cx="789.5" cy="457.7" r="2.8" fill="#e2ecb0" stroke="#b4bd88" stroke-width="0.7"/>
<circle cx="788.4" cy="462.5" r="3" fill="#e2ecb0" stroke="#b4bd88" stroke-width="0.7"/>
<circle cx="785.1" cy="470.1" r="3.8" fill="#e2ecb0" stroke="#b4bd88" stroke-width="0.7"/>
<circle cx="789.5" cy="471.2" r="3" fill="#e2ecb0" stroke="#b4bd88" stroke-width="0.7"/>
<circle cx="786" cy="472.6" r="3" fill="#e2ecb0" stroke="#b4bd88" stroke-width="0.7"/>
<circle cx="819.8" cy="501.5" r="6" fill="#2b7bb9" stroke="#1d5f94" stroke-width="0.7"/>
<circle cx="815" cy="498" r="4.5" fill="#2b7bb9" stroke="#1d5f94" stroke-width="0.7"/>
<circle cx="824" cy="497" r="4.5" fill="#2b7bb9" stroke="#1d5f94" stroke-width="0.7"/>
<circle cx="823" cy="505" r="4.5" fill="#2b7bb9" stroke="#1d5f94" stroke-width="0.7"/>
<circle cx="816" cy="505" r="4" fill="#2b7bb9" stroke="#1d5f94" stroke-width="0.7"/>
<circle cx="811.1" cy="499.7" r="3.5" fill="#2b7bb9" stroke="#1d5f94" stroke-width="0.7"/>
<circle cx="804.5" cy="514.1" r="4" fill="#2b7bb9" stroke="#1d5f94" stroke-width="0.7"/>
<circle cx="825.1" cy="512" r="4" fill="#2b7bb9" stroke="#1d5f94" stroke-width="0.7"/>
<circle cx="834.7" cy="513.3" r="3" fill="#2b7bb9" stroke="#1d5f94" stroke-width="0.7"/>
<circle cx="839" cy="503.2" r="3" fill="#2b7bb9" stroke="#1d5f94" stroke-width="0.7"/>
<circle cx="829.4" cy="489.7" r="3" fill="#2b7bb9" stroke="#1d5f94" stroke-width="0.7"/>
<circle cx="833" cy="480.5" r="3.5" fill="#2b7bb9" stroke="#1d5f94" stroke-width="0.7"/>
<circle cx="838.2" cy="478.7" r="3.5" fill="#2b7bb9" stroke="#1d5f94" stroke-width="0.7"/>
<circle cx="840.8" cy="481.4" r="3.5" fill="#2b7bb9" stroke="#1d5f94" stroke-width="0.7"/>
<circle cx="827" cy="494" r="3.5" fill="#2b7bb9" stroke="#1d5f94" stroke-width="0.7"/>
<circle cx="830" cy="502" r="3.5" fill="#2b7bb9" stroke="#1d5f94" stroke-width="0.7"/>
<circle cx="812" cy="497" r="4" fill="#2b7bb9" stroke="#1d5f94" stroke-width="0.7"/>
<circle cx="818" cy="493" r="4" fill="#2b7bb9" stroke="#1d5f94" stroke-width="0.7"/>
<circle cx="826" cy="491" r="3.5" fill="#2b7bb9" stroke="#1d5f94" stroke-width="0.7"/>
<circle cx="822" cy="508" r="4.5" fill="#2b7bb9" stroke="#1d5f94" stroke-width="0.7"/>
<circle cx="828" cy="507" r="4" fill="#2b7bb9" stroke="#1d5f94" stroke-width="0.7"/>
<circle cx="814" cy="509" r="4" fill="#2b7bb9" stroke="#1d5f94" stroke-width="0.7"/>
<circle cx="832" cy="497" r="3.5" fill="#2b7bb9" stroke="#1d5f94" stroke-width="0.7"/>
<circle cx="831" cy="486" r="3" fill="#2b7bb9" stroke="#1d5f94" stroke-width="0.7"/>
<circle cx="835" cy="484" r="3" fill="#2b7bb9" stroke="#1d5f94" stroke-width="0.7"/>
<circle cx="757.9" cy="501.2" r="3.1" fill="#dc1f24" stroke="#a8161a" stroke-width="0.7"/>
<circle cx="769.1" cy="499.9" r="2.8" fill="#dc1f24" stroke="#a8161a" stroke-width="0.7"/>
<circle cx="772.2" cy="496.2" r="2.8" fill="#dc1f24" stroke="#a8161a" stroke-width="0.7"/>
<circle cx="781.5" cy="506.1" r="2.6" fill="#dc1f24" stroke="#a8161a" stroke-width="0.7"/>
<circle cx="773.4" cy="512.3" r="2.6" fill="#dc1f24" stroke="#a8161a" stroke-width="0.7"/>
<circle cx="768.5" cy="521.6" r="3.1" fill="#dc1f24" stroke="#a8161a" stroke-width="0.7"/>
<circle cx="762.3" cy="525.9" r="2.8" fill="#dc1f24" stroke="#a8161a" stroke-width="0.7"/>
<circle cx="757.3" cy="534.6" r="3" fill="#e5644a" stroke="#b44c37" stroke-width="0.7"/>
<circle cx="766" cy="532.1" r="3.7" fill="#e5644a" stroke="#b44c37" stroke-width="0.7"/>
<circle cx="777.8" cy="529" r="2.8" fill="#dc1f24" stroke="#a8161a" stroke-width="0.7"/>
<circle cx="777.1" cy="533.4" r="3" fill="#e5644a" stroke="#b44c37" stroke-width="0.7"/>
<circle cx="782.7" cy="537.7" r="2.8" fill="#dc1f24" stroke="#a8161a" stroke-width="0.7"/>
<circle cx="775.9" cy="543.9" r="3.1" fill="#dc1f24" stroke="#a8161a" stroke-width="0.7"/>
<circle cx="801.9" cy="537.1" r="4" fill="#e4574f" stroke="#b44440" stroke-width="0.7"/>
<circle cx="806.9" cy="542" r="4" fill="#e4574f" stroke="#b44440" stroke-width="0.7"/>
<circle cx="809.3" cy="548.2" r="6" fill="#e4574f" stroke="#b44440" stroke-width="0.7"/>
<circle cx="813.1" cy="543.3" r="3.5" fill="#e4574f" stroke="#b44440" stroke-width="0.7"/>
<circle cx="804" cy="546" r="4" fill="#e4574f" stroke="#b44440" stroke-width="0.7"/>
<circle cx="821.7" cy="538.3" r="3.1" fill="#dc1f24" stroke="#a8161a" stroke-width="0.7"/>
<circle cx="827.9" cy="539.6" r="3.7" fill="#dc1f24" stroke="#a8161a" stroke-width="0.7"/>
<circle cx="824.2" cy="542" r="3.1" fill="#dc1f24" stroke="#a8161a" stroke-width="0.7"/>
<circle cx="819.3" cy="557.5" r="2.5" fill="#e4574f" stroke="#b44440" stroke-width="0.7"/>
<circle cx="793.9" cy="566.8" r="3.7" fill="#dc1f24" stroke="#a8161a" stroke-width="0.7"/>
<circle cx="788.4" cy="501.5" r="4" fill="#dc1f24" stroke="#a8161a" stroke-width="0.7"/>
<circle cx="781.4" cy="505.8" r="3" fill="#dc1f24" stroke="#a8161a" stroke-width="0.7"/>
<circle cx="752.5" cy="602.6" r="3.7" fill="#dc1f24" stroke="#a8161a" stroke-width="0.7"/>
<circle cx="779.9" cy="597.4" r="3.1" fill="#dc1f24" stroke="#a8161a" stroke-width="0.7"/>
<circle cx="827.3" cy="569.9" r="3.5" fill="#72a8c4" stroke="#5a8aa3" stroke-width="0.7"/>
<circle cx="769.1" cy="511.7" r="2.6" fill="#f4f2a6" stroke="#c4c280" stroke-width="0.7"/>
<circle cx="745.5" cy="520.4" r="4.3" fill="#f4f2a6" stroke="#c4c280" stroke-width="0.7"/>
<circle cx="757.3" cy="529.7" r="3.5" fill="#f4f2a6" stroke="#c4c280" stroke-width="0.7"/>
<circle cx="694.8" cy="577.2" r="3" fill="#abd0b9" stroke="#86a892" stroke-width="0.7"/>
<circle cx="696.1" cy="594.7" r="3" fill="#abd0b9" stroke="#86a892" stroke-width="0.7"/>
<circle cx="708.4" cy="592.7" r="3.7" fill="#abd0b9" stroke="#86a892" stroke-width="0.7"/>
<circle cx="708.8" cy="598.8" r="3.7" fill="#abd0b9" stroke="#86a892" stroke-width="0.7"/>
<circle cx="717.1" cy="600.9" r="6" fill="#abd0b9" stroke="#86a892" stroke-width="0.7"/>
<circle cx="690.3" cy="609.2" r="4.5" fill="#abd0b9" stroke="#86a892" stroke-width="0.7"/>
<circle cx="696.1" cy="616.4" r="2.7" fill="#abd0b9" stroke="#86a892" stroke-width="0.7"/>
<circle cx="704.7" cy="607.1" r="5.8" fill="#abd0b9" stroke="#86a892" stroke-width="0.7"/>
<circle cx="717.1" cy="607.1" r="5.8" fill="#abd0b9" stroke="#86a892" stroke-width="0.7"/>
<circle cx="726.4" cy="608.1" r="4.5" fill="#abd0b9" stroke="#86a892" stroke-width="0.7"/>
<circle cx="733.6" cy="607.1" r="3.7" fill="#abd0b9" stroke="#86a892" stroke-width="0.7"/>
<circle cx="730.5" cy="616.4" r="3.7" fill="#abd0b9" stroke="#86a892" stroke-width="0.7"/>
<circle cx="723.3" cy="615.3" r="3.7" fill="#abd0b9" stroke="#86a892" stroke-width="0.7"/>
<circle cx="714" cy="618.4" r="3" fill="#abd0b9" stroke="#86a892" stroke-width="0.7"/>
<circle cx="741.8" cy="621.5" r="5.2" fill="#abd0b9" stroke="#86a892" stroke-width="0.7"/>
<circle cx="745.9" cy="625.2" r="2.7" fill="#abd0b9" stroke="#86a892" stroke-width="0.7"/>
<circle cx="730.5" cy="629.8" r="3.7" fill="#abd0b9" stroke="#86a892" stroke-width="0.7"/>
<circle cx="727" cy="633.9" r="3.7" fill="#abd0b9" stroke="#86a892" stroke-width="0.7"/>
<circle cx="723.3" cy="620.5" r="3.5" fill="#abd0b9" stroke="#86a892" stroke-width="0.7"/>
<circle cx="711" cy="612" r="4" fill="#abd0b9" stroke="#86a892" stroke-width="0.7"/>
<circle cx="737" cy="614" r="3.5" fill="#abd0b9" stroke="#86a892" stroke-width="0.7"/>
<circle cx="768.2" cy="646.7" r="3.7" fill="#f1a377" stroke="#c0805c" stroke-width="0.7"/>
<circle cx="775.2" cy="651" r="3.1" fill="#f1a377" stroke="#c0805c" stroke-width="0.7"/>
<circle cx="766.5" cy="657" r="3.3" fill="#f1a377" stroke="#c0805c" stroke-width="0.7"/>
<circle cx="830" cy="624.6" r="4.5" fill="#f1a377" stroke="#c0805c" stroke-width="0.7"/>
<circle cx="839.1" cy="623.2" r="3.7" fill="#f1a377" stroke="#c0805c" stroke-width="0.7"/>
<circle cx="849.4" cy="622.5" r="3.7" fill="#f1a377" stroke="#c0805c" stroke-width="0.7"/>
<circle cx="832.5" cy="631.8" r="3.7" fill="#f1a377" stroke="#c0805c" stroke-width="0.7"/>
<circle cx="838.3" cy="634.9" r="3.1" fill="#f1a377" stroke="#c0805c" stroke-width="0.7"/>
<circle cx="844.4" cy="634.9" r="3.1" fill="#f1a377" stroke="#c0805c" stroke-width="0.7"/>
<circle cx="805.3" cy="646.9" r="3.3" fill="#f1a377" stroke="#c0805c" stroke-width="0.7"/>
<circle cx="812.5" cy="646.9" r="4.1" fill="#f1a377" stroke="#c0805c" stroke-width="0.7"/>
<circle cx="821.2" cy="659" r="3.3" fill="#f1a377" stroke="#c0805c" stroke-width="0.7"/>
<circle cx="817" cy="665.8" r="4.5" fill="#f1a377" stroke="#c0805c" stroke-width="0.7"/>
<circle cx="825.7" cy="667.5" r="3.3" fill="#f1a377" stroke="#c0805c" stroke-width="0.7"/>
<circle cx="845" cy="622" r="3" fill="#f1a377" stroke="#c0805c" stroke-width="0.7"/>
<circle cx="910.3" cy="582.3" r="3" fill="#f7d9a0" stroke="#c8ad7c" stroke-width="0.7"/>
<circle cx="916" cy="586.2" r="2.8" fill="#f7d9a0" stroke="#c8ad7c" stroke-width="0.7"/>
<circle cx="899.7" cy="618.9" r="3.5" fill="#f7d9a0" stroke="#c8ad7c" stroke-width="0.7"/>
<circle cx="902.6" cy="617.9" r="3" fill="#f7d9a0" stroke="#c8ad7c" stroke-width="0.7"/>
<circle cx="897.8" cy="624.7" r="3" fill="#f7d9a0" stroke="#c8ad7c" stroke-width="0.7"/>
<circle cx="867.9" cy="634.7" r="2.8" fill="#f7d9a0" stroke="#c8ad7c" stroke-width="0.7"/>
<circle cx="790.5" cy="513.7" r="8" fill="#f4f0a0" stroke="#dc1f24" stroke-width="4.6"/>
<circle cx="790.5" cy="513.7" r="10.3" fill="none" stroke="#a8161a" stroke-width="0.5"/>
<circle cx="791.9" cy="509.8" r="2.5" fill="#2b7bb9"/>
<circle cx="788.4" cy="503" r="3.5" fill="#dc1f24" stroke="#a8161a" stroke-width="0.5"/>
</svg></body></html>
